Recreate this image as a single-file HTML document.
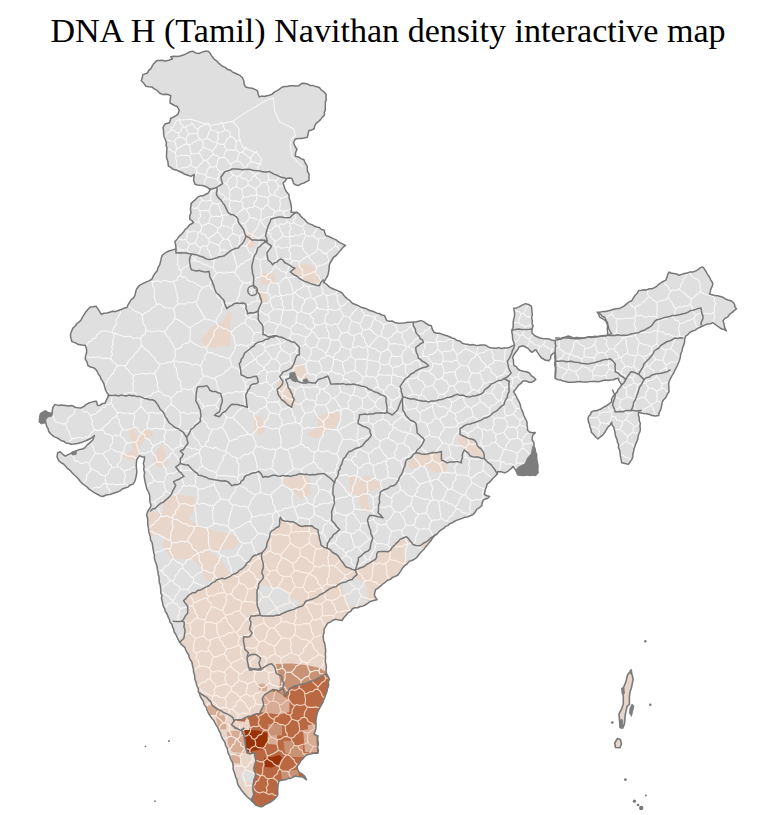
<!DOCTYPE html>
<html><head><meta charset="utf-8"><style>
html,body{margin:0;padding:0;background:#fff;width:770px;height:815px;overflow:hidden}
svg{display:block}
</style></head><body>
<svg width="770" height="815" viewBox="0 0 770 815">
<text x="388" y="41.6" text-anchor="middle" font-family="'Liberation Serif', serif" font-size="34.1" fill="#000">DNA H (Tamil) Navithan density interactive map</text>
<defs><clipPath id="c"><path d="M141.2,80.8 L142.8,74.6 L147.5,73.0 L153.7,63.7 L156.8,60.6 L167.7,60.6 L172.4,59.0 L170.8,56.7 L180.2,55.9 L186.4,53.6 L192.7,51.2 L198.9,53.6 L205.1,51.2 L208.2,51.2 L212.9,57.5 L219.2,63.7 L225.4,67.6 L234.7,73.0 L242.5,77.7 L245.6,87.0 L255.0,89.4 L257.5,90.9 L259.2,96.9 L269.5,95.2 L281.5,87.5 L290.1,85.8 L298.7,85.8 L302.2,83.2 L315.9,86.6 L319.3,87.5 L326.2,94.4 L325.4,104.7 L324.5,115.0 L315.9,123.6 L314.2,128.7 L309.0,130.4 L307.3,137.3 L295.3,139.0 L293.6,142.5 L297.0,149.3 L295.3,156.2 L303.9,159.7 L307.3,166.5 L309.0,176.8 L309.0,180.3 L298.7,185.4 L293.6,183.7 L291.9,178.6 L286.7,178.6 L283.0,183.0 L285.0,189.0 L289.0,194.8 L291.0,204.5 L291.0,212.0 L296.8,212.3 L300.7,216.0 L306.5,222.0 L314.3,226.0 L324.0,230.0 L326.0,235.7 L335.7,239.6 L345.5,245.5 L339.6,251.3 L333.8,257.0 L330.0,263.0 L328.0,274.7 L324.0,282.5 L331.8,288.3 L340.4,292.0 L353.4,303.8 L369.0,310.3 L384.5,315.5 L387.0,320.6 L400.0,323.2 L413.0,322.0 L421.0,320.6 L431.3,325.8 L434.0,332.3 L444.3,335.0 L454.7,338.8 L465.0,344.0 L475.5,345.3 L485.8,345.3 L491.0,348.0 L506.6,348.0 L514.4,345.3 L511.8,332.3 L514.4,316.8 L513.8,308.2 L519.0,306.9 L525.5,303.6 L531.3,306.2 L532.0,312.0 L532.0,323.8 L533.2,325.7 L532.0,329.0 L532.0,332.9 L534.5,335.5 L539.7,338.0 L546.2,338.7 L554.0,340.6 L563.1,338.0 L568.3,336.0 L574.8,338.7 L584.5,337.8 L601.4,336.0 L611.6,333.7 L608.2,326.0 L604.8,317.5 L598.0,312.5 L608.2,310.8 L621.7,307.4 L631.8,300.7 L638.6,290.5 L652.0,288.8 L665.6,280.4 L669.0,272.0 L679.0,275.3 L692.6,272.0 L702.7,266.9 L709.5,277.0 L712.9,283.8 L709.5,294.0 L723.0,297.3 L733.1,302.3 L736.5,309.0 L729.7,314.2 L723.0,321.0 L726.4,331.0 L719.6,327.7 L712.9,322.6 L702.7,326.0 L692.6,331.0 L685.8,336.0 L682.5,348.0 L679.0,361.4 L672.3,375.0 L669.0,381.7 L669.0,391.8 L662.2,402.0 L658.8,415.5 L652.0,415.5 L638.6,412.0 L640.3,429.0 L635.2,445.8 L631.8,459.4 L628.4,464.4 L621.7,462.7 L620.0,452.6 L615.0,432.3 L611.6,422.2 L604.8,432.3 L598.0,439.0 L591.3,432.3 L588.0,418.8 L591.3,412.0 L601.4,408.7 L611.6,402.0 L611.6,398.6 L621.7,385.0 L618.3,378.3 L598.0,381.7 L580.0,381.6 L571.0,382.2 L563.0,381.0 L555.3,378.3 L555.3,352.3 L552.7,353.6 L548.8,360.8 L545.0,360.0 L541.0,357.5 L535.8,349.7 L532.0,352.3 L525.5,347.0 L522.9,345.8 L519.0,347.0 L512.5,357.5 L513.8,365.3 L520.3,370.5 L529.4,373.0 L535.8,379.6 L532.0,382.2 L522.9,381.0 L519.0,384.8 L515.0,390.0 L513.6,391.8 L520.4,405.3 L523.8,415.5 L527.1,422.2 L527.5,430.0 L529.4,432.0 L535.3,432.6 L532.7,435.2 L532.0,439.7 L534.0,443.0 L534.0,446.2 L535.3,449.5 L536.6,457.3 L537.9,465.7 L537.9,472.9 L535.3,475.5 L527.5,474.8 L523.6,475.5 L517.7,474.8 L515.8,470.3 L513.2,466.4 L510.6,469.0 L504.7,472.9 L497.6,471.6 L497.4,473.8 L487.0,484.2 L484.4,494.5 L489.6,496.5 L483.1,500.4 L481.8,505.6 L476.6,509.5 L472.7,514.7 L464.9,517.3 L454.5,521.2 L445.5,526.4 L439.0,531.6 L432.5,538.0 L428.6,543.2 L422.1,551.0 L416.9,557.5 L409.1,561.4 L402.6,567.9 L398.0,575.0 L387.5,580.3 L378.4,588.0 L375.8,589.4 L374.5,595.8 L377.1,599.7 L371.9,601.0 L362.9,606.2 L352.5,608.8 L346.0,615.3 L342.1,620.5 L335.6,619.2 L327.8,623.1 L323.9,629.6 L323.4,638.2 L325.5,648.6 L325.5,659.0 L326.5,673.3 L329.4,679.0 L327.5,688.5 L323.6,700.0 L318.0,711.4 L316.0,719.0 L316.0,726.6 L314.0,734.2 L318.0,736.0 L318.0,753.2 L314.0,753.2 L306.5,755.0 L300.8,760.8 L297.0,766.5 L299.0,772.2 L304.6,776.0 L306.5,779.8 L302.7,777.0 L295.0,776.0 L285.6,779.8 L279.0,781.0 L277.8,788.4 L277.8,794.7 L274.7,798.8 L268.4,803.0 L262.2,806.7 L255.9,805.1 L249.6,798.8 L243.4,792.6 L238.2,785.3 L234.0,771.7 L231.9,761.3 L227.7,750.9 L223.6,740.4 L220.5,733.3 L216.8,726.0 L211.9,718.5 L207.0,710.0 L203.3,701.3 L199.6,694.0 L197.2,686.6 L194.7,676.8 L192.3,664.5 L188.6,654.7 L184.9,647.4 L179.7,642.3 L175.6,634.0 L172.5,626.8 L169.4,619.5 L165.2,611.2 L162.1,600.8 L159.1,577.1 L155.0,560.5 L152.9,548.0 L148.7,531.4 L146.6,514.8 L151.0,505.0 L149.8,498.4 L148.5,492.0 L146.0,485.5 L144.6,479.0 L144.6,472.5 L143.3,463.4 L144.6,456.9 L142.0,456.9 L139.4,455.6 L136.8,459.5 L136.2,466.0 L136.8,472.5 L135.5,479.0 L133.0,484.2 L125.0,488.0 L117.3,492.0 L109.5,494.5 L103.0,496.5 L97.9,494.5 L91.4,490.6 L84.9,485.5 L78.4,479.0 L71.9,472.5 L65.4,466.0 L58.9,460.8 L57.0,456.9 L57.6,453.0 L60.2,451.7 L62.8,454.3 L65.4,456.2 L71.9,453.0 L77.1,450.4 L84.9,447.8 L90.0,442.6 L92.7,440.0 L94.4,435.5 L93.4,436.6 L87.5,440.0 L81.0,442.6 L74.0,444.0 L68.4,443.3 L61.2,440.7 L53.9,436.6 L48.7,431.4 L46.6,426.2 L45.6,422.0 L39.4,422.0 L40.4,414.7 L45.6,411.6 L50.8,414.2 L52.3,413.2 L52.9,407.5 L55.0,404.4 L58.0,405.4 L65.3,405.4 L71.6,405.4 L75.7,407.5 L80.9,408.0 L84.0,406.4 L88.2,403.3 L96.5,401.2 L97.5,405.4 L104.8,403.3 L106.9,399.2 L109.0,395.0 L106.8,392.5 L102.8,381.7 L100.1,376.3 L96.0,369.6 L87.9,365.5 L85.2,358.8 L86.6,349.3 L85.2,345.3 L78.5,344.6 L71.7,341.3 L70.4,335.9 L73.1,327.8 L81.2,319.7 L85.2,312.9 L90.6,306.9 L96.0,306.2 L98.7,310.2 L101.4,314.3 L109.5,312.3 L119.0,310.2 L127.0,307.5 L129.7,302.1 L135.0,295.4 L136.4,289.4 L139.5,285.3 L145.8,282.1 L152.0,279.0 L157.2,270.7 L160.3,262.4 L162.4,255.1 L166.6,252.0 L172.8,249.9 L175.9,248.9 L175.9,245.8 L174.9,241.6 L179.0,236.4 L183.2,232.3 L189.4,225.0 L193.6,222.5 L189.7,219.2 L191.0,212.7 L190.4,208.8 L191.0,203.6 L193.6,201.0 L197.5,197.1 L202.7,195.8 L208.0,193.2 L210.5,189.4 L209.2,188.7 L202.7,185.5 L195.0,184.2 L193.6,180.3 L194.3,174.4 L191.0,176.4 L182.0,172.5 L172.9,169.2 L168.3,166.0 L166.4,156.9 L167.0,147.8 L165.6,140.3 L163.6,133.8 L163.0,127.3 L164.9,124.0 L169.5,122.7 L170.8,118.2 L174.0,116.9 L177.9,114.3 L179.2,110.4 L177.3,106.5 L172.7,104.5 L170.1,103.2 L170.1,100.0 L170.8,95.7 L159.9,93.3 L156.8,90.2 L152.1,87.1 L145.9,86.3 Z"/></clipPath></defs>
<path d="M141.2,80.8 L142.8,74.6 L147.5,73.0 L153.7,63.7 L156.8,60.6 L167.7,60.6 L172.4,59.0 L170.8,56.7 L180.2,55.9 L186.4,53.6 L192.7,51.2 L198.9,53.6 L205.1,51.2 L208.2,51.2 L212.9,57.5 L219.2,63.7 L225.4,67.6 L234.7,73.0 L242.5,77.7 L245.6,87.0 L255.0,89.4 L257.5,90.9 L259.2,96.9 L269.5,95.2 L281.5,87.5 L290.1,85.8 L298.7,85.8 L302.2,83.2 L315.9,86.6 L319.3,87.5 L326.2,94.4 L325.4,104.7 L324.5,115.0 L315.9,123.6 L314.2,128.7 L309.0,130.4 L307.3,137.3 L295.3,139.0 L293.6,142.5 L297.0,149.3 L295.3,156.2 L303.9,159.7 L307.3,166.5 L309.0,176.8 L309.0,180.3 L298.7,185.4 L293.6,183.7 L291.9,178.6 L286.7,178.6 L283.0,183.0 L285.0,189.0 L289.0,194.8 L291.0,204.5 L291.0,212.0 L296.8,212.3 L300.7,216.0 L306.5,222.0 L314.3,226.0 L324.0,230.0 L326.0,235.7 L335.7,239.6 L345.5,245.5 L339.6,251.3 L333.8,257.0 L330.0,263.0 L328.0,274.7 L324.0,282.5 L331.8,288.3 L340.4,292.0 L353.4,303.8 L369.0,310.3 L384.5,315.5 L387.0,320.6 L400.0,323.2 L413.0,322.0 L421.0,320.6 L431.3,325.8 L434.0,332.3 L444.3,335.0 L454.7,338.8 L465.0,344.0 L475.5,345.3 L485.8,345.3 L491.0,348.0 L506.6,348.0 L514.4,345.3 L511.8,332.3 L514.4,316.8 L513.8,308.2 L519.0,306.9 L525.5,303.6 L531.3,306.2 L532.0,312.0 L532.0,323.8 L533.2,325.7 L532.0,329.0 L532.0,332.9 L534.5,335.5 L539.7,338.0 L546.2,338.7 L554.0,340.6 L563.1,338.0 L568.3,336.0 L574.8,338.7 L584.5,337.8 L601.4,336.0 L611.6,333.7 L608.2,326.0 L604.8,317.5 L598.0,312.5 L608.2,310.8 L621.7,307.4 L631.8,300.7 L638.6,290.5 L652.0,288.8 L665.6,280.4 L669.0,272.0 L679.0,275.3 L692.6,272.0 L702.7,266.9 L709.5,277.0 L712.9,283.8 L709.5,294.0 L723.0,297.3 L733.1,302.3 L736.5,309.0 L729.7,314.2 L723.0,321.0 L726.4,331.0 L719.6,327.7 L712.9,322.6 L702.7,326.0 L692.6,331.0 L685.8,336.0 L682.5,348.0 L679.0,361.4 L672.3,375.0 L669.0,381.7 L669.0,391.8 L662.2,402.0 L658.8,415.5 L652.0,415.5 L638.6,412.0 L640.3,429.0 L635.2,445.8 L631.8,459.4 L628.4,464.4 L621.7,462.7 L620.0,452.6 L615.0,432.3 L611.6,422.2 L604.8,432.3 L598.0,439.0 L591.3,432.3 L588.0,418.8 L591.3,412.0 L601.4,408.7 L611.6,402.0 L611.6,398.6 L621.7,385.0 L618.3,378.3 L598.0,381.7 L580.0,381.6 L571.0,382.2 L563.0,381.0 L555.3,378.3 L555.3,352.3 L552.7,353.6 L548.8,360.8 L545.0,360.0 L541.0,357.5 L535.8,349.7 L532.0,352.3 L525.5,347.0 L522.9,345.8 L519.0,347.0 L512.5,357.5 L513.8,365.3 L520.3,370.5 L529.4,373.0 L535.8,379.6 L532.0,382.2 L522.9,381.0 L519.0,384.8 L515.0,390.0 L513.6,391.8 L520.4,405.3 L523.8,415.5 L527.1,422.2 L527.5,430.0 L529.4,432.0 L535.3,432.6 L532.7,435.2 L532.0,439.7 L534.0,443.0 L534.0,446.2 L535.3,449.5 L536.6,457.3 L537.9,465.7 L537.9,472.9 L535.3,475.5 L527.5,474.8 L523.6,475.5 L517.7,474.8 L515.8,470.3 L513.2,466.4 L510.6,469.0 L504.7,472.9 L497.6,471.6 L497.4,473.8 L487.0,484.2 L484.4,494.5 L489.6,496.5 L483.1,500.4 L481.8,505.6 L476.6,509.5 L472.7,514.7 L464.9,517.3 L454.5,521.2 L445.5,526.4 L439.0,531.6 L432.5,538.0 L428.6,543.2 L422.1,551.0 L416.9,557.5 L409.1,561.4 L402.6,567.9 L398.0,575.0 L387.5,580.3 L378.4,588.0 L375.8,589.4 L374.5,595.8 L377.1,599.7 L371.9,601.0 L362.9,606.2 L352.5,608.8 L346.0,615.3 L342.1,620.5 L335.6,619.2 L327.8,623.1 L323.9,629.6 L323.4,638.2 L325.5,648.6 L325.5,659.0 L326.5,673.3 L329.4,679.0 L327.5,688.5 L323.6,700.0 L318.0,711.4 L316.0,719.0 L316.0,726.6 L314.0,734.2 L318.0,736.0 L318.0,753.2 L314.0,753.2 L306.5,755.0 L300.8,760.8 L297.0,766.5 L299.0,772.2 L304.6,776.0 L306.5,779.8 L302.7,777.0 L295.0,776.0 L285.6,779.8 L279.0,781.0 L277.8,788.4 L277.8,794.7 L274.7,798.8 L268.4,803.0 L262.2,806.7 L255.9,805.1 L249.6,798.8 L243.4,792.6 L238.2,785.3 L234.0,771.7 L231.9,761.3 L227.7,750.9 L223.6,740.4 L220.5,733.3 L216.8,726.0 L211.9,718.5 L207.0,710.0 L203.3,701.3 L199.6,694.0 L197.2,686.6 L194.7,676.8 L192.3,664.5 L188.6,654.7 L184.9,647.4 L179.7,642.3 L175.6,634.0 L172.5,626.8 L169.4,619.5 L165.2,611.2 L162.1,600.8 L159.1,577.1 L155.0,560.5 L152.9,548.0 L148.7,531.4 L146.6,514.8 L151.0,505.0 L149.8,498.4 L148.5,492.0 L146.0,485.5 L144.6,479.0 L144.6,472.5 L143.3,463.4 L144.6,456.9 L142.0,456.9 L139.4,455.6 L136.8,459.5 L136.2,466.0 L136.8,472.5 L135.5,479.0 L133.0,484.2 L125.0,488.0 L117.3,492.0 L109.5,494.5 L103.0,496.5 L97.9,494.5 L91.4,490.6 L84.9,485.5 L78.4,479.0 L71.9,472.5 L65.4,466.0 L58.9,460.8 L57.0,456.9 L57.6,453.0 L60.2,451.7 L62.8,454.3 L65.4,456.2 L71.9,453.0 L77.1,450.4 L84.9,447.8 L90.0,442.6 L92.7,440.0 L94.4,435.5 L93.4,436.6 L87.5,440.0 L81.0,442.6 L74.0,444.0 L68.4,443.3 L61.2,440.7 L53.9,436.6 L48.7,431.4 L46.6,426.2 L45.6,422.0 L39.4,422.0 L40.4,414.7 L45.6,411.6 L50.8,414.2 L52.3,413.2 L52.9,407.5 L55.0,404.4 L58.0,405.4 L65.3,405.4 L71.6,405.4 L75.7,407.5 L80.9,408.0 L84.0,406.4 L88.2,403.3 L96.5,401.2 L97.5,405.4 L104.8,403.3 L106.9,399.2 L109.0,395.0 L106.8,392.5 L102.8,381.7 L100.1,376.3 L96.0,369.6 L87.9,365.5 L85.2,358.8 L86.6,349.3 L85.2,345.3 L78.5,344.6 L71.7,341.3 L70.4,335.9 L73.1,327.8 L81.2,319.7 L85.2,312.9 L90.6,306.9 L96.0,306.2 L98.7,310.2 L101.4,314.3 L109.5,312.3 L119.0,310.2 L127.0,307.5 L129.7,302.1 L135.0,295.4 L136.4,289.4 L139.5,285.3 L145.8,282.1 L152.0,279.0 L157.2,270.7 L160.3,262.4 L162.4,255.1 L166.6,252.0 L172.8,249.9 L175.9,248.9 L175.9,245.8 L174.9,241.6 L179.0,236.4 L183.2,232.3 L189.4,225.0 L193.6,222.5 L189.7,219.2 L191.0,212.7 L190.4,208.8 L191.0,203.6 L193.6,201.0 L197.5,197.1 L202.7,195.8 L208.0,193.2 L210.5,189.4 L209.2,188.7 L202.7,185.5 L195.0,184.2 L193.6,180.3 L194.3,174.4 L191.0,176.4 L182.0,172.5 L172.9,169.2 L168.3,166.0 L166.4,156.9 L167.0,147.8 L165.6,140.3 L163.6,133.8 L163.0,127.3 L164.9,124.0 L169.5,122.7 L170.8,118.2 L174.0,116.9 L177.9,114.3 L179.2,110.4 L177.3,106.5 L172.7,104.5 L170.1,103.2 L170.1,100.0 L170.8,95.7 L159.9,93.3 L156.8,90.2 L152.1,87.1 L145.9,86.3 Z" fill="#dfdfdf"/>
<g clip-path="url(#c)">
<path d="M150.0,622.0 L173.2,621.3 L181.6,621.3 L187.8,613.0 L187.8,606.8 L183.6,600.5 L189.9,594.3 L200.3,590.1 L208.6,586.0 L216.9,579.7 L227.3,577.7 L235.6,573.5 L243.9,567.3 L252.2,556.9 L261.8,553.0 L266.5,546.8 L268.0,540.5 L271.2,531.2 L279.0,526.5 L280.5,517.1 L282.0,520.3 L293.0,521.8 L302.3,526.5 L311.7,525.7 L318.0,529.6 L319.5,539.0 L321.0,545.2 L327.3,548.3 L336.6,554.5 L341.3,560.8 L346.0,567.0 L355.3,570.0 L362.3,567.3 L375.3,559.5 L378.0,551.7 L388.3,551.7 L400.0,539.4 L406.5,536.8 L413.0,544.5 L419.5,545.8 L426.0,542.0 L432.5,536.8 L436.0,534.0 L460.0,520.0 L460.0,815.0 L150.0,815.0 Z" fill="#e9d6ca"/>
<path d="M160.0,615.0 L170.4,620.5 L175.6,619.5 L178.7,622.6 L183.9,621.6 L183.9,626.8 L185.0,632.0 L183.9,638.2 L180.8,641.3 L179.7,642.3 L160.0,650.0 Z" fill="#dfdfdf"/>
<path d="M258.7,584.2 L270.0,586.0 L282.0,588.0 L291.0,598.0 L300.0,602.0 L294.5,609.1 L285.2,612.2 L279.0,615.3 L268.0,616.1 L260.3,615.3 L258.7,609.1 L257.1,601.3 L257.1,590.4 Z" fill="#dfdfdf"/>
<path d="M342.0,580.0 L355.0,578.0 L366.0,583.0 L368.0,600.0 L360.0,606.0 L348.0,606.0 L343.0,595.0 Z" fill="#dfdfdf"/>
<path d="M403.0,545.2 L412.0,542.0 L420.0,540.0 L424.0,550.0 L412.0,565.0 L404.4,558.2 Z" fill="#dfdfdf"/>
<path d="M164.9,498.7 L177.4,494.5 L194.0,496.6 L196.1,507.0 L189.9,517.4 L181.6,521.6 L173.2,523.6 L162.9,517.4 L162.9,505.0 Z" fill="#e9d6ca"/>
<path d="M140.0,508.0 L148.5,511.2 L163.0,513.0 L171.2,522.0 L173.0,530.0 L163.0,536.1 L150.0,535.0 L140.0,530.0 Z" fill="#e9d6ca"/>
<path d="M173.2,523.6 L187.8,517.4 L198.2,525.7 L212.7,529.9 L231.4,534.0 L239.7,542.3 L233.5,548.6 L219.0,550.6 L208.6,550.6 L221.0,559.0 L227.3,569.4 L231.4,577.7 L219.0,579.7 L206.5,581.8 L200.3,567.3 L192.0,559.0 L171.2,559.0 L162.9,546.5 L165.0,534.0 Z" fill="#e9d6ca"/>
<path d="M276.0,664.0 L291.3,663.5 L306.5,665.0 L320.0,668.0 L327.0,673.0 L325.9,674.3 L318.1,678.2 L305.1,683.4 L294.7,686.0 L289.5,688.6 L284.4,696.4 L279.2,692.5 L280.0,680.0 Z" fill="#c99274"/>
<path d="M258.4,684.0 L264.0,683.4 L267.5,687.0 L266.0,691.2 L259.0,691.0 Z" fill="#d7ab94"/>
<path d="M345.0,674.0 L325.9,674.3 L318.1,678.2 L305.1,683.4 L294.7,686.0 L289.5,688.6 L284.4,696.4 L279.1,690.8 L272.9,689.6 L266.8,693.3 L263.1,697.0 L262.3,699.0 L263.6,705.5 L259.8,713.6 L253.6,714.8 L246.3,717.3 L241.3,719.8 L235.2,719.8 L234.0,721.0 L231.5,724.7 L235.2,728.3 L241.3,730.8 L244.4,736.3 L245.5,744.6 L246.5,750.9 L249.6,754.0 L254.8,753.0 L255.9,761.3 L253.8,768.6 L255.9,773.8 L253.8,780.0 L252.8,788.4 L253.8,794.7 L251.7,798.8 L255.9,805.1 L257.0,815.0 L345.0,815.0 Z" fill="#ba6842"/>
<path d="M234.0,721.0 L237.9,721.0 L245.0,721.8 L246.5,717.9 L249.0,720.0 L250.0,726.0 L248.8,731.2 L242.0,731.0 L239.5,731.2 L237.9,728.0 L231.7,725.0 Z" fill="#e9d6ca"/>
<path d="M264.9,693.8 L271.4,691.2 L279.2,692.5 L284.4,696.4 L289.5,700.0 L289.5,712.0 L280.0,714.5 L266.0,713.0 L261.0,712.0 L263.6,705.5 L262.3,699.0 Z" fill="#d7ab94"/>
<path d="M267.9,724.0 L282.0,724.0 L282.0,735.6 L268.0,735.6 Z" fill="#c99274"/>
<path d="M280.8,770.6 L297.7,770.0 L299.0,776.0 L296.0,779.7 L282.0,779.7 Z" fill="#c99274"/>
<path d="M290.0,745.0 L303.0,745.0 L303.0,757.0 L291.0,757.0 Z" fill="#c99274"/>
<path d="M303.0,730.0 L316.0,728.0 L317.0,752.0 L305.0,752.0 Z" fill="#d7ab94"/>
<path d="M268.0,735.6 L277.0,735.0 L277.0,744.7 L268.0,744.0 Z" fill="#d7ab94"/>
<path d="M283.4,741.0 L293.0,740.8 L295.0,753.8 L285.0,753.5 Z" fill="#c99274"/>
<path d="M303.0,753.0 L315.0,752.5 L316.0,763.0 L304.0,762.0 Z" fill="#d7ab94"/>
<path d="M287.0,781.0 L296.0,780.5 L297.7,786.0 L290.0,790.0 Z" fill="#d7ab94"/>
<path d="M307.7,725.0 L316.0,724.0 L318.0,736.0 L309.0,737.0 Z" fill="#d7ab94"/>
<path d="M244.4,730.0 L250.7,730.0 L258.0,730.5 L267.4,733.0 L267.0,742.0 L264.0,749.0 L251.7,751.0 L251.7,754.0 L246.5,753.5 L245.5,744.6 L244.4,736.3 Z" fill="#9a3208"/>
<path d="M264.2,758.0 L272.0,757.0 L279.0,755.0 L282.0,757.5 L279.0,764.0 L272.0,767.5 L265.0,767.0 Z" fill="#9a3208"/>
<path d="M207.0,706.0 L214.0,705.0 L220.5,710.0 L219.0,716.0 L210.0,716.0 Z" fill="#d7ab94"/>
<path d="M215.6,716.0 L224.0,715.0 L226.6,722.0 L226.0,729.6 L219.0,729.0 Z" fill="#d7ab94"/>
<path d="M226.7,732.0 L235.0,730.5 L244.4,732.0 L246.0,745.0 L244.4,753.0 L232.0,752.0 L228.0,744.0 Z" fill="#d7ab94"/>
<path d="M230.9,754.0 L239.0,753.5 L241.3,758.0 L240.0,763.4 L232.0,763.0 Z" fill="#d7ab94"/>
<path d="M240.2,772.0 L252.5,772.0 L253.8,782.2 L242.0,782.0 Z" fill="#dfdfdf"/>
<path d="M246.0,229.7 L250.0,231.0 L254.0,238.0 L255.2,246.0 L250.0,248.4 L245.5,244.0 L247.0,238.0 Z" fill="#e9d6ca"/>
<path d="M260.0,273.0 L275.0,273.0 L276.0,284.0 L261.0,285.0 Z" fill="#e9d6ca"/>
<path d="M290.3,271.8 L294.9,267.1 L301.9,263.6 L310.1,264.7 L316.0,269.4 L320.6,276.4 L321.8,282.3 L319.5,285.8 L310.1,283.4 L301.9,279.9 L294.9,275.3 Z" fill="#e9d6ca"/>
<path d="M257.7,291.0 L265.0,292.0 L267.4,302.5 L260.0,302.0 Z" fill="#e9d6ca"/>
<path d="M230.1,312.1 L231.4,318.0 L230.1,326.4 L230.7,331.0 L230.1,346.6 L219.7,346.6 L214.5,347.9 L204.1,345.3 L200.2,338.8 L206.7,333.6 L210.6,327.1 L216.4,325.1 L222.9,321.9 L225.5,316.7 L227.5,312.1 Z" fill="#e9d6ca"/>
<path d="M276.0,381.0 L285.0,383.0 L295.0,392.0 L297.0,405.0 L290.0,407.0 L279.0,399.0 Z" fill="#e9d6ca"/>
<path d="M292.0,364.0 L305.0,364.0 L307.0,378.0 L294.0,378.0 Z" fill="#e9d6ca"/>
<path d="M255.0,416.0 L262.0,417.0 L265.0,430.0 L259.0,436.0 L254.0,428.0 Z" fill="#e9d6ca"/>
<path d="M316.8,417.7 L324.2,413.3 L338.9,411.8 L340.4,419.1 L333.0,429.5 L324.2,432.4 L318.3,438.3 L313.9,438.3 L306.5,433.9 L315.3,428.0 L318.3,422.1 Z" fill="#e9d6ca"/>
<path d="M128.6,427.8 L134.0,427.0 L135.6,434.0 L140.3,435.6 L142.6,428.6 L147.3,430.1 L152.7,432.5 L152.7,436.4 L145.7,438.7 L141.0,445.7 L137.9,452.7 L135.6,460.5 L129.4,459.8 L122.3,456.6 L127.8,452.7 L132.5,449.6 L131.7,441.8 L129.4,435.6 Z" fill="#e9d6ca"/>
<path d="M160.5,445.0 L163.6,447.3 L166.0,455.1 L166.8,463.6 L163.6,466.8 L158.2,466.8 L152.7,462.1 L154.3,455.9 L157.4,449.6 Z" fill="#e9d6ca"/>
<path d="M283.0,479.5 L302.0,475.0 L309.5,478.0 L311.0,494.3 L302.0,498.7 L293.3,491.3 L283.0,481.0 Z" fill="#e9d6ca"/>
<path d="M349.2,476.6 L358.0,476.6 L359.5,482.5 L365.4,475.1 L371.3,478.0 L380.0,482.5 L380.0,488.4 L368.4,491.3 L368.4,503.1 L369.8,512.0 L362.5,512.0 L356.6,494.3 L350.7,492.8 L349.2,482.5 Z" fill="#e9d6ca"/>
<path d="M407.1,462.9 L415.7,454.3 L424.3,454.3 L441.4,451.4 L441.4,460.0 L447.1,462.9 L447.1,468.6 L444.3,472.9 L431.4,471.4 L427.1,465.7 L418.6,467.1 L410.0,468.6 Z" fill="#e9d6ca"/>
<path d="M457.1,438.6 L464.3,435.7 L474.3,440.0 L478.6,447.1 L484.3,452.9 L484.3,458.6 L475.7,455.7 L464.3,450.0 L460.0,447.1 L458.6,441.4 Z" fill="#e9d6ca"/>
<path d="M170.9,126.6 L171.4,129.9 M171.4,129.9 L169.4,131.8 L167.2,133.4 L165.7,135.7 L164.4,138.1 M164.4,138.1 L163.0,138.6 M714.9,311.3 L714.3,308.7 L714.5,306.1 L715.9,303.5 L714.0,300.9 L715.1,298.3 M715.1,298.3 L713.0,296.6 L710.5,295.5 L707.8,295.0 L705.2,294.3 L702.8,293.2 L700.6,291.6 M699.4,281.1 L700.3,283.7 L700.1,286.4 L700.3,289.0 L700.6,291.6 M191.8,123.1 L193.9,125.2 L195.4,127.9 L198.3,129.1 M208.0,122.8 L205.2,123.8 L203.0,125.7 L200.2,126.6 L198.3,129.1 M165.0,147.9 L167.8,148.5 L170.4,149.5 L172.5,151.6 L175.2,152.5 M175.2,152.5 L175.8,155.6 M714.9,311.3 L714.0,312.2 M714.0,312.2 L711.5,313.6 L709.0,313.9 L706.2,313.2 L703.6,313.7 L700.9,313.0 L698.4,314.0 L695.8,314.6 M700.6,291.6 L698.2,293.4 L695.9,295.2 L693.9,297.4 L691.2,298.8 M695.8,314.6 L693.5,312.6 L692.4,309.8 L692.0,306.7 L690.2,304.3 M691.2,298.8 L691.3,301.7 L690.2,304.3 M714.0,312.2 L714.2,314.9 L714.9,317.6 L713.0,320.3 L714.4,323.0 L713.6,325.6 M412.2,452.9 L410.6,450.9 L409.3,448.4 L407.9,446.2 L405.0,445.2 L403.9,442.6 M412.2,452.9 L409.4,453.8 L408.4,457.1 L405.2,457.4 L402.9,458.9 L401.1,461.1 M401.1,461.1 L398.4,460.7 L396.3,459.0 L394.1,457.6 M394.1,457.6 L395.4,455.1 L394.3,452.1 L396.3,449.7 L397.3,447.1 L397.3,444.3 M397.3,444.3 L400.6,443.5 L403.9,442.6 M404.8,473.5 L407.5,474.0 L410.3,473.5 M404.8,473.5 L403.5,471.2 L402.7,468.7 L402.3,466.2 L401.1,463.8 L401.1,461.1 M412.3,453.0 L413.9,455.0 L414.1,457.8 L416.1,459.6 L417.8,461.5 L419.3,463.6 L420.1,466.0 M410.3,473.5 L413.3,472.4 L415.1,469.7 L418.3,468.7 L420.1,466.0 M404.8,473.5 L402.7,475.7 L400.7,477.9 L398.6,480.2 M398.6,480.2 L396.3,478.7 L393.6,478.3 L390.9,478.0 L388.3,477.5 M388.3,477.5 L387.8,474.7 L388.4,471.9 L387.1,469.3 L387.9,466.4 L385.7,463.9 L386.3,461.1 M387.8,458.9 L386.3,461.1 M387.8,458.9 L390.9,458.1 L394.1,457.6 M414.6,495.6 L415.6,493.3 L417.5,491.4 L417.1,488.5 L419.3,486.6 L419.7,484.1 M414.6,495.6 L416.9,496.7 L419.3,497.5 L421.7,498.1 L423.9,499.5 L426.7,498.9 L429.1,499.7 L431.4,500.7 M431.4,500.7 L433.3,500.0 M433.3,500.0 L432.3,497.3 L431.6,494.7 L431.6,491.9 L432.7,489.0 L432.2,486.4 L430.3,483.9 L430.8,481.1 M419.7,484.1 L422.3,483.4 L424.8,482.4 L427.5,481.8 L430.0,480.8 M430.0,480.8 L430.8,481.1 M398.6,480.2 L398.9,483.4 L400.2,486.5 L400.3,489.7 M410.3,473.5 L411.4,476.3 L414.1,477.7 L415.7,480.0 L417.6,482.1 L419.7,484.1 M412.2,496.7 L409.5,495.9 L407.0,494.8 L405.0,492.7 L403.0,490.6 L400.3,489.7 M412.2,496.7 L414.6,495.6 M410.3,505.8 L411.6,502.9 L412.1,499.8 L412.2,496.7 M410.3,505.8 L412.8,507.2 L413.4,510.3 L415.5,512.1 L417.8,513.6 M417.8,513.6 L420.5,514.3 L423.0,513.3 L425.5,513.0 M425.5,513.0 L427.5,510.9 L427.0,507.7 L428.1,505.2 L429.3,502.7 L431.4,500.7 M420.1,466.0 L424.2,466.2 M424.2,466.2 L425.7,468.4 L426.7,470.9 L427.8,473.2 L427.9,476.0 L430.0,478.0 L430.0,480.8 M442.0,499.9 L439.2,501.1 M442.0,499.9 L444.2,501.3 L446.9,501.6 L448.6,503.8 L451.5,503.7 L453.5,505.4 L455.5,507.0 M439.2,501.1 L438.6,504.0 L439.9,506.8 L439.6,509.7 L440.3,512.5 L440.8,515.3 L441.4,518.1 M455.5,507.0 L456.1,508.7 M456.1,508.7 L455.2,511.1 L453.1,512.7 L452.7,515.5 L449.9,516.6 L448.3,518.5 L447.7,521.1 M441.4,518.1 L444.2,520.3 L447.7,521.1 M425.5,513.0 L427.8,514.6 L428.8,517.0 L430.4,519.1 L431.6,521.4 M431.6,521.4 L433.8,519.8 L436.6,520.0 L439.2,519.6 L441.4,518.1 M433.3,500.0 L436.3,500.1 L439.2,501.1 M469.6,515.8 L467.7,513.9 L465.4,512.8 L462.5,512.9 L460.8,510.5 L458.7,509.1 L456.1,508.7 M434.9,538.4 L432.8,536.3 L432.0,533.5 L430.6,530.9 L428.8,528.7 M428.8,528.7 L429.9,526.3 L429.8,523.5 L431.6,521.4 M471.7,482.2 L474.0,483.8 L476.5,485.0 L478.8,486.7 L481.3,487.9 L484.0,488.6 M471.7,482.2 L470.9,484.8 L468.9,486.9 L467.3,489.2 L466.1,491.6 L465.6,494.4 M471.4,500.3 L468.9,498.9 L466.8,497.1 L465.6,494.4 M471.4,500.3 L473.9,500.5 L476.4,499.3 L479.0,499.9 L481.5,499.6 M481.5,499.6 L483.1,497.1 L482.5,494.0 L482.9,491.2 L484.0,488.6 M469.6,515.8 L469.8,513.2 L470.5,510.7 L469.6,507.9 L470.5,505.4 L470.3,502.8 L471.4,500.3 M463.2,494.9 L465.6,494.4 M463.2,494.9 L461.4,497.1 L459.5,499.3 L458.8,502.3 L457.3,504.7 L455.5,507.0 M488.3,487.2 L484.0,488.6 M494.4,479.6 L492.2,477.7 L489.5,476.3 L487.4,474.4 L485.3,472.4 L483.3,470.2 M499.3,474.4 L499.5,471.9 L498.9,469.4 L500.7,467.0 L500.5,464.5 L500.6,462.0 M500.6,462.0 L499.7,460.4 M499.7,460.4 L496.8,460.8 L493.8,461.2 L491.0,459.6 L488.0,460.9 L485.1,460.0 M483.3,470.2 L483.0,467.5 L483.4,465.0 L483.7,462.4 L485.1,460.0 M471.7,482.2 L470.6,477.9 M470.6,477.9 L473.6,477.1 L475.4,474.4 L478.0,472.9 L481.1,472.3 L483.3,470.2 M483.8,458.4 L485.1,460.0 M483.8,458.4 L480.8,458.4 L478.0,459.6 L475.0,459.3 L472.0,458.5 L469.1,459.6 M469.1,459.6 L469.4,462.4 L468.6,465.3 L469.9,468.1 L468.5,470.9 L468.3,473.7 L468.9,476.6 M470.6,477.9 L468.9,476.6 M451.1,444.3 L453.4,445.5 L455.9,445.7 L458.5,445.6 L461.1,445.5 L463.4,447.0 L465.9,447.5 M451.1,444.3 L452.9,442.0 L453.2,438.9 L454.7,436.4 L456.5,434.1 L458.3,431.8 L459.2,429.0 M459.2,429.0 L461.4,431.3 L464.9,431.3 L467.2,433.5 M467.2,433.5 L468.4,436.0 L467.7,438.8 L468.6,441.3 L469.4,443.8 M469.4,443.8 L467.3,445.3 L465.9,447.5 M52.0,405.3 L51.3,408.2 L51.9,410.9 L52.6,413.6 L53.2,416.3 L54.4,418.9 L54.7,421.7 M88.6,436.9 L85.8,436.9 L83.2,438.2 L80.3,437.3 L77.5,437.7 L74.8,438.1 L72.1,438.9 M88.6,436.9 L90.3,434.4 L92.0,431.9 L94.1,429.6 M94.1,429.6 L93.2,426.9 L91.7,424.3 L92.7,421.1 L91.4,418.5 L90.6,415.8 M72.1,438.9 L70.6,436.5 L69.7,433.9 L68.9,431.2 L67.0,429.0 L66.7,426.1 L64.8,423.9 M64.8,423.9 L67.3,422.2 L68.0,419.3 L69.3,416.8 L72.1,415.4 L74.2,413.5 L74.4,410.1 L77.1,408.7 L78.4,406.2 M90.6,415.8 L89.0,413.6 L87.1,411.8 L84.0,411.6 L81.9,410.1 L81.1,406.9 L78.4,406.2 M67.8,445.2 L68.5,442.6 L70.1,440.6 L72.1,438.9 M54.7,421.7 L57.2,422.4 L59.8,422.7 L62.2,423.9 L64.8,423.9 M111.4,402.4 L109.5,404.4 L106.3,404.6 L104.8,407.4 L101.8,407.8 L100.4,410.6 L97.6,411.4 L95.8,413.7 L93.1,414.6 L90.6,415.8 M111.4,402.4 L111.8,397.6 M111.8,397.6 L110.0,395.6 L109.2,392.9 L107.3,391.0 L105.0,389.3 L104.4,386.6 M104.4,386.6 L102.4,386.3 M164.4,138.1 L166.6,139.9 L169.2,140.5 L171.7,141.3 L174.5,141.2 M175.2,152.5 L176.5,149.5 M174.5,141.2 L175.7,143.8 L176.1,146.7 L176.5,149.5 M177.3,172.9 L178.4,170.7 M178.4,170.7 L177.4,168.3 L176.8,165.9 L176.2,163.4 L176.8,160.8 L175.6,158.4 L176.0,155.8 M208.3,122.9 L210.2,126.0 L210.6,129.6 M198.3,129.1 L197.3,133.4 M197.3,133.4 L198.3,137.0 L200.7,139.9 M206.7,138.4 L208.0,135.5 L208.7,132.3 L210.6,129.6 M206.7,138.4 L204.2,139.2 L202.0,140.6 M202.0,140.6 L200.7,139.9 M95.2,452.9 L94.0,455.7 L91.9,457.9 L90.7,460.8 L88.7,463.1 M95.2,452.9 L94.2,450.2 L93.3,447.4 L92.0,444.8 L90.6,442.3 L90.3,439.3 L88.6,436.9 M70.4,451.5 L70.6,454.3 L73.1,456.2 L74.1,458.6 L74.4,461.4 M74.4,461.4 L77.4,460.9 L80.0,463.1 L82.9,463.4 L85.9,462.1 L88.7,463.1 M534.0,322.6 L531.3,322.7 L529.8,325.4 L527.3,325.9 L525.1,327.0 M534.0,320.2 L531.8,318.8 L530.1,316.6 L526.9,316.9 L525.0,315.0 L523.0,313.3 M525.1,327.0 L523.0,325.3 L520.2,324.6 L518.6,322.3 M518.6,322.3 L518.9,319.3 L520.2,316.6 L521.1,313.8 M523.0,313.3 L521.1,313.8 M543.5,344.4 L545.3,346.4 L547.6,347.4 L549.8,348.8 L552.3,349.4 M543.5,344.4 L544.8,342.0 L545.3,339.3 L545.5,336.6 M560.4,336.7 L559.4,339.2 L559.4,341.8 L559.1,344.3 L559.3,346.9 M559.3,346.9 L555.9,348.5 L552.3,349.4 M529.1,303.0 L528.2,306.0 L525.6,307.9 L525.2,311.1 L523.0,313.3 M535.5,333.7 L532.8,334.8 L531.2,337.2 L529.2,339.2 M525.1,327.0 L524.8,329.7 L523.0,332.0 L523.3,334.7 M529.2,339.2 L525.8,337.6 L523.3,334.7 M538.1,356.7 L538.7,353.5 L538.4,350.1 L539.8,347.1 M524.7,348.9 L527.2,347.1 L528.2,344.2 L529.7,341.6 M539.8,347.1 L537.6,345.2 L534.5,344.8 L532.5,342.4 L529.7,341.6 M548.0,362.7 L549.3,360.2 L550.0,357.5 L551.5,355.0 L551.3,352.0 L552.3,349.4 M543.5,344.4 L539.8,347.1 M529.2,339.2 L529.7,341.6 M678.6,289.4 L676.2,290.1 L673.6,290.1 L671.2,291.0 M678.6,289.4 L680.5,287.3 L680.8,284.4 L682.7,282.3 L683.1,279.4 L685.0,277.3 L686.6,275.1 L687.4,272.4 M671.2,291.0 L668.8,289.4 L668.2,286.3 L665.2,285.0 L665.2,281.5 L662.6,279.9 M691.2,298.8 L689.0,297.3 L686.9,295.8 L685.2,293.7 L682.8,292.5 L681.0,290.5 L678.6,289.4 M690.2,304.3 L687.6,306.1 L684.5,306.0 L681.7,306.9 L678.7,306.9 L676.1,308.7 M676.1,308.7 L673.7,307.1 L672.9,304.4 L671.7,302.0 L669.9,300.0 L668.3,297.9 M668.3,297.9 L668.9,294.1 L671.2,291.0 M699.4,281.1 L697.1,279.2 L694.2,278.1 L691.8,276.4 L690.3,273.5 L687.4,272.4 M668.3,297.9 L665.7,299.7 L662.6,300.4 L659.5,301.1 L656.9,302.8 M656.9,302.8 L655.1,300.9 L652.8,299.7 L651.1,297.7 L648.6,296.8 M648.6,296.8 L647.7,293.7 L647.3,290.5 L646.3,287.5 M695.8,314.6 L694.3,318.3 M694.3,318.3 L694.4,320.9 L695.4,323.3 L696.3,325.7 L697.5,328.0 L698.1,330.5 M634.4,318.0 L631.5,318.0 L628.6,318.5 L625.6,318.0 L622.8,318.9 L619.9,318.9 L617.0,319.0 M634.4,318.0 L635.7,315.8 M635.7,315.8 L635.9,312.1 L635.0,308.6 M635.0,308.6 L633.1,306.7 L630.9,305.2 L629.7,302.6 L627.3,301.3 M611.5,307.9 L612.0,311.0 L611.9,314.1 M611.9,314.1 L613.9,317.1 L617.0,319.0 M656.6,317.1 L654.1,316.3 L651.4,316.9 L648.8,316.1 L646.1,317.5 L643.5,316.5 L641.0,315.3 L638.3,315.8 L635.7,315.8 M656.6,317.1 L656.8,314.2 L657.1,311.4 L657.2,308.5 L657.0,305.7 L656.9,302.8 M648.6,296.8 L646.8,298.6 L645.2,300.7 L643.1,302.2 L641.1,303.9 L639.0,305.3 L636.2,306.1 L635.0,308.6 M603.6,319.8 L605.5,318.1 L607.7,316.9 L609.7,315.3 L611.9,314.1 M339.1,458.7 L342.2,459.3 L345.4,458.9 L348.4,459.9 L351.5,459.9 M339.1,458.7 L338.4,461.6 L336.7,464.2 L337.0,467.4 L335.2,469.9 L334.8,472.9 M351.5,459.9 L353.0,462.1 L354.5,464.3 L356.7,465.8 L358.2,468.0 M334.8,472.9 L336.2,474.8 M336.2,474.8 L338.7,475.5 L341.3,475.6 L343.9,475.1 L346.5,474.4 L348.9,476.7 L351.5,476.3 L354.1,475.3 L356.6,476.2 M358.2,468.0 L357.2,470.6 L357.6,473.5 L356.6,476.2 M473.3,416.7 L476.0,417.9 L477.7,420.4 M473.3,416.7 L470.7,417.8 L468.0,418.5 L465.8,420.4 L463.4,421.8 L460.7,422.7 L458.1,423.7 M458.1,423.7 L457.7,425.6 M457.7,425.6 L459.2,429.0 M467.2,433.5 L469.5,432.3 L471.8,431.2 L473.9,429.6 L475.6,427.5 L478.3,426.9 M477.7,420.4 L477.3,423.7 L478.3,426.9 M410.3,505.8 L407.2,506.7 L405.6,509.9 L402.9,511.3 L400.0,512.5 M400.3,489.7 L398.6,492.3 L395.4,493.1 L393.1,495.0 L391.5,497.7 M391.5,497.7 L392.2,500.8 L391.4,503.7 L390.8,506.7 M390.8,506.7 L393.0,508.7 L394.0,511.5 M400.0,512.5 L397.0,512.0 L394.0,511.5 M413.8,524.5 L415.7,527.6 L418.9,529.3 M413.8,524.5 L411.3,525.5 L408.6,525.4 L406.0,524.8 M418.9,529.3 L418.1,531.7 L417.2,534.1 L415.9,536.3 L415.7,538.9 L415.4,541.5 L413.8,543.7 M406.0,524.8 L404.2,527.8 L401.8,530.5 M401.8,530.5 L401.9,533.2 L403.4,535.3 L405.7,537.0 L405.3,539.9 L407.4,541.8 L408.0,544.2 M417.8,513.6 L417.8,516.7 L415.1,518.8 L415.5,522.0 L413.8,524.5 M428.8,528.7 L425.5,529.0 L422.2,528.7 L418.9,529.3 M400.0,512.5 L401.2,515.0 L403.0,517.1 L404.3,519.5 L405.2,522.1 L406.0,524.8 M600.5,423.2 L599.4,426.0 L597.7,428.5 M600.5,423.2 L599.3,420.0 L597.8,417.0 M597.8,417.0 L595.0,417.5 L592.2,418.0 L589.4,417.4 L586.6,417.0 M587.7,426.1 L590.1,427.2 L592.8,426.8 L595.2,427.7 L597.7,428.5 M519.8,424.6 L522.0,426.1 L524.7,426.3 L526.7,428.2 L529.4,428.3 M519.8,424.6 L519.9,419.9 M519.9,419.9 L522.5,419.1 L523.7,416.5 L526.0,415.3 M477.7,420.4 L480.3,419.6 L482.2,417.4 L484.5,415.9 L487.2,415.3 L489.7,414.1 M478.3,426.9 L481.9,430.2 M489.7,414.1 L492.2,416.6 L495.0,418.8 M495.0,418.8 L493.4,421.3 L494.5,424.3 L492.7,426.8 L492.5,429.6 M492.5,429.6 L489.8,429.8 L487.2,430.7 L484.5,429.0 L481.9,430.2 M469.4,443.8 L472.4,444.5 L475.5,443.5 L478.4,445.5 L481.5,444.8 M481.9,430.2 L482.7,433.1 L482.6,436.1 L482.0,439.0 L480.6,441.9 L481.5,444.8 M466.0,457.0 L469.1,459.6 M466.0,457.0 L464.9,453.8 L466.8,450.6 L465.9,447.5 M483.8,458.4 L483.9,455.4 L482.5,452.4 L483.5,449.3 L483.2,446.3 M481.5,444.8 L483.2,446.3 M499.7,460.4 L500.5,457.8 L501.7,455.3 L502.9,452.8 L503.4,450.0 M483.2,446.3 L486.2,445.7 L489.3,445.5 L491.7,442.8 L494.8,442.6 M503.4,450.0 L501.7,447.6 L499.0,446.4 L497.4,444.0 L494.8,442.6 M492.5,429.6 L493.8,432.5 L496.4,434.2 M494.8,442.6 L496.4,440.0 L495.4,436.9 L496.4,434.2 M507.5,426.5 L505.7,429.4 L503.8,432.3 M507.5,426.5 L507.3,423.2 L506.2,420.4 L504.2,417.9 M504.2,417.9 L501.2,418.4 L498.0,417.5 L495.0,418.8 M503.8,432.3 L501.4,433.1 L499.0,433.9 L496.4,434.2 M421.1,447.1 L418.6,448.1 L416.7,450.1 L414.6,451.6 L412.3,453.0 M421.1,447.1 L421.4,443.6 L422.2,440.2 M403.9,442.6 L405.2,439.6 L406.1,436.3 L408.3,433.7 M422.2,440.2 L419.2,439.6 L417.3,436.9 L414.5,435.9 L412.0,434.3 L409.3,433.2 M408.3,433.7 L409.3,433.2 M104.4,386.6 L106.4,384.7 L106.8,381.7 L108.2,379.4 L109.7,377.2 L111.2,375.0 L113.5,373.2 L114.3,370.5 L115.6,368.2 L117.4,366.1 M117.4,366.1 L115.6,363.6 L112.8,361.9 L111.3,359.1 M83.6,356.2 L86.2,355.6 L88.6,357.2 L91.1,357.6 L93.7,356.8 L96.1,357.9 L98.8,356.8 L101.2,357.9 L103.7,358.5 L106.3,358.1 L108.8,358.5 L111.3,359.1 M83.7,347.2 L85.7,345.7 L87.6,344.0 L88.9,341.7 L91.6,341.0 L92.5,338.3 L95.7,338.1 L96.5,335.2 L98.5,333.7 L100.3,331.9 L102.6,330.8 M189.4,134.0 L186.7,136.7 L185.9,140.4 M189.4,134.0 L187.6,132.0 L186.8,129.3 L185.3,127.2 M185.9,140.4 L183.0,137.7 L179.2,137.0 M185.3,127.2 L184.0,127.0 M184.0,127.0 L181.4,128.3 L181.0,131.6 L178.4,132.8 M178.4,132.8 L179.2,137.0 M197.3,133.4 L194.7,133.5 L192.0,133.5 L189.4,134.0 M187.2,143.9 L185.9,140.4 M187.2,143.9 L188.5,144.8 M188.5,144.8 L191.1,144.3 L193.2,142.5 L195.7,141.5 L197.9,139.9 L200.7,139.9 M191.8,123.1 L190.2,125.3 L187.4,125.7 L185.3,127.2 M174.5,141.2 L176.2,138.4 L179.2,137.0 M176.5,149.5 L178.9,147.5 L181.7,146.4 L184.1,144.5 L187.2,143.9 M177.6,118.2 L180.0,119.8 L180.0,123.2 L182.5,124.7 L184.0,127.0 M171.4,129.9 L174.0,130.3 L175.9,132.3 L178.4,132.8 M178.4,170.7 L180.3,168.5 L183.0,167.6 L186.2,167.7 L188.6,166.3 L190.6,164.3 M176.0,155.8 L178.8,156.2 L181.5,155.1 L184.2,155.7 L187.0,155.2 L189.6,156.3 M189.6,156.3 L190.6,158.9 L191.3,161.5 L190.6,164.3 M188.5,144.8 L190.2,147.5 L190.2,150.9 L191.4,153.7 M189.6,156.3 L191.4,153.7 M318.2,239.3 L315.5,238.4 L313.9,236.0 M318.2,239.3 L320.4,237.8 L323.4,238.6 L325.4,236.6 L327.8,235.8 L330.4,235.3 M313.9,236.0 L313.8,233.0 L316.1,230.6 L316.5,227.8 L316.9,224.9 M152.1,281.6 L152.5,284.1 L152.9,286.6 L154.5,288.9 L154.6,291.5 L154.4,294.2 L154.1,296.9 L154.9,299.3 L155.8,301.8 L156.6,304.2 M152.1,281.6 L154.9,281.6 L157.6,280.4 L160.4,282.3 L163.1,280.4 L165.9,280.5 L168.7,281.7 L171.4,281.9 L174.2,281.1 M173.8,309.4 L171.5,308.0 L168.8,308.0 L166.2,307.8 L163.6,307.4 L161.7,305.0 L159.3,303.9 L156.6,304.2 M173.8,309.4 L175.5,306.4 L178.1,304.1 M174.2,281.1 L173.8,283.8 L175.3,286.2 L175.9,288.7 L175.9,291.3 L177.4,293.7 L176.9,296.4 L177.9,298.9 L177.2,301.6 L178.1,304.1 M82.1,485.5 L83.3,483.1 L85.3,481.1 L86.6,478.7 L86.6,475.7 L87.8,473.2 L90.3,471.4 L90.6,468.6 M88.7,491.0 L91.3,490.0 L93.5,488.1 L96.0,486.9 L99.3,487.7 L101.5,485.8 L103.6,483.6 L106.5,483.5 M90.6,468.6 L93.1,469.8 L95.6,471.0 L98.2,472.0 L100.2,474.3 L102.7,475.5 L105.7,475.8 M106.5,483.5 L105.4,481.0 L105.2,478.4 L105.7,475.8 M88.7,463.1 L89.9,465.8 L90.6,468.6 M95.2,452.9 L97.8,453.9 L100.6,453.8 L103.3,453.8 M103.3,453.8 L104.3,456.4 L106.0,458.6 L108.1,460.5 L108.4,463.6 L111.3,465.0 L111.8,467.9 M111.8,467.9 L109.4,470.2 L108.3,473.6 L105.7,475.8 M124.4,470.9 L122.0,469.6 L120.2,467.2 L117.3,466.8 M124.4,470.9 L124.4,473.4 L125.5,476.0 L124.7,478.5 L124.2,481.1 L124.6,483.6 M124.6,483.6 L121.7,484.7 L118.8,484.3 L115.9,484.9 L112.9,483.8 L110.0,484.2 L107.1,484.0 M111.8,467.9 L114.6,467.3 L117.3,466.8 M107.1,484.0 L106.5,483.5 M103.3,453.8 L105.5,451.7 L108.5,450.7 L110.8,448.7 M117.3,466.8 L117.6,463.9 L120.1,461.7 L121.2,459.1 L121.2,456.0 L122.2,453.4 M110.8,448.7 L113.7,449.8 L116.2,451.8 L119.5,451.8 L122.2,453.4 M302.8,427.9 L301.8,430.5 L302.6,433.3 L301.3,435.9 L301.8,438.6 L300.9,441.2 L300.7,443.9 M302.8,427.9 L305.5,428.8 L308.1,426.8 L310.7,428.4 L313.4,427.7 L316.0,427.3 L318.7,427.2 L321.3,426.5 L324.0,427.4 M324.6,428.1 L324.5,430.7 L323.0,432.9 L323.4,435.6 L321.5,437.7 L320.2,440.0 L319.4,442.4 L318.9,444.9 L318.4,447.4 L318.3,450.1 M324.6,428.1 L324.0,427.4 M300.7,443.9 L303.4,444.6 L304.9,447.5 L308.1,447.4 L309.7,450.0 L312.0,451.4 L314.8,452.0 M314.8,452.0 L318.3,450.1 M336.8,453.6 L338.1,451.3 L338.9,448.9 L339.3,446.2 L341.0,444.1 L341.5,441.5 L343.0,439.3 M336.8,453.6 L334.0,453.9 L331.4,453.4 L329.0,451.4 L326.4,450.7 L323.5,451.9 L320.8,451.6 L318.3,450.1 M337.5,430.3 L339.3,432.3 L340.9,434.4 L342.2,436.7 L343.0,439.3 M337.5,430.3 L334.9,429.6 L332.3,429.6 L329.8,429.1 L327.1,429.2 L324.6,428.1 M387.8,458.9 L386.4,456.2 L384.0,454.3 L382.5,451.7 L380.9,449.2 L379.3,446.8 M386.3,461.1 L383.4,461.0 L381.1,463.3 L378.2,463.1 L375.8,464.8 L373.0,465.2 M369.2,462.8 L373.0,465.2 M369.2,462.8 L369.8,459.5 L368.4,456.4 L368.3,453.2 M379.3,446.8 L377.1,448.0 L374.5,448.6 L372.5,450.3 L371.0,452.7 L368.3,453.2 M351.5,459.9 L352.6,457.1 L355.8,455.9 L355.7,452.3 L357.9,450.3 L359.9,448.3 M358.2,468.0 L361.4,467.6 L363.2,464.4 L366.1,463.4 L369.2,462.8 M368.3,453.2 L365.2,452.1 L362.2,450.7 L359.9,448.3 M339.1,458.7 L337.9,456.2 L336.8,453.6 M343.0,439.3 L345.8,439.7 L348.6,439.3 L351.5,439.1 L354.2,440.8 L357.1,440.3 M359.9,448.3 L359.6,445.4 L358.1,442.9 L357.1,440.3 M316.6,267.4 L318.7,265.6 L321.5,265.3 L323.9,264.4 L326.2,262.9 L328.6,262.0 M316.6,267.4 L315.7,264.7 L313.3,263.0 L312.0,260.6 L309.7,258.9 L308.8,256.2 M308.8,256.2 L311.2,254.5 L313.8,253.2 L316.0,251.4 L318.0,249.2 M318.0,249.2 L321.2,250.2 L323.4,253.1 L326.7,253.6 M328.6,262.0 L328.5,259.1 L327.2,256.4 L326.7,253.6 M318.2,239.3 L318.3,242.6 L317.5,245.9 L318.0,249.2 M336.1,237.6 L336.7,240.5 L335.4,243.2 L335.6,246.1 M335.6,246.1 L333.1,247.6 L331.1,249.8 L328.4,251.1 L326.7,253.6 M616.8,447.9 L619.3,446.2 L621.9,444.5 L624.2,442.5 L627.0,441.2 M618.1,453.4 L620.3,455.3 L623.4,455.3 L625.7,457.2 L628.5,457.7 L630.7,459.9 L633.6,460.2 M627.0,441.2 L628.9,443.8 L632.5,443.9 L633.6,447.4 L636.6,448.3 M597.8,417.0 L599.9,413.3 M597.8,407.8 L598.7,410.6 L599.9,413.3 M516.2,408.1 L515.4,411.5 L512.9,413.9 M516.2,408.1 L514.7,405.4 L512.3,403.2 L511.7,400.0 M502.1,401.2 L505.3,400.9 L508.4,399.7 L511.7,400.0 M502.1,401.2 L503.2,404.0 L504.1,406.8 L504.3,409.8 L504.6,412.7 L506.1,415.4 M506.1,415.4 L509.7,415.6 L512.9,413.9 M519.9,419.9 L517.3,418.2 L515.4,415.8 L512.9,413.9 M523.1,407.1 L519.8,408.7 L516.2,408.1 M516.9,393.9 L515.4,396.2 L512.6,397.3 L511.7,400.0 M489.5,408.3 L491.3,405.7 L494.7,405.0 L496.7,402.7 L498.8,400.5 M489.5,408.3 L490.1,411.2 L489.7,414.1 M498.8,400.5 L500.7,400.4 M504.2,417.9 L506.1,415.4 M500.7,400.4 L502.1,401.2 M519.8,424.6 L516.3,428.0 M516.3,428.0 L513.5,426.9 L510.3,427.4 L507.5,426.5 M524.4,383.2 L523.0,380.4 L519.6,379.4 L518.2,376.6 M520.7,368.2 L520.6,371.3 L518.5,373.6 L518.2,376.6 M627.6,396.9 L631.3,397.9 L634.8,399.0 M627.6,396.9 L626.3,394.1 L626.6,390.9 L626.1,387.9 M637.6,384.6 L634.2,382.7 M637.6,384.6 L637.6,387.5 L636.6,390.2 L635.7,393.0 L635.0,395.7 L635.3,398.7 M626.1,387.9 L628.3,385.4 L631.6,384.6 L634.2,382.7 M635.3,398.7 L634.8,399.0 M627.0,441.2 L627.5,436.5 M640.5,435.1 L638.5,433.1 L635.7,433.2 L633.3,432.1 M633.3,432.1 L630.0,433.9 L627.5,436.5 M612.7,393.8 L615.3,394.6 L616.4,397.6 L618.8,398.6 L621.1,400.0 M621.1,400.0 L619.7,403.3 L620.0,406.9 M607.1,402.6 L607.9,405.7 L609.2,408.7 L611.4,411.1 M620.0,406.9 L617.5,409.2 L614.0,409.3 L611.4,411.1 M599.9,413.3 L602.6,412.3 L605.4,412.1 L608.2,411.8 L611.0,411.9 M611.0,411.9 L611.4,411.1 M669.9,394.1 L667.9,392.3 L665.8,390.7 L664.1,388.5 L661.4,387.7 M672.6,378.9 L670.5,381.2 L667.7,382.1 L665.0,383.1 L662.3,384.1 M661.4,387.7 L662.3,384.1 M681.5,359.0 L680.1,356.7 L677.8,355.4 L675.8,353.7 L674.3,351.5 L672.2,350.0 L670.1,348.5 M681.5,359.0 L679.1,360.4 L676.6,361.8 L673.7,362.0 L670.8,362.1 L668.5,363.7 L666.0,364.9 M665.5,350.1 L670.1,348.5 M665.5,350.1 L665.8,352.9 L664.3,355.2 L663.7,357.8 L662.8,360.3 M662.8,360.3 L664.2,362.7 L666.0,364.9 M673.4,377.2 L671.6,374.8 L670.3,371.9 L667.3,370.4 L665.7,367.9 M665.7,367.9 L666.0,364.9 M489.5,408.3 L487.2,406.9 L485.2,405.0 L483.3,403.0 L480.6,402.1 M473.3,416.7 L473.1,413.9 L472.0,411.2 L471.5,408.5 M480.6,402.1 L477.9,403.1 L476.0,405.3 L473.2,406.1 L471.5,408.5 M458.1,423.7 L456.7,421.4 L455.5,419.1 L456.1,416.1 L454.5,413.9 M454.5,413.9 L456.5,412.3 L459.3,412.2 L461.3,410.5 L463.4,409.1 L465.2,407.0 L467.9,406.6 M471.5,408.5 L467.9,406.6 M603.8,335.5 L604.3,338.4 L606.9,340.4 L606.1,343.9 L607.4,346.5 L609.3,348.8 M603.8,335.5 L606.2,334.5 L608.7,333.5 L611.6,334.6 L614.0,333.2 L616.5,332.7 M623.1,337.7 L620.4,336.7 L618.7,334.3 L616.5,332.7 M623.1,337.7 L621.7,340.3 L619.7,342.3 L617.5,344.3 L615.2,346.1 L614.2,349.0 M614.2,349.0 L609.3,348.8 M599.9,334.1 L603.8,335.5 M597.0,334.5 L595.7,336.7 L596.4,339.6 L595.1,341.9 L594.4,344.3 M594.4,344.3 L595.9,347.1 L596.4,350.4 L598.8,352.7 M598.8,352.7 L601.9,352.2 L604.9,353.5 M604.9,353.5 L607.1,351.2 L609.3,348.8 M617.0,319.0 L616.0,321.7 L617.0,324.5 L617.2,327.2 L616.5,329.9 L616.5,332.7 M620.3,357.0 L618.1,358.8 L615.1,359.1 L613.7,362.1 L611.2,363.3 L608.5,364.2 M620.3,357.0 L618.0,355.6 L617.6,352.7 L615.3,351.3 L614.2,349.0 M608.5,364.2 L608.4,361.2 L607.5,358.5 L606.7,355.8 L604.9,353.5 M576.3,336.5 L576.8,339.7 M594.4,344.3 L592.3,346.0 L590.3,347.6 L587.6,348.0 L585.2,349.0 M576.8,339.7 L578.1,342.7 L580.5,344.7 L583.8,346.0 L585.2,349.0 M569.6,354.2 L569.1,356.7 L568.5,359.2 L568.4,361.7 L568.9,364.2 L568.5,366.7 L569.2,369.3 M569.6,354.2 L567.2,353.0 L564.6,353.3 M564.6,353.3 L563.1,355.6 L561.8,358.0 L559.1,359.1 L558.3,362.0 L556.0,363.5 M556.0,363.5 L558.3,364.6 L559.8,367.1 L562.5,367.6 L564.7,368.9 L566.9,370.2 M566.9,370.2 L569.2,369.3 M559.3,346.9 L560.3,349.7 L563.2,350.9 L564.6,353.3 M576.8,339.7 L574.6,341.7 L573.6,344.2 L573.5,347.1 L572.4,349.5 L571.6,352.2 L569.7,354.2 M553.3,364.0 L556.0,363.5 M560.7,382.3 L562.8,380.3 L562.6,377.1 L563.5,374.5 L566.4,373.0 L566.9,370.2 M579.2,383.7 L578.9,381.1 L578.4,378.5 L578.0,376.0 L575.9,373.8 L576.3,371.1 M576.3,371.1 L572.6,371.0 L569.2,369.3 M658.7,320.0 L658.4,322.7 L659.1,325.4 L657.8,328.0 L657.5,330.6 M658.7,320.0 L661.3,320.0 L663.7,319.4 L666.2,318.8 L668.4,317.1 L670.9,317.0 L673.5,317.1 M673.5,317.1 L675.0,319.9 L678.3,320.8 L679.8,323.5 M657.5,330.6 L657.7,331.1 M657.7,331.1 L660.3,332.0 L663.3,331.9 L665.3,334.6 L668.4,333.9 L670.9,335.3 L673.4,336.4 L676.0,337.2 M679.8,323.5 L679.2,326.0 L678.5,328.5 L678.9,331.0 L679.6,333.6 L679.1,336.1 M679.1,336.1 L676.0,337.2 M656.6,317.1 L658.7,320.0 M634.4,318.0 L635.5,320.5 L634.4,323.2 L634.1,325.8 L636.4,328.2 L635.0,330.9 L635.9,333.4 M635.9,333.4 L638.5,332.4 L641.3,332.7 L644.0,332.4 L646.7,332.3 L649.5,332.7 L652.1,331.7 L654.8,330.7 L657.5,330.6 M676.1,308.7 L674.8,311.4 L674.4,314.4 L673.5,317.1 M694.3,318.3 L691.9,319.3 L689.5,320.3 L687.0,320.9 L684.8,322.2 L682.4,323.2 L679.8,323.5 M665.5,350.1 L662.8,349.1 L660.8,347.0 L658.3,345.7 L656.3,343.7 M670.1,348.5 L671.9,346.6 L673.1,344.3 L673.3,341.6 L675.1,339.6 L676.0,337.2 M656.3,343.7 L657.5,341.3 L656.6,338.6 L657.3,336.2 L657.3,333.6 L657.7,331.1 M686.8,340.1 L684.4,338.5 L682.1,336.5 L679.1,336.1 M621.4,357.3 L623.9,354.8 L627.3,353.5 M621.4,357.3 L620.3,357.0 M623.1,337.7 L625.1,338.0 M627.3,353.5 L627.9,350.8 L626.9,348.3 L626.8,345.7 L626.1,343.1 L626.3,340.4 L625.1,338.0 M652.5,346.6 L649.8,346.3 L647.4,344.7 L644.5,345.0 L642.0,343.7 L639.4,343.0 M652.5,346.6 L656.3,343.7 M635.9,333.4 L635.3,334.5 M639.4,343.0 L638.4,340.0 L636.1,337.6 L635.3,334.5 M625.1,338.0 L627.3,336.2 L630.4,336.8 L633.0,336.0 L635.3,334.5 M147.2,529.8 L149.3,531.4 L152.1,531.5 L154.0,533.4 L156.7,533.9 L159.1,534.8 L161.3,536.2 L163.6,537.4 L165.7,538.8 L168.1,539.8 L170.6,540.6 M147.2,529.8 L149.5,528.1 L151.1,525.7 L153.6,524.2 L155.2,521.7 L157.6,520.2 L159.5,518.0 L161.6,516.1 M161.6,516.1 L164.3,516.6 L167.2,515.8 L169.7,517.2 L172.5,517.6 M170.6,540.6 L170.3,537.8 L171.0,535.2 L170.7,532.4 L172.3,529.9 L173.1,527.3 L172.3,524.4 L172.1,521.7 L173.3,519.1 M172.5,517.6 L173.3,519.1 M334.8,472.9 L332.0,472.3 L329.3,473.6 L326.5,472.7 L323.7,473.1 M314.8,452.0 L313.9,455.2 L313.8,458.5 L313.2,461.7 M313.2,461.7 L315.5,463.2 L316.9,465.4 L318.1,467.8 L320.7,468.9 L322.6,470.6 L323.7,473.1 M350.1,495.1 L347.7,496.1 L345.5,497.4 L342.7,497.1 L340.2,497.9 L337.7,498.5 L335.4,499.6 L333.2,501.2 M350.1,495.1 L348.4,492.8 L345.8,491.4 L344.9,488.3 L342.8,486.4 L340.9,484.2 L338.9,482.2 L336.7,480.4 M336.7,480.4 L334.6,482.4 L334.2,485.4 L332.1,487.4 L330.9,489.9 L329.5,492.3 M329.5,492.3 L331.1,495.2 L332.3,498.1 L333.2,501.2 M352.3,512.8 L354.7,514.7 L355.9,517.6 L357.9,519.8 L359.6,522.2 L361.2,524.7 M352.3,512.8 L349.4,513.5 L347.2,515.5 M361.2,524.7 L360.1,527.1 L359.8,529.6 M347.2,515.5 L346.4,518.2 L345.5,520.8 L346.8,523.7 L345.9,526.3 L346.4,529.1 L345.2,531.7 M345.2,531.7 L348.3,532.6 L351.2,533.9 M359.8,529.6 L356.5,530.2 L354.5,533.3 L351.2,533.9 M389.2,547.1 L387.6,545.1 M401.8,530.5 L399.2,530.0 L396.7,530.0 L394.2,530.9 L391.6,531.1 M387.6,545.1 L389.0,542.5 L389.1,539.4 L389.7,536.6 L390.8,533.9 L391.6,531.1 M394.0,511.5 L393.0,514.3 L391.2,516.8 L389.7,519.3 L386.8,521.0 L386.2,524.1 M391.6,531.1 L389.5,529.0 L387.5,526.8 L386.2,524.1 M336.7,480.4 L336.2,477.6 L336.2,474.8 M356.7,476.4 L355.9,479.1 L355.3,481.9 L354.1,484.5 L352.5,486.9 L353.0,490.1 L351.7,492.6 L350.3,495.2 M388.3,477.5 L385.0,478.9 L381.6,480.2 M373.0,465.2 L373.1,467.8 L373.6,470.4 L373.8,473.0 L375.6,475.3 L375.2,478.0 M381.6,480.2 L378.2,479.8 L375.2,478.0 M391.5,497.7 L388.7,496.7 L386.2,495.4 L384.2,493.2 L381.4,492.3 M381.6,480.2 L380.5,483.2 L381.1,486.3 L382.5,489.3 L381.4,492.3 M356.7,476.4 L359.7,477.3 L362.0,479.5 L364.6,481.1 L367.7,481.5 M375.2,478.0 L372.6,479.0 L370.4,480.6 L367.7,481.5 M516.5,452.9 L519.1,452.1 L520.4,449.5 L522.7,448.3 M516.5,452.9 L514.1,451.9 L511.7,450.9 L509.2,450.4 L506.8,449.6 L504.2,449.7 M510.2,439.9 L508.7,442.4 L506.6,444.4 L505.8,447.3 L504.2,449.7 M510.2,439.9 L512.6,438.9 L515.2,438.8 L517.7,438.3 M517.7,438.3 L520.1,439.4 L522.1,441.1 M522.7,448.3 L523.3,443.9 M522.1,441.1 L523.3,443.9 M503.4,450.0 L504.2,449.7 M503.8,432.3 L505.5,435.2 L507.5,437.8 L510.2,439.9 M516.3,428.0 L517.4,430.5 L517.7,433.0 L517.6,435.7 L517.7,438.3 M530.6,430.1 L528.9,432.4 L526.4,433.9 L524.7,436.1 L522.9,438.3 L522.1,441.1 M536.0,442.7 L533.4,442.4 L530.9,442.8 L528.4,443.9 L525.9,443.9 L523.3,443.9 M500.6,462.0 L503.7,461.6 L506.0,464.1 L509.0,463.7 L511.9,464.0 L514.4,465.6 M516.1,476.0 L515.3,473.5 L514.9,470.9 L515.3,468.1 L514.4,465.6 M516.5,452.9 L517.6,455.4 L517.1,457.9 L515.7,460.5 L516.6,463.0 M514.4,465.6 L516.6,463.0 M450.3,456.9 L447.7,457.6 L445.7,459.3 L443.6,460.8 L441.7,462.8 L439.2,463.6 M450.3,456.9 L450.7,453.9 L450.1,451.0 L449.2,448.1 L448.8,445.2 M442.2,442.8 L445.7,443.3 L448.8,445.2 M442.2,442.8 L441.0,445.4 L439.0,447.4 L437.3,449.7 L436.1,452.3 L433.7,454.0 L431.9,456.1 M439.2,463.6 L436.8,462.4 L434.3,461.4 L432.2,459.7 M432.2,459.7 L431.9,456.1 M466.0,457.0 L463.5,458.2 L461.0,459.3 L458.4,460.3 L455.7,461.0 M451.1,444.3 L448.8,445.2 M455.7,461.0 L453.1,458.8 L450.3,456.9 M439.0,437.9 L440.3,435.4 L441.0,432.5 L443.5,430.6 L444.3,427.8 M439.0,437.9 L440.6,440.4 L442.2,442.8 M444.3,427.8 L446.9,427.3 L449.7,427.4 L452.4,427.1 L455.1,426.8 L457.7,425.6 M421.1,447.1 L422.8,449.4 L425.1,451.0 L427.2,452.8 L430.2,453.7 L431.9,456.1 M439.0,437.9 L436.7,436.7 L434.0,436.9 L431.5,436.2 L429.2,435.0 M422.2,440.2 L424.1,437.8 L426.8,436.5 L429.2,435.0 M424.2,466.2 L425.6,463.8 L428.4,463.2 L430.5,461.7 L432.2,459.7 M457.4,474.9 L455.4,472.7 M457.4,474.9 L455.7,477.0 L455.9,479.9 L453.8,481.7 L452.4,483.8 L452.9,486.8 L450.9,488.7 M455.4,472.7 L452.7,473.2 L450.1,472.9 L447.4,472.4 L444.8,472.9 L442.2,472.1 M448.4,489.5 L446.3,487.3 L443.9,485.6 L442.3,483.0 L440.0,481.1 L437.9,479.0 M448.4,489.5 L450.9,488.7 M437.9,479.0 L439.7,476.9 L440.3,474.1 L442.2,472.1 M468.9,476.6 L466.1,475.7 L463.2,475.2 L460.3,474.8 L457.4,474.9 M455.7,461.0 L456.6,464.0 L454.5,466.8 L455.3,469.8 L455.4,472.7 M463.2,494.9 L460.5,494.1 L458.2,492.6 L455.8,491.1 L453.4,489.9 L450.9,488.7 M439.2,463.6 L440.7,466.2 L441.7,469.1 L442.2,472.1 M430.8,481.1 L434.2,479.8 L437.9,479.0 M442.0,499.9 L444.1,497.6 L445.1,494.6 L445.9,491.6 L448.4,489.5 M426.9,424.5 L427.6,427.1 L428.7,429.6 L429.7,432.1 L429.2,435.0 M426.9,424.5 L425.3,422.3 L422.3,422.2 L420.4,420.5 M409.3,433.2 L410.4,430.2 L411.0,427.0 L412.4,424.1 M420.4,420.5 L418.1,422.6 L414.7,422.1 L412.4,424.1 M148.0,278.8 L149.5,281.0 L152.1,281.6 M156.6,304.2 L155.0,306.4 L152.6,307.6 L150.7,309.3 L149.0,311.2 L146.3,312.0 L144.1,313.4 L142.5,315.5 M142.5,315.5 L140.5,313.4 L138.1,312.0 L135.0,311.6 L132.9,309.7 L130.9,307.5 L128.9,305.6 L126.3,304.4 M102.6,330.8 L105.9,331.0 L109.1,331.7 L112.3,332.3 M121.5,307.2 L119.9,309.5 L120.7,312.6 L119.2,314.9 L118.3,317.4 L115.9,319.4 L116.5,322.5 L116.0,325.1 L114.3,327.3 L112.9,329.7 L112.3,332.3 M111.3,359.1 L110.7,356.5 L112.5,354.1 L111.3,351.4 L112.6,349.0 L111.7,346.3 L113.5,343.9 L112.2,341.2 L113.6,338.8 L114.0,336.2 L113.5,333.6 M112.3,332.3 L113.5,333.6 M173.8,309.4 L174.6,312.4 L175.2,315.4 L174.6,318.5 M205.3,318.6 L202.7,319.9 L200.4,321.5 L198.0,323.0 L195.2,323.8 L193.2,325.9 L190.7,327.2 M205.3,318.6 L203.9,316.2 L202.5,313.8 L201.1,311.4 L199.7,309.1 L197.9,306.9 L196.8,304.4 L195.8,301.8 M195.8,301.8 L193.3,302.6 L190.8,303.0 L188.1,302.1 L185.8,303.9 L183.3,304.0 L180.6,303.7 L178.1,304.1 M174.6,318.5 L177.1,319.4 L179.5,320.5 L181.6,322.0 L183.8,323.5 L185.9,325.1 L187.9,326.9 L190.7,327.2 M316.6,267.4 L315.7,271.9 M308.8,256.2 L308.0,256.1 M315.7,271.9 L313.1,271.9 L310.9,273.5 L308.4,274.1 L306.0,274.9 L303.4,275.4 M303.4,275.4 L302.0,272.9 L302.5,269.6 L299.7,267.4 L299.1,264.6 L298.8,261.6 M308.0,256.1 L305.5,257.2 L303.3,258.7 L301.3,260.6 L298.8,261.6 M190.6,164.3 L192.7,166.8 L195.9,167.8 M195.9,167.8 L197.4,172.1 M197.4,172.1 L195.7,174.3 L193.5,176.1 L191.8,178.3 M220.7,171.8 L217.7,169.5 L216.2,166.1 M220.7,171.8 L218.6,173.8 L218.9,177.0 L216.8,179.0 M216.8,179.0 L213.5,178.7 L210.4,177.1 L207.0,177.4 M210.0,166.7 L213.2,167.4 L216.2,166.1 M210.0,166.7 L207.8,169.2 L206.5,172.2 L205.8,175.4 M205.8,175.4 L207.0,177.4 M210.5,200.2 L207.9,200.8 L205.2,201.2 L202.5,200.2 M210.5,200.2 L210.9,197.4 L210.5,194.5 L211.9,191.9 M211.9,191.9 L209.6,189.4 L205.8,189.5 L203.6,186.9 M202.5,200.2 L200.7,197.5 L199.5,194.5 M202.3,187.5 L203.6,186.9 M197.7,208.0 L199.8,210.4 M197.7,208.0 L198.8,205.1 L200.0,202.2 L202.5,200.2 M199.8,210.4 L202.8,210.8 L206.0,210.2 L208.9,211.5 M213.1,203.3 L210.9,205.6 L209.9,208.6 L208.9,211.5 M213.1,203.3 L210.5,200.2 M188.6,207.2 L191.6,207.2 L194.6,208.5 L197.7,208.0 M197.4,172.1 L199.9,173.8 L203.1,174.0 L205.8,175.4 M207.0,177.4 L205.4,179.5 L204.4,181.8 L204.2,184.4 L203.6,186.9 M206.7,138.4 L209.3,139.1 L211.4,141.2 L213.9,142.3 L216.8,142.3 M210.6,129.6 L213.2,130.5 L215.9,131.2 L217.9,133.2 M216.8,142.3 L218.0,139.4 L217.9,136.3 L217.9,133.2 M221.5,121.5 L223.2,124.0 L223.7,127.0 L225.0,129.7 M217.9,133.2 L220.1,131.7 L223.0,131.7 L225.0,129.7 M225.0,129.7 L227.6,130.6 L229.9,132.0 M216.8,179.0 L219.3,183.3 M211.9,191.9 L214.3,190.0 L217.2,189.3 M219.3,183.3 L219.2,186.6 L217.2,189.3 M218.6,203.8 L215.8,203.9 L213.1,203.3 M218.6,203.8 L221.7,203.0 L223.1,200.0 L225.8,198.8 M217.2,189.3 L219.0,191.2 L219.9,193.8 L223.2,194.3 L224.5,196.6 L225.8,198.8 M220.7,171.8 L223.8,171.8 L226.4,169.6 L229.5,169.8 M225.6,183.6 L222.5,182.5 L219.3,183.3 M225.6,183.6 L228.0,181.8 L228.7,178.7 L231.3,177.1 L233.0,174.8 M229.5,169.8 L231.2,172.4 L233.0,174.8 M291.1,195.0 L288.4,195.3 L286.0,196.9 L283.4,197.5 L280.8,198.0 M286.0,185.6 L282.3,186.2 L278.6,185.7 M280.8,198.0 L277.4,196.8 L274.5,194.7 M278.6,185.7 L277.9,189.0 L275.0,191.3 L274.5,194.7 M280.8,198.0 L279.7,201.0 L280.6,204.1 L279.7,207.1 L279.8,210.2 M275.7,211.6 L279.8,210.2 M275.7,211.6 L273.7,210.0 L271.3,208.7 L269.4,206.9 L267.6,205.0 M274.5,194.7 L270.8,195.2 M270.8,195.2 L267.7,197.7 M267.6,205.0 L268.7,201.4 L267.7,197.7 M236.0,344.6 L234.7,342.2 L234.3,339.4 L234.1,336.6 L231.8,334.5 L231.3,331.7 M236.0,344.6 L238.7,345.5 L241.5,344.3 L244.1,345.8 L246.9,345.6 M246.9,345.6 L250.0,344.5 L252.4,342.3 M244.8,322.7 L242.2,323.6 L239.7,324.8 L237.8,326.8 L235.2,327.8 L233.8,330.6 L231.3,331.7 M244.8,322.7 L246.6,324.9 L249.0,326.6 L251.1,328.6 L252.4,331.3 L254.1,333.5 M254.1,333.5 L253.1,336.4 L252.4,339.3 L252.4,342.3 M293.6,222.7 L293.2,219.9 L295.9,218.0 L295.0,215.1 L295.8,212.7 L296.9,210.3 M293.6,222.7 L296.4,224.4 L299.3,225.6 L302.6,225.9 M302.6,225.9 L304.6,224.2 L305.4,221.7 L307.3,219.9 M279.8,210.2 L283.6,211.5 M283.6,211.5 L285.9,210.5 L288.6,210.3 L290.5,208.4 L293.0,207.8 M111.4,402.4 L112.3,405.4 L113.9,408.1 L116.0,410.4 L117.4,413.2 M94.1,429.6 L97.4,430.6 L100.8,429.9 M117.4,413.2 L117.0,415.0 M117.0,415.0 L115.2,417.0 L112.6,418.3 L110.7,420.3 L109.2,422.7 L106.8,424.2 L104.7,426.0 L102.8,427.9 L100.8,429.9 M110.8,448.7 L110.3,445.6 L112.6,442.9 L112.8,439.9 L112.2,436.8 M100.8,429.9 L103.6,430.4 L104.8,433.5 L107.6,434.1 L110.3,434.7 L112.2,436.8 M117.0,415.0 L117.3,417.7 L119.1,419.9 L119.4,422.5 L120.2,425.1 L121.7,427.3 L122.7,429.8 M112.2,436.8 L114.6,435.1 L117.7,436.1 L120.2,434.6 M122.7,429.8 L121.1,432.0 L120.2,434.6 M120.2,434.6 L121.1,437.2 L123.8,438.3 L124.6,441.0 L126.7,442.6 M122.3,453.3 L124.1,451.0 L124.2,447.8 L125.4,445.2 L126.7,442.6 M236.0,344.6 L235.1,347.5 L234.5,350.5 L232.8,353.0 L231.3,355.6 L229.8,358.2 M246.9,345.6 L248.9,347.5 L248.9,350.5 L250.8,352.4 L251.8,354.9 L253.6,356.9 L254.4,359.5 M254.4,359.5 L252.4,361.3 L249.7,362.2 L247.9,364.3 L245.6,365.7 L243.7,367.6 L241.3,369.0 L239.2,370.7 M239.2,370.7 L237.4,368.3 L234.2,367.9 L232.1,365.8 M229.8,358.2 L230.5,360.7 L231.0,363.4 L232.1,365.8 M205.4,445.7 L205.7,442.7 L208.5,440.8 L208.6,437.8 L209.2,435.0 L211.3,432.8 L211.8,430.0 M205.4,445.7 L207.8,447.0 L210.4,447.2 L212.8,448.5 L215.7,447.3 L218.0,448.9 L220.4,450.0 L222.8,451.0 L225.6,450.7 M229.6,441.3 L228.3,443.5 L227.4,445.9 L226.8,448.4 L225.6,450.7 M229.6,441.3 L228.5,438.9 L227.2,436.7 L226.6,434.0 L225.2,431.8 L223.8,429.7 L222.1,427.7 M222.1,427.7 L219.3,427.3 L217.2,429.7 L214.2,428.8 L211.8,430.0 M170.6,540.6 L171.8,543.0 M171.8,543.0 L174.4,542.5 L177.2,542.8 L179.6,541.4 L182.3,541.4 L185.1,541.9 L187.6,540.8 M173.3,519.1 L176.3,519.2 L178.7,520.7 L181.1,522.1 L183.4,523.9 L186.5,523.7 L188.6,525.9 L191.7,525.7 L194.1,527.3 M187.6,540.8 L188.3,538.3 L189.9,536.3 L191.2,534.2 L192.7,532.1 L193.8,529.9 L194.1,527.3 M171.8,543.0 L171.3,546.0 L169.8,548.7 M169.8,548.7 L170.2,551.3 L171.3,553.8 L172.6,556.1 L173.3,558.6 M173.3,558.6 L175.2,560.7 L177.3,562.4 L180.1,563.1 L182.3,564.7 M182.3,564.7 L185.0,563.8 L186.2,560.8 L188.4,559.2 L191.4,558.7 L192.9,556.2 L195.5,555.1 L197.6,553.3 M187.6,540.8 L189.3,542.9 L191.5,544.5 L192.1,547.4 L193.8,549.5 L196.5,550.8 L197.6,553.3 M275.7,449.9 L278.4,448.3 L281.3,447.5 M275.7,449.9 L273.4,448.7 L270.6,450.0 L268.2,449.0 L265.7,448.6 L263.3,447.9 L261.1,445.9 L258.3,447.4 L256.0,445.9 M281.3,447.5 L280.6,444.9 L281.0,442.2 L281.0,439.6 L280.8,437.0 L279.7,434.5 L279.1,431.9 L279.4,429.2 M279.4,429.2 L276.9,428.0 L273.9,429.0 L271.1,428.6 L268.5,427.8 L265.9,426.7 L263.2,426.2 M256.0,445.9 L255.9,442.8 L254.5,440.3 L253.2,437.6 L252.0,435.0 M252.0,435.0 L254.0,432.6 L256.2,430.4 L257.7,427.7 M257.7,427.7 L260.5,427.2 L263.2,426.2 M299.5,423.6 L301.4,425.5 L302.8,427.9 M299.5,423.6 L296.4,422.8 M287.9,449.6 L284.3,449.4 L281.3,447.5 M287.9,449.6 L290.2,447.8 L293.3,447.9 L295.7,446.5 L298.4,445.6 L300.7,443.9 M279.4,429.2 L280.4,426.6 L282.9,425.2 M296.4,422.8 L293.6,422.4 L291.1,424.0 L288.2,423.3 L285.6,424.5 L282.9,425.2 M304.8,413.6 L307.9,412.7 L311.1,412.2 L313.9,410.4 M304.8,413.6 L303.3,416.0 L301.8,418.4 L301.5,421.5 L299.5,423.6 M324.0,427.4 L323.7,423.4 M323.7,423.4 L322.2,421.1 L320.2,419.3 L318.1,417.5 L316.5,415.2 L315.5,412.6 L313.9,410.4 M341.6,409.6 L339.1,410.6 L336.3,410.1 L334.0,412.1 L331.4,412.9 L328.6,412.4 M342.0,409.8 L340.4,412.1 L341.3,415.0 L340.3,417.4 L340.4,420.1 L339.8,422.7 L338.9,425.1 L337.5,427.5 L337.5,430.2 M323.7,423.4 L324.0,420.3 L326.8,418.2 L328.4,415.6 L328.6,412.4 M304.8,413.6 L303.9,411.2 L302.5,408.9 L301.3,406.5 L300.8,403.9 M290.1,407.3 L291.8,409.6 L292.6,412.3 L292.6,415.4 L295.3,417.2 L294.8,420.5 L296.4,422.8 M290.1,407.3 L292.0,404.8 L293.1,402.0 M300.8,403.9 L298.0,404.3 L295.5,403.5 L293.1,402.0 M397.3,444.3 L395.4,442.3 L393.1,440.8 L390.4,439.8 L388.5,437.8 M408.3,433.7 L406.1,431.9 L403.0,432.2 L400.6,430.6 L397.8,430.2 L395.7,428.0 L393.1,427.3 M388.5,437.8 L388.8,434.8 L390.1,432.3 L392.5,430.1 L393.1,427.3 M379.3,446.8 L379.9,443.7 L380.5,440.7 M388.5,437.8 L385.7,438.5 L383.0,439.3 L380.5,440.7 M357.2,440.1 L359.7,439.5 L361.8,437.9 L364.5,438.1 L366.5,436.1 L369.0,435.7 L371.5,435.3 L373.9,434.6 M380.5,440.7 L377.7,439.3 L375.5,437.3 L373.9,434.6 M402.2,415.3 L404.0,417.3 L405.9,419.2 L408.5,420.3 L410.5,422.1 L412.4,424.1 M402.2,415.3 L400.8,417.8 L398.4,419.3 L396.4,421.3 L393.9,422.8 L392.7,425.5 M392.7,425.5 L393.1,427.3 M328.6,262.0 L331.9,263.9 M335.6,246.1 L338.2,247.5 L338.7,250.9 L341.3,252.4 M315.7,271.9 L316.3,274.8 L319.0,276.3 L319.8,279.0 L321.7,281.0 M321.7,281.0 L324.9,281.0 L327.7,279.6 M444.3,427.8 L443.1,424.9 L441.0,422.5 L439.9,419.5 M426.9,424.5 L429.3,423.2 L431.9,422.2 L433.2,419.3 L436.0,418.5 M436.0,418.5 L439.9,419.5 M454.5,413.9 L452.4,412.4 L450.3,410.8 M439.9,419.5 L441.3,416.9 L444.6,416.6 L446.6,414.8 L447.6,411.8 L450.3,410.8 M360.9,382.1 L361.9,384.6 L363.4,386.8 L365.8,388.4 L366.5,391.1 L368.0,393.3 M360.9,382.1 L358.0,383.3 L355.5,385.2 M367.5,395.2 L368.0,393.3 M367.5,395.2 L364.9,397.2 L361.9,398.6 M361.9,398.6 L359.5,397.7 L357.4,395.9 L354.7,395.7 L352.1,395.2 M355.5,385.2 L354.6,387.7 L354.7,390.5 L353.8,392.9 L352.1,395.2 M359.9,306.2 L357.6,307.5 L356.1,309.5 L354.2,311.3 L352.8,313.5 L351.1,315.3 L349.4,317.3 M359.9,306.2 L361.1,308.6 L361.9,311.1 L363.9,313.1 L364.7,315.6 M352.1,321.3 L354.6,322.0 L357.2,322.6 L359.7,323.3 M352.1,321.3 L349.4,317.3 M364.7,315.6 L362.7,318.0 L361.9,321.1 L359.7,323.3 M364.7,315.6 L367.5,315.1 L370.1,315.7 L372.6,316.4 L375.1,317.6 M359.7,323.3 L360.8,326.9 L363.2,329.8 M363.2,329.8 L366.3,329.8 L369.2,328.9 M369.2,328.9 L371.2,326.5 L372.1,323.5 L373.0,320.5 L375.2,318.3 M375.1,317.6 L375.2,318.3 M359.9,306.2 L360.1,304.4 M375.1,317.6 L376.5,314.4 L378.0,311.2 M521.1,313.8 L519.1,311.7 L516.4,311.1 L514.3,309.5 L511.8,308.4 M582.3,365.8 L584.9,367.0 L587.6,367.9 L589.6,370.2 L592.2,371.4 M582.3,365.8 L582.3,363.3 L582.1,360.8 L582.5,358.3 M584.1,356.8 L582.5,358.3 M584.1,356.8 L586.7,356.5 L589.1,357.7 L591.8,357.1 L594.3,357.8 M594.3,357.8 L594.9,360.3 L596.4,362.5 L596.8,365.2 M596.8,365.2 L594.8,366.9 L594.0,369.5 L592.2,371.4 M590.0,383.7 L591.0,380.9 L593.0,378.5 L593.2,375.4 M593.2,375.4 L592.2,371.4 M576.3,371.1 L578.6,369.7 L580.6,368.0 L582.3,365.8 M569.7,354.2 L572.3,354.7 L574.6,356.5 L577.5,356.4 L579.6,358.5 L582.5,358.3 M585.2,349.0 L584.0,351.5 L584.1,354.1 L584.1,356.8 M598.8,352.7 L596.0,354.8 L594.3,357.8 M608.2,365.1 L608.5,364.2 M608.2,365.1 L605.3,365.0 L602.5,364.6 L599.6,366.0 L596.8,365.2 M516.5,391.3 L514.5,388.2 L511.0,386.8 M518.2,376.6 L515.1,377.0 L512.5,378.6 M512.5,378.6 L512.8,381.5 L512.1,384.2 L511.0,386.8 M500.7,400.4 L501.6,397.9 L502.8,395.5 L502.3,392.5 L504.7,390.5 L504.5,387.6 M504.5,387.6 L507.7,386.9 L511.0,386.8 M621.1,373.0 L618.6,371.0 L615.5,370.5 L612.4,370.1 L609.6,369.1 M621.1,373.0 L621.6,374.7 M621.6,374.7 L620.9,377.7 L620.5,380.8 L618.6,383.4 M606.1,375.5 L607.1,371.9 L609.6,369.1 M606.1,375.5 L606.6,378.9 L607.7,382.1 M608.2,365.1 L609.6,369.1 M621.4,357.3 L621.7,359.9 L622.2,362.4 L624.2,364.4 L624.7,366.9 M624.7,366.9 L622.1,369.5 L621.1,373.0 M626.1,387.9 L623.6,387.2 L621.9,384.8 L619.2,384.5 M634.2,382.7 L632.6,378.7 M632.6,378.7 L630.2,376.8 L626.8,377.4 L624.6,374.9 L621.6,374.7 M593.2,375.4 L595.8,375.8 L598.4,375.8 L600.9,376.2 L603.5,375.5 L606.1,375.5 M627.6,396.9 L624.3,398.5 L621.1,400.0 M644.3,397.7 L646.9,399.7 L648.6,402.7 L651.6,404.2 M644.3,397.7 L646.1,395.6 L645.6,392.5 L647.8,390.5 L648.3,387.8 M648.3,387.8 L651.2,388.4 L654.0,389.2 L656.5,391.0 M656.5,391.0 L657.2,393.5 L656.5,396.1 L657.2,398.6 L656.8,401.2 M656.8,401.2 L654.5,403.2 L651.6,404.2 M637.6,384.6 L640.2,383.4 L643.0,383.5 L645.8,383.5 M635.3,398.7 L638.3,399.0 L641.2,397.0 L644.3,397.7 M645.8,383.5 L647.0,385.6 L648.3,387.8 M664.0,403.1 L660.4,401.9 L656.8,401.2 M661.4,387.7 L659.5,390.1 L656.5,391.0 M634.8,399.0 L635.4,401.8 L634.2,404.8 L634.1,407.6 L635.3,410.4 M620.0,406.9 L621.4,409.1 L624.4,409.7 L625.5,412.3 L627.9,413.6 M635.3,410.4 L632.9,411.6 L630.6,413.2 L627.9,413.6 M619.9,429.3 L620.7,426.8 L622.5,424.6 L622.4,421.8 M619.9,429.3 L616.1,429.5 L612.7,431.3 M622.4,421.8 L619.7,420.6 L616.8,419.9 L615.0,416.9 L612.0,416.3 M612.7,431.3 L612.3,430.6 M610.6,427.3 L608.3,423.0 M608.3,423.0 L610.5,421.3 L610.8,418.6 L612.0,416.3 M633.3,432.1 L633.1,429.2 L634.1,426.5 M627.5,436.5 L625.6,434.7 L624.0,432.6 L621.8,431.1 L619.9,429.3 M625.6,419.7 L628.0,421.1 L630.2,422.7 L632.3,424.4 L634.1,426.5 M625.6,419.7 L622.4,421.8 M611.0,411.9 L612.0,416.3 M627.9,413.6 L627.7,417.0 L625.6,419.7 M600.5,423.2 L603.1,422.6 L605.7,424.1 L608.3,423.0 M597.7,428.5 L599.5,430.9 L598.6,434.0 L599.2,436.7 L600.6,439.3 M662.8,360.3 L659.5,360.2 L656.3,359.6 M652.5,346.6 L651.6,349.6 L651.1,352.6 M651.1,352.6 L653.3,354.6 L654.3,357.5 L656.3,359.6 M645.8,383.5 L646.4,382.0 M662.3,384.1 L660.6,381.2 L658.7,378.5 L656.3,376.1 M646.4,382.0 L648.9,380.5 L651.9,380.0 L654.3,378.3 L656.3,376.1 M665.7,367.9 L663.4,369.3 L661.0,370.6 L659.3,372.9 L656.8,374.1 M656.3,359.6 L653.3,361.2 L651.3,363.9 L649.2,366.3 M649.2,366.3 L650.5,368.9 L653.3,369.9 L654.2,372.9 L656.8,374.1 M656.3,376.1 L656.8,374.1 M498.8,400.5 L495.9,398.7 L494.4,395.6 L492.1,393.3 M480.6,402.1 L479.8,399.5 L480.0,396.8 L480.7,394.2 M480.7,394.2 L483.6,394.6 L486.3,392.8 L489.2,393.3 L492.1,393.3 M504.5,387.6 L502.1,386.3 L501.0,383.4 L497.9,382.8 L496.5,380.3 M496.5,380.3 L494.9,381.7 M492.1,393.3 L492.4,390.3 L494.2,387.7 L494.6,384.7 L494.9,381.7 M518.6,322.3 L515.9,322.8 L513.1,323.3 L511.0,325.3 M523.3,334.7 L519.9,335.5 M510.4,328.5 L513.4,329.4 L514.9,332.3 L517.2,334.2 L519.9,335.5 M519.1,350.6 L517.4,348.6 L515.3,347.2 L512.9,346.1 M519.9,335.5 L519.3,338.1 L517.8,340.2 L515.2,341.5 L514.1,343.8 L512.9,346.1 M169.8,548.7 L167.0,548.4 L164.5,549.3 L162.1,550.6 L159.6,551.8 L156.8,551.7 L154.6,553.5 L151.8,553.4 M173.3,558.6 L171.1,560.5 L169.9,563.4 L168.0,565.5 L164.8,566.4 L163.4,569.0 L161.1,570.8 M161.1,570.8 L158.3,570.2 L155.4,570.6 M146.5,530.0 L147.2,529.8 M327.6,520.8 L328.7,520.6 M327.6,520.8 L326.8,523.4 L324.1,525.1 L323.2,527.7 L323.3,530.9 L321.2,532.8 M328.7,520.6 L330.3,523.0 L332.8,524.7 L334.1,527.3 L336.8,528.8 L338.9,530.7 L340.3,533.4 M321.2,532.8 L323.9,534.3 L325.4,536.9 L326.4,539.9 L328.3,542.1 L330.9,543.7 M340.3,533.4 L338.4,535.5 L336.7,537.8 L336.2,540.9 L334.1,542.9 M330.9,543.7 L334.1,542.9 M314.5,513.3 L313.9,510.0 L314.0,506.6 M314.5,513.3 L316.3,515.3 L318.4,516.7 L321.1,516.9 L322.9,518.8 L325.0,520.4 L327.6,520.8 M335.9,513.1 L333.3,514.2 L332.6,517.2 L330.3,518.5 L328.7,520.6 M335.9,513.1 L335.0,510.2 L334.5,507.2 L333.8,504.3 L333.2,501.3 M333.2,501.3 L330.6,502.5 L328.0,503.8 L324.8,503.0 L322.1,503.9 L319.3,504.4 L316.9,506.6 L314.0,506.6 M309.4,532.1 L309.3,529.6 L308.6,527.1 L309.4,524.5 L310.1,521.9 L309.0,519.4 M309.0,519.4 L311.4,517.9 L313.3,515.9 L314.5,513.3 M347.2,515.5 L344.3,515.1 L341.4,514.8 L338.9,512.9 L335.9,513.1 M345.2,531.7 L342.6,531.9 L340.3,533.4 M328.3,546.9 L330.9,543.7 M346.3,553.1 L348.1,551.1 L351.1,550.7 L353.3,549.2 L354.9,546.9 M346.3,553.1 L344.0,551.6 L342.7,549.0 L340.0,548.2 L338.1,546.4 L336.2,544.5 L334.1,542.9 M354.9,546.9 L353.6,544.5 L352.9,541.9 L352.2,539.3 L351.4,536.7 L351.2,533.9 M287.9,449.6 L288.6,452.2 L290.3,454.6 L289.6,457.7 L291.7,459.9 L291.9,462.7 L292.3,465.5 L293.3,468.0 M271.3,468.8 L274.0,470.2 L275.8,472.6 L277.7,474.7 L279.9,476.7 L282.1,478.5 M271.3,468.8 L272.8,466.3 L273.2,463.6 L272.4,460.5 L274.5,458.2 L274.6,455.4 L275.5,452.7 L275.7,449.9 M293.3,468.0 L292.0,470.3 L289.6,471.6 L287.4,472.9 L285.4,474.5 L283.5,476.3 L282.1,478.5 M313.2,461.7 L311.2,463.8 L308.1,464.2 L306.1,466.2 L303.6,467.6 L301.5,469.5 M293.3,468.0 L295.9,469.3 L298.8,468.8 L301.5,469.5 M358.1,547.5 L360.8,546.2 L363.1,544.4 L365.4,542.4 L367.8,540.6 L370.4,539.2 M358.1,547.5 L359.7,549.9 L361.9,552.0 L363.2,554.6 L364.7,557.1 L366.4,559.5 M366.4,559.5 L370.0,559.8 M370.0,559.8 L369.9,557.0 L371.6,555.0 L372.3,552.5 L373.9,550.4 L375.1,548.2 L375.6,545.7 L376.3,543.2 M376.3,543.2 L374.6,541.0 L372.4,539.3 M370.4,539.2 L372.4,539.3 M354.9,546.9 L358.1,547.5 M359.8,529.6 L361.7,531.7 L364.4,533.0 L366.3,535.2 L367.8,537.8 L370.4,539.2 M346.2,553.5 L347.0,556.3 L349.9,557.7 L351.8,559.7 L351.6,563.2 L353.4,565.4 L355.6,567.2 M355.6,567.2 L357.9,565.9 L360.3,564.7 L362.2,562.8 L364.7,561.8 L366.4,559.5 M355.6,567.2 L355.3,568.3 M387.6,545.1 L384.8,544.2 L382.0,543.5 L379.1,543.8 L376.3,543.2 M378.4,524.0 L380.9,525.1 L383.6,524.4 L386.2,524.1 M378.4,524.0 L376.8,526.4 L377.4,529.5 L376.2,532.0 L374.0,534.1 L372.5,536.4 L372.4,539.3 M373.4,519.4 L370.9,520.2 L368.2,520.7 L366.5,523.5 L363.3,522.9 L361.2,524.7 M373.4,519.4 L375.3,522.3 L378.4,524.0 M354.5,508.7 L357.0,509.3 L359.6,509.2 L362.0,510.1 L364.7,509.4 L367.2,510.7 L369.7,511.0 L372.3,510.9 M354.5,508.7 L354.2,506.0 L353.3,503.3 L352.4,500.6 L353.1,497.7 M353.1,497.7 L355.7,496.3 L358.9,496.9 L361.3,494.8 L364.0,493.8 L367.0,493.9 M374.2,507.7 L373.3,505.2 L373.4,502.6 L373.2,500.0 L372.6,497.5 M374.2,507.7 L372.3,510.9 M372.6,497.5 L370.2,495.0 L367.0,493.9 M352.3,512.8 L354.5,508.7 M373.4,519.4 L373.8,516.5 L373.7,513.6 L372.3,510.9 M350.3,495.2 L353.1,497.7 M367.7,481.5 L366.7,484.5 L367.5,487.7 L368.0,490.9 L367.0,493.9 M390.8,506.7 L388.0,505.9 L385.3,507.6 L382.5,506.9 L379.8,507.9 L377.0,506.8 L374.2,507.7 M381.4,492.3 L379.5,494.2 L377.1,495.1 L375.1,496.7 L372.6,497.5 M530.0,455.7 L532.4,454.1 L535.0,453.0 L537.8,452.4 M530.0,455.7 L529.5,459.2 L529.1,462.6 M531.6,466.6 L529.1,462.6 M531.6,466.6 L534.3,466.5 L537.1,467.4 L539.9,466.5 M522.7,448.3 L525.2,449.5 L527.1,451.3 L528.7,453.3 L530.0,455.7 M516.6,463.0 L519.1,463.1 L521.6,463.5 L524.1,462.7 L526.6,463.0 L529.1,462.6 M527.5,476.8 L528.8,474.4 L528.5,471.3 L530.0,469.0 L531.6,466.6 M174.2,281.1 L177.1,280.0 L178.2,276.9 L180.6,275.2 M195.8,301.8 L197.9,299.8 L198.2,297.0 L198.9,294.4 L199.7,291.8 L201.3,289.7 L203.1,287.6 M203.1,287.6 L200.6,286.7 L198.5,285.2 L196.3,284.0 L194.2,282.6 L191.8,281.5 L189.1,281.1 L187.1,279.4 L185.6,276.8 L182.4,277.4 L180.6,275.2 M205.3,318.6 L207.8,319.8 L210.6,319.9 L213.1,321.1 L215.8,321.4 M215.8,321.4 L216.7,318.8 L218.0,316.4 L219.5,314.2 L221.5,312.2 L221.6,309.2 L222.4,306.5 L224.4,304.5 M224.4,304.5 L221.9,303.0 L221.7,299.7 L219.1,298.3 L217.1,296.4 L216.3,293.6 L215.0,291.1 L212.9,289.3 L210.5,287.7 L209.4,285.1 M203.1,287.6 L206.2,286.2 L209.4,285.1 M199.8,210.4 L200.2,213.4 L200.6,216.5 L198.3,219.4 L199.2,222.4 M199.2,222.4 L196.3,221.8 L193.2,221.7 L190.8,219.4 L187.7,219.5 M275.7,211.6 L273.6,213.7 L273.3,216.7 M267.6,205.0 L265.0,206.0 L263.5,208.5 L261.0,209.6 M261.0,209.6 L261.6,212.2 L260.8,214.7 L260.6,217.3 L260.7,219.9 M273.3,216.7 L270.6,216.6 L268.1,217.0 L265.6,217.7 L263.3,219.6 L260.7,219.9 M313.9,236.0 L311.3,235.7 L308.6,236.5 L305.9,235.6 M308.0,256.1 L306.6,253.5 L304.3,251.4 L303.0,248.8 L302.3,245.8 M302.3,245.8 L302.4,243.0 L303.7,240.5 L304.6,238.0 L305.9,235.6 M302.6,225.9 L302.8,228.7 L304.7,231.2 L304.4,234.1 M304.4,234.1 L305.9,235.6 M224.4,304.5 L226.7,303.0 L229.5,303.4 L232.0,302.7 L234.5,302.0 L236.9,300.9 M216.7,273.3 L214.9,275.4 L213.5,277.8 L212.3,280.3 L210.4,282.5 L209.4,285.1 M216.7,273.3 L219.3,272.2 L221.8,272.4 L224.5,273.4 L227.0,272.0 L229.6,272.7 L232.1,271.9 L234.7,272.3 M236.9,300.9 L237.5,298.1 L239.1,295.6 L239.6,292.8 L239.9,289.9 L240.3,287.1 L242.2,284.7 L242.4,281.8 M234.7,272.3 L236.4,274.9 L238.7,277.0 L239.8,279.9 L242.4,281.8 M191.4,153.7 L195.1,153.8 L198.6,153.0 M195.9,167.8 L198.6,166.7 L200.0,164.2 L202.3,162.7 L203.6,160.2 M203.6,160.2 L202.0,157.7 L200.7,155.2 L198.6,153.0 M210.0,166.7 L208.7,163.2 L206.0,160.4 M203.6,160.2 L206.0,160.4 M202.0,140.6 L203.4,143.7 L203.0,147.0 M203.0,147.0 L200.9,150.1 L198.6,153.0 M216.2,166.1 L217.5,163.4 L217.4,160.3 L219.3,157.9 M206.0,160.4 L208.8,158.7 L211.0,156.3 L213.0,153.8 M219.3,157.9 L217.7,155.7 L215.0,155.4 L213.0,153.8 M216.8,142.3 L217.3,143.1 M229.9,132.0 L230.3,136.0 M230.3,136.0 L228.8,138.1 L226.4,139.5 L225.6,142.3 L223.8,144.2 M217.3,143.1 L220.4,144.4 L223.8,144.2 M203.0,147.0 L205.5,148.0 L207.9,148.9 L210.3,149.9 L212.4,151.4 M217.3,143.1 L216.2,146.2 L214.2,148.7 L212.4,151.4 M212.4,151.4 L213.0,153.8 M225.6,183.6 L227.9,185.2 L228.6,188.2 L230.9,189.8 M225.8,198.8 L228.5,198.7 M230.9,189.8 L229.1,192.5 L230.2,196.0 L228.5,198.7 M256.3,194.6 L256.8,197.6 L256.4,200.4 L253.9,202.9 L254.4,205.8 M256.3,194.6 L253.8,196.0 L251.0,195.2 L248.6,196.5 L246.0,197.2 L243.3,197.0 M254.4,205.8 L251.9,207.5 L248.9,207.7 L246.4,209.2 M243.3,197.0 L240.7,201.2 M240.7,201.2 L242.8,203.1 L242.2,206.2 L244.1,208.1 M244.1,208.1 L246.4,209.2 M267.7,197.7 L264.9,196.7 L261.9,196.6 L259.1,195.8 L256.5,194.3 M261.0,209.6 L259.0,208.1 L256.7,206.8 L254.4,205.8 M249.5,217.5 L252.3,217.9 L255.0,218.6 L257.6,219.7 L260.3,220.5 M249.5,217.5 L249.3,214.4 L247.5,211.9 L246.4,209.2 M260.7,219.9 L260.3,220.5 M234.2,216.4 L232.3,214.5 L229.7,214.0 M234.2,216.4 L236.4,215.0 L238.3,213.2 L240.1,211.4 L242.4,210.1 L244.1,208.1 M229.7,214.0 L229.8,211.2 L230.5,208.5 L229.4,205.6 L229.8,202.9 L230.3,200.1 M230.3,200.1 L232.8,201.2 L235.5,200.4 L238.0,201.7 L240.7,201.2 M236.2,222.5 L236.1,219.1 L234.2,216.4 M236.2,222.5 L238.8,223.2 L241.6,222.7 L244.0,224.1 M244.0,224.1 L246.3,222.3 L247.9,219.9 L249.5,217.5 M254.1,333.5 L257.0,332.2 L260.3,332.6 L263.0,331.0 M252.4,342.3 L255.3,343.1 L258.4,343.0 L261.3,343.8 L263.9,345.5 M263.0,331.0 L265.1,332.6 L266.3,335.0 M263.9,345.5 L264.8,342.9 L265.8,340.4 L264.8,337.4 L266.3,335.0 M117.4,413.2 L120.1,412.1 L122.8,413.4 L125.5,413.0 L128.2,413.0 L130.8,413.9 L133.5,413.2 M122.7,429.8 L125.9,430.0 L128.9,429.4 L131.9,428.4 L134.7,427.1 M134.7,427.1 L133.4,424.4 L133.5,421.6 L134.2,418.7 L134.8,415.9 L133.5,413.2 M111.8,397.6 L114.3,396.0 L117.2,396.3 L119.8,395.3 L122.4,394.7 L125.0,393.7 L127.7,393.1 L130.3,392.3 L133.1,392.2 M117.4,366.1 L120.9,365.3 L124.4,366.3 M124.4,366.3 L126.2,368.2 L128.2,369.9 L129.7,372.2 L131.6,373.9 L133.7,375.5 M133.7,375.5 L132.6,378.3 L133.9,381.1 L132.6,383.8 L133.6,386.7 L132.9,389.4 L133.1,392.2 M133.5,413.2 L136.4,411.5 L138.3,408.7 L140.8,406.7 M140.8,406.7 L140.8,404.2 L141.2,401.7 L141.0,399.2 M133.1,392.2 L135.7,393.3 L137.0,395.8 L139.6,396.8 L141.0,399.2 M218.5,325.9 L216.6,323.9 L215.8,321.4 M218.5,325.9 L217.0,328.1 L215.1,330.0 L213.9,332.3 L214.1,335.3 L213.1,337.7 L211.2,339.6 L210.2,342.0 L209.1,344.3 L207.1,346.2 L206.5,348.8 M190.7,327.2 L190.1,329.9 L190.3,332.6 L190.1,335.3 L190.1,337.9 L190.1,340.6 M190.1,340.6 L192.3,342.1 L194.4,343.8 L196.7,345.0 L199.0,346.2 L201.4,347.2 L204.5,346.8 L206.5,348.8 M231.3,331.7 L228.7,330.7 L226.4,328.8 L223.4,328.7 L221.1,326.9 L218.5,325.9 M229.8,358.2 L227.0,358.4 L224.6,357.4 L222.3,356.3 L219.6,356.4 L217.3,354.9 L214.7,354.6 L212.6,352.6 L209.8,353.1 L207.4,352.0 M206.5,348.8 L207.4,352.0 M122.3,453.3 L124.8,454.0 L126.8,455.7 L129.4,456.2 L132.2,456.0 L134.4,457.3 L136.6,458.8 M135.7,442.2 L132.7,442.1 L129.8,443.1 L126.7,442.6 M135.7,442.2 L137.2,444.9 L137.4,448.0 L138.6,450.8 L139.6,453.7 M139.6,453.7 L138.5,456.5 L136.6,458.8 M124.4,470.9 L127.1,470.1 L129.7,469.4 L131.9,467.2 L134.7,466.9 L137.4,466.4 M136.6,458.8 L137.3,461.3 L136.3,464.0 L137.4,466.4 M124.6,483.6 L127.6,485.2 L129.2,488.2 M137.4,466.4 L138.3,467.3 M244.6,391.0 L242.1,391.6 L239.7,392.3 L237.0,391.6 L234.4,391.7 L232.1,393.7 L229.4,392.3 L226.9,393.0 L224.5,394.4 L221.9,394.1 M244.6,391.0 L243.6,393.8 L244.8,396.8 L243.6,399.7 L245.1,402.6 L244.0,405.5 M244.0,405.5 L242.3,407.5 L240.5,409.3 L238.1,410.6 L236.4,412.6 L235.1,414.9 L233.4,416.9 M221.9,394.1 L221.2,397.3 L218.9,399.5 L217.5,402.2 L215.7,404.7 M215.7,404.7 L216.9,407.5 L219.3,409.2 L221.8,410.9 L223.8,413.0 L225.1,415.7 L227.5,417.4 M233.4,416.9 L230.5,418.0 L227.5,417.4 M245.0,390.5 L245.6,387.2 M245.0,390.5 L244.6,391.0 M239.2,370.7 L239.8,373.4 L241.2,375.6 L242.8,377.8 L243.4,380.4 L245.0,382.6 M232.1,365.8 L230.1,367.6 L228.3,369.7 L225.7,370.9 L224.0,373.1 L221.8,374.7 L219.1,375.7 L216.4,376.7 L214.7,378.9 M245.6,387.2 L245.0,382.6 M214.7,378.9 L216.5,381.1 L217.1,384.0 L217.4,387.0 L218.9,389.4 L219.9,392.0 L221.9,394.1 M252.0,435.0 L248.3,434.1 M248.3,434.1 L247.0,432.0 L245.2,430.2 L243.5,428.3 L241.9,426.3 L240.0,424.6 L238.1,422.8 L236.3,421.1 L234.3,419.4 L233.4,416.9 M257.7,427.7 L256.7,425.0 L256.8,421.9 L255.6,419.2 L254.0,416.6 L254.0,413.6 M254.0,413.6 L252.4,411.5 L249.4,411.2 L248.6,408.0 L246.2,406.9 L244.0,405.5 M229.6,441.3 L232.0,440.5 L234.2,439.3 L236.9,439.3 L238.6,436.7 L240.9,435.8 L243.7,436.0 L245.8,434.6 L248.3,434.1 M222.1,427.7 L223.3,425.0 L224.9,422.6 L225.3,419.5 L227.5,417.4 M148.3,501.1 L150.9,502.6 L153.9,502.0 M144.9,488.2 L147.5,486.5 L148.9,483.6 L152.2,482.6 L154.1,480.2 M153.9,502.0 L156.0,500.3 L158.4,498.8 L160.6,497.1 L163.1,495.7 L164.0,492.4 L166.6,491.3 M154.1,480.2 L157.0,481.9 L160.3,481.5 L163.4,482.2 M166.6,491.3 L165.0,488.5 L164.2,485.3 L163.4,482.2 M110.3,496.3 L109.4,494.0 L109.9,491.2 L108.4,488.9 L106.8,486.7 L107.1,484.0 M161.6,516.1 L160.7,513.5 L159.0,511.4 L158.3,508.7 L155.6,507.2 L155.9,504.0 L153.9,502.0 M147.2,469.7 L144.7,468.5 L142.1,469.1 M147.2,469.7 L149.5,471.2 L150.0,473.9 L152.0,475.5 L152.7,478.1 L154.1,480.2 M172.5,517.6 L172.9,514.9 L175.6,513.5 L175.5,510.6 L177.7,508.9 L178.8,506.6 L179.8,504.2 M179.8,504.2 L178.2,502.0 L176.9,499.7 L177.1,496.7 L175.1,494.7 M175.1,494.7 L171.9,494.5 L169.3,492.9 L166.6,491.3 M196.2,471.5 L196.2,474.3 L195.3,477.1 L195.4,480.0 L195.7,482.9 L194.5,485.6 M196.2,471.5 L193.7,471.0 L191.1,470.4 L188.6,470.2 L186.0,470.4 L183.4,470.5 L180.9,469.8 M180.9,469.8 L179.6,471.6 M179.6,471.6 L181.5,474.0 L181.3,477.1 L182.1,480.0 L183.4,482.6 L184.2,485.5 M184.2,485.5 L186.7,486.5 L189.3,484.9 L191.9,486.3 L194.5,485.6 M202.7,465.9 L205.1,467.7 L207.6,469.5 L210.2,470.9 L213.5,471.0 L215.9,472.9 M202.7,465.9 L199.9,467.1 L198.5,469.8 L196.2,471.5 M198.4,489.2 L201.1,488.9 L203.9,488.7 L206.3,487.3 L209.0,486.5 L211.3,484.7 L214.1,484.9 M198.4,489.2 L196.6,487.3 L194.5,485.6 M214.1,484.9 L214.3,482.4 L215.3,480.1 L216.0,477.6 L217.0,475.3 M215.9,472.9 L217.0,475.3 M175.1,494.7 L177.7,493.6 L178.9,491.2 L180.9,489.5 L181.8,486.8 L184.2,485.5 M167.8,474.0 L170.6,473.0 L173.8,473.6 L176.4,471.3 L179.6,471.6 M167.8,474.0 L165.4,476.3 L165.0,479.5 L163.4,482.2 M270.6,533.8 L269.7,534.5 M275.6,511.4 L273.5,513.6 M273.5,513.6 L272.4,516.0 L272.9,518.7 L273.5,521.4 L272.5,523.8 L271.5,526.2 L270.3,528.6 L270.7,531.3 L270.6,533.8 M276.1,511.5 L278.3,513.0 L279.0,516.0 L281.8,516.9 L284.0,518.6 L285.3,520.9 L287.5,522.5 L289.8,524.0 L291.0,526.5 M309.0,519.4 L306.3,518.7 L303.6,518.4 L301.0,517.5 L298.1,518.3 M298.1,518.3 L297.0,520.9 L293.9,521.8 L292.3,524.0 L291.0,526.5 M245.6,387.2 L248.2,386.0 L251.0,385.9 L253.8,385.5 L256.3,384.2 L258.9,383.1 L261.9,384.0 L264.3,382.0 L267.1,382.0 M245.0,382.6 L247.1,381.1 L249.2,379.4 L251.9,378.8 L253.6,376.6 L255.6,374.9 L258.4,374.3 L259.8,371.7 L262.4,370.8 L264.2,368.9 M264.2,368.9 L266.8,371.6 M266.8,371.6 L267.5,374.2 L266.4,376.8 L266.5,379.4 L267.1,382.0 M245.0,390.5 L247.3,392.2 L250.2,392.6 L253.0,393.1 L255.2,395.0 L257.5,396.6 L260.6,396.5 L263.4,397.0 L265.6,399.0 M272.4,388.0 L271.6,390.6 L268.9,391.9 L269.2,395.2 L267.8,397.3 L265.6,399.0 M272.4,388.0 L271.9,385.6 M271.9,385.6 L269.0,384.5 L267.1,382.0 M282.2,409.3 L280.0,411.7 L279.5,414.9 M282.2,409.3 L280.5,407.0 L279.6,404.3 L277.8,402.1 M279.5,414.9 L276.4,413.7 L273.0,413.4 L269.8,412.4 M277.8,402.1 L275.1,401.6 L272.5,402.2 L269.8,402.0 L267.2,402.2 M269.8,412.4 L268.3,410.2 L266.7,408.1 L266.6,405.3 M267.2,402.2 L266.6,405.3 M290.1,407.3 L287.4,407.8 L285.0,409.1 L282.2,409.3 M282.9,425.2 L281.6,422.8 L282.0,419.8 L280.0,417.6 L279.5,414.9 M282.6,395.9 L285.4,396.1 L287.4,398.3 L289.9,399.1 L292.4,400.1 M282.6,395.9 L281.8,398.6 L279.6,400.2 L277.8,402.1 M293.1,402.0 L292.4,400.1 M263.2,426.2 L264.5,424.0 L264.9,421.4 L267.4,419.8 L268.2,417.3 L268.7,414.7 L269.8,412.4 M272.4,388.0 L274.4,389.9 L277.5,389.3 L279.7,390.8 L281.7,392.5 M265.6,399.0 L267.2,402.2 M281.7,392.5 L282.6,395.9 M254.0,413.6 L256.6,413.0 L258.2,410.9 L259.9,408.9 L262.5,408.2 L264.8,407.1 L266.6,405.3 M281.7,392.5 L283.7,390.4 L284.6,387.5 L287.1,385.9 M292.4,400.1 L292.5,397.0 L294.4,394.4 L294.7,391.3 L296.7,388.9 M296.7,388.9 L294.1,389.0 L292.0,387.1 L289.5,386.8 L287.1,385.9 M342.0,409.8 L344.4,408.3 L347.1,408.7 M337.5,430.2 L340.1,429.7 L341.8,427.6 L344.6,427.4 L346.5,425.6 L348.7,424.5 L350.7,422.9 L353.2,422.2 L355.2,420.7 M347.1,408.7 L350.4,410.0 L353.1,412.3 M355.2,420.7 L354.0,418.0 L354.6,414.9 L353.1,412.3 M357.2,440.1 L356.8,437.2 L357.4,434.5 L358.4,431.7 L357.7,428.8 L358.0,426.0 L358.5,423.2 M355.2,420.7 L358.5,423.2 M347.1,408.7 L348.7,406.4 L347.9,403.4 L348.6,400.9 L350.6,398.8 L350.5,396.0 M361.9,398.6 L362.4,401.7 L362.2,404.7 L361.8,407.8 M350.5,396.0 L352.1,395.2 M353.1,412.3 L356.4,411.6 L358.7,409.0 L361.8,407.8 M463.5,397.7 L464.0,401.2 L465.8,403.9 L467.9,406.6 M463.5,397.7 L459.8,396.9 M450.3,410.8 L449.8,409.2 M449.8,409.2 L451.5,406.0 L451.7,402.3 M459.8,396.9 L457.4,399.2 L454.7,401.0 L451.7,402.3 M347.6,332.1 L350.4,334.5 L353.9,335.8 M347.6,332.1 L349.4,329.7 L349.3,326.5 L350.3,323.8 L352.1,321.3 M363.2,329.8 L361.4,333.2 M353.9,335.8 L356.2,334.4 L358.6,333.3 L361.4,333.2 M651.3,405.0 L648.9,406.7 L646.4,408.0 L643.8,409.3 L641.9,411.8 L639.0,412.5 M651.3,405.0 L652.8,407.3 L653.8,409.8 L654.3,412.4 L655.3,414.8 L655.5,417.5 M639.0,412.5 L641.1,417.0 M651.6,404.2 L651.3,405.0 M635.3,410.4 L639.0,412.5 M634.1,426.5 L637.1,425.7 L638.9,423.0 L641.6,421.6 M642.5,370.2 L644.3,367.6 L647.2,366.3 M642.5,370.2 L639.8,369.6 L636.9,369.7 M647.2,366.3 L647.1,363.5 L645.7,361.3 L644.4,359.0 L643.1,356.8 M636.9,369.7 L633.8,366.2 M633.8,366.2 L634.1,363.4 L634.7,360.7 L635.1,357.9 L636.1,355.3 M643.1,356.8 L640.3,355.1 L637.1,354.7 M637.1,354.7 L636.1,355.3 M646.4,382.0 L646.1,378.8 L644.4,376.1 L644.2,372.9 L642.5,370.2 M649.2,366.3 L647.2,366.3 M632.6,378.7 L634.3,375.8 L635.9,372.9 L636.9,369.7 M651.1,352.6 L648.7,354.5 L646.0,355.9 L643.1,356.8 M624.7,366.9 L627.7,366.1 L630.9,367.4 L633.8,366.2 M627.3,353.5 L630.1,354.8 L633.0,355.6 L636.1,355.3 M639.4,343.0 L638.1,345.8 L637.6,348.7 L637.8,351.8 L637.1,354.7 M512.9,346.1 L509.9,345.4 L506.8,345.8 M198.1,553.4 L200.2,551.9 L203.1,552.4 L204.9,550.0 L207.8,550.4 L210.0,549.1 M198.1,553.4 L199.2,556.1 L199.2,559.2 L199.9,562.0 L202.1,564.4 L201.6,567.6 L202.9,570.2 M210.0,549.1 L212.5,551.0 L215.6,551.3 L218.5,552.2 M220.9,555.6 L218.5,552.2 M220.9,555.6 L219.5,557.9 L219.1,560.6 L218.3,563.2 L216.0,565.1 L214.8,567.4 L214.9,570.4 L213.2,572.6 M213.2,572.6 L210.5,572.8 L208.0,571.7 L205.6,570.6 L202.9,570.2 M182.3,564.7 L182.8,567.4 M197.6,553.3 L198.1,553.4 M202.9,570.2 L200.8,572.3 L197.6,573.2 L195.5,575.4 L193.5,577.7 M182.8,567.4 L184.3,570.1 L186.9,571.7 L188.8,574.0 L190.7,576.4 L193.5,577.7 M178.3,619.1 L177.8,616.2 L179.6,613.8 L179.3,610.9 L180.6,608.4 M180.6,608.4 L183.1,607.9 L185.5,607.3 L188.1,607.0 L190.5,606.2 L192.7,604.6 M323.7,473.1 L321.5,474.9 L320.9,477.7 L318.4,479.2 L317.1,481.6 L316.1,484.1 M301.5,469.5 L301.9,472.5 L302.9,475.2 L303.6,478.1 L304.7,480.8 L306.7,483.2 M306.7,483.2 L309.9,483.5 L313.0,483.6 L316.1,484.1 M329.5,492.3 L327.0,491.1 L324.4,489.9 L321.6,489.8 L318.8,489.3 M316.1,484.1 L318.4,486.3 L318.8,489.3 M314.0,506.6 L312.8,504.9 M318.8,489.3 L318.7,492.3 L316.9,494.6 L315.2,496.9 L314.0,499.4 L314.1,502.4 L312.8,504.9 M233.1,251.5 L233.8,249.6 M233.1,251.5 L230.6,250.6 L227.9,252.1 L225.5,249.9 L222.9,249.8 L220.3,250.4 M224.0,239.2 L221.6,240.8 L220.3,243.1 L219.1,245.6 M224.0,239.2 L227.5,239.0 M233.8,249.6 L232.0,247.1 L230.2,244.6 L229.9,241.2 L227.5,239.0 M220.3,250.4 L219.1,245.6 M224.0,239.2 L221.8,236.8 L219.8,234.3 L217.6,231.8 M219.1,245.6 L216.8,244.3 L214.4,243.4 L212.0,242.5 L209.4,242.0 M209.4,242.0 L209.1,238.8 M217.6,231.8 L215.3,233.4 L213.4,235.3 L210.9,236.6 L209.1,238.8 M173.3,243.3 L175.5,245.5 L177.9,247.6 L179.6,250.2 M179.6,250.2 L178.2,252.9 L177.8,255.8 L177.5,258.6 L178.1,261.7 L176.8,264.4 M180.6,275.2 L181.2,270.8 M176.8,264.4 L179.1,266.0 L179.0,269.2 L181.2,270.8 M199.2,222.4 L201.8,225.8 M184.7,227.4 L185.8,230.2 L188.3,231.6 M201.8,225.8 L201.6,228.6 L200.4,231.2 M200.4,231.2 L199.1,232.0 M188.3,231.6 L191.0,232.0 L193.8,230.7 L196.4,231.7 L199.1,232.0 M173.9,239.7 L176.9,240.1 L179.9,239.2 L182.9,240.1 L185.9,239.3 M188.3,231.6 L186.7,233.9 L187.5,237.0 L185.9,239.3 M291.5,333.0 L293.8,334.1 L296.4,334.2 L299.0,334.4 L301.3,335.5 L303.6,336.5 L306.1,337.2 M291.5,333.0 L290.8,328.5 M306.1,337.2 L308.5,335.8 L310.1,333.6 L311.5,331.2 M311.7,329.3 L311.5,331.2 M311.7,329.3 L308.7,329.1 L306.2,327.8 L304.5,324.8 L301.5,324.5 L299.0,323.2 L296.3,322.2 M296.3,322.2 L294.7,324.5 L292.1,325.9 L290.8,328.5 M321.0,282.5 L321.3,285.3 L321.7,288.0 L322.9,290.5 L322.8,293.3 M321.0,282.5 L318.3,282.9 L316.2,285.0 L313.8,286.2 L311.0,286.2 L308.6,287.3 M308.6,287.3 L308.5,290.1 L310.2,292.4 L310.8,295.0 L311.0,297.8 M322.8,293.3 L321.1,295.4 L318.4,296.0 L316.1,297.1 L314.3,299.0 M311.0,297.8 L314.3,299.0 M243.5,306.9 L245.4,305.1 L248.1,304.9 L250.4,303.8 L252.2,301.9 L254.9,301.7 L257.2,300.5 M243.5,306.9 L245.0,309.4 L246.1,312.0 L245.5,315.3 L247.5,317.5 M247.5,317.5 L249.3,317.5 M249.3,317.5 L251.3,315.5 L253.8,314.8 L256.4,314.1 L258.6,312.5 L261.0,311.5 M261.0,311.5 L260.3,307.7 L261.7,304.2 M261.7,304.2 L260.0,301.7 L257.2,300.5 M244.8,322.7 L245.6,319.8 L247.5,317.5 M236.9,300.9 L239.2,302.7 L240.7,305.6 L243.5,306.9 M263.9,325.0 L262.5,327.8 L263.0,331.0 M263.9,325.0 L261.9,322.9 L259.0,322.7 L256.9,320.8 L254.6,319.3 L251.5,319.3 L249.3,317.5 M293.6,222.7 L290.9,223.7 M304.4,234.1 L301.4,233.5 L298.8,235.8 L295.7,235.0 L292.9,236.4 L289.9,236.2 M289.9,236.2 L289.5,233.7 L289.5,231.1 L291.4,228.8 L289.8,226.1 L290.9,223.7 M283.6,211.5 L283.5,214.4 L285.9,216.6 L286.4,219.4 L286.9,222.2 M273.3,216.7 L275.2,219.5 L274.8,223.1 L277.0,225.7 M277.0,225.7 L278.2,226.1 M278.2,226.1 L280.7,224.0 L284.3,224.2 L286.9,222.2 M290.9,223.7 L286.9,222.2 M302.3,245.8 L299.4,246.4 L296.5,245.0 L293.7,245.6 L290.8,246.3 M289.9,236.2 L289.4,236.8 M290.8,246.3 L289.8,243.2 L289.9,239.9 L289.4,236.8 M278.2,226.1 L280.0,228.2 L280.6,230.8 L282.5,232.9 L282.7,235.7 M282.7,235.7 L286.0,236.6 L289.4,236.8 M219.3,157.9 L223.7,157.2 M223.8,144.2 L225.2,147.3 L226.9,150.3 M223.7,157.2 L224.4,154.7 L224.9,152.1 L226.9,150.3 M229.5,169.8 L231.0,167.2 L230.5,164.2 M223.7,157.2 L226.6,158.9 L228.5,161.6 L230.5,164.2 M231.9,228.3 L233.2,224.8 L236.2,222.5 M231.9,228.3 L232.6,230.8 L232.8,233.4 M244.0,224.1 L245.5,226.8 L246.5,229.7 L247.8,232.5 M232.8,233.4 L236.2,234.5 L239.3,236.4 M247.8,232.5 L245.2,234.3 L241.8,234.5 L239.3,236.4 M233.8,249.6 L236.4,247.2 L239.6,245.5 M227.5,239.0 L229.0,236.9 L231.0,235.2 L232.8,233.4 M239.3,236.4 L239.9,239.4 L239.0,242.5 L239.6,245.5 M230.9,189.8 L233.4,187.5 L236.8,186.9 M230.3,200.1 L228.5,198.7 M243.3,197.0 L242.2,193.4 L241.9,189.7 M241.9,189.7 L239.3,188.4 L236.8,186.9 M233.0,174.8 L237.0,176.4 M236.8,186.9 L236.3,184.2 L237.6,181.6 L236.6,179.0 L237.0,176.4 M230.5,164.2 L233.6,162.3 L236.9,160.7 M237.0,176.4 L240.3,175.6 M240.3,175.6 L242.2,172.9 L244.7,170.8 L246.0,167.7 M246.0,167.7 L243.4,166.4 L241.9,163.6 L239.8,161.7 L236.9,160.7 M338.5,289.0 L337.4,291.7 L335.4,293.8 M351.7,299.6 L349.9,301.6 L346.9,301.8 L345.2,304.0 L343.1,305.6 L340.6,306.4 M335.4,293.8 L337.3,296.0 L337.2,299.0 L337.6,301.8 L338.7,304.2 L340.6,306.4 M321.7,281.0 L321.0,282.5 M322.8,293.3 L326.9,295.7 M335.4,293.8 L332.5,294.2 L329.8,295.2 L326.9,295.7 M316.8,307.3 L317.0,304.2 L315.5,301.7 L314.3,299.0 M316.8,307.3 L319.2,309.0 L322.1,309.1 L324.7,309.8 L327.5,310.1 M326.9,295.7 L326.6,298.6 L328.0,301.4 L327.8,304.3 L328.3,307.2 L327.5,310.1 M254.4,359.5 L255.8,359.5 M264.2,368.9 L264.0,367.9 M255.8,359.5 L257.2,362.3 L259.1,364.5 L261.8,365.9 L264.0,367.9 M174.6,318.5 L173.5,321.1 L171.8,323.3 L169.6,325.0 L167.9,327.2 L166.5,329.6 L164.3,331.3 M190.1,340.6 L188.2,342.9 L185.2,343.4 L182.6,344.6 L181.1,347.4 L178.5,348.5 L175.9,349.6 M175.9,349.6 L174.0,347.6 L173.0,345.0 L171.7,342.7 L169.9,340.6 L169.3,337.8 L167.0,336.0 L165.4,333.9 L164.3,331.3 M142.5,315.5 L142.4,318.3 L142.8,321.1 L143.3,323.8 L145.3,326.2 L145.8,328.9 L145.7,331.8 M164.3,331.3 L161.6,331.5 L159.0,330.4 L156.3,331.3 L153.7,331.3 L151.0,332.0 L148.3,330.6 L145.7,331.8 M113.5,333.6 L116.1,333.4 L118.4,334.7 L120.9,335.4 L123.3,336.2 L125.8,336.7 L128.4,336.2 L130.9,336.4 L133.1,338.4 L135.8,338.0 L138.4,337.9 L140.7,338.8 M145.7,331.8 L144.7,334.6 L141.8,336.1 L140.7,338.8 M124.4,366.3 L126.7,364.7 L127.9,362.2 L129.3,359.8 L131.4,358.1 L133.6,356.5 L134.6,353.8 L136.7,352.0 L138.5,350.1 L140.0,347.8 L141.2,345.4 M140.7,338.8 L141.0,342.1 L141.2,345.4 M239.0,475.4 L238.0,472.6 L238.8,469.7 L238.8,466.8 L238.8,463.9 L236.7,461.3 L237.2,458.3 M239.0,475.4 L241.4,473.9 L244.4,474.4 L247.2,474.1 L249.5,471.8 L252.4,472.3 L254.9,470.9 L257.7,470.7 M237.2,458.3 L240.2,458.3 L242.4,455.9 L244.8,454.3 L248.0,454.6 L250.2,452.6 L253.0,451.9 M253.0,451.9 L253.9,454.5 L255.2,457.0 L255.5,459.8 L256.6,462.3 L257.0,465.1 L257.0,467.9 L257.9,470.6 M226.1,452.1 L228.6,452.9 L230.4,454.9 L232.3,456.6 L234.9,457.2 L237.2,458.3 M226.1,452.1 L225.9,454.8 L222.9,456.3 L223.3,459.3 L221.9,461.5 L220.4,463.6 L219.1,465.8 L218.5,468.4 L217.1,470.7 L215.9,472.9 M217.0,475.3 L219.6,475.8 L222.2,475.6 L224.9,475.5 L227.4,476.0 L230.0,476.1 L232.7,476.1 L235.2,477.0 L237.8,477.0 M237.8,477.0 L239.0,475.4 M260.7,492.5 L258.1,493.4 L255.5,494.4 M260.7,492.5 L260.1,489.8 L260.4,487.0 L260.3,484.2 L259.5,481.6 L258.5,478.9 L259.4,476.0 L257.2,473.6 L257.7,470.7 M239.4,484.8 L241.4,486.8 L244.1,487.4 L246.4,488.7 L248.2,491.0 L250.7,492.0 L252.7,494.0 L255.5,494.4 M239.4,484.8 L239.7,482.0 L237.5,479.8 L237.8,477.0 M225.6,450.7 L226.1,452.1 M256.0,445.9 L254.5,448.9 L253.0,451.9 M271.3,468.8 L268.5,468.6 L266.0,470.4 L263.2,469.8 L260.4,469.1 L257.9,470.6 M270.6,494.8 L268.0,494.8 L265.5,494.4 L263.1,493.5 L260.7,492.5 M270.6,494.8 L272.3,492.8 L274.1,491.0 L276.2,489.5 L278.6,488.5 L280.1,486.2 L281.9,484.5 M281.9,484.5 L282.2,481.5 L282.1,478.5 M205.4,445.7 L201.9,447.2 M211.8,430.0 L209.2,428.5 L207.2,426.5 L206.7,423.1 L203.8,421.9 L202.9,418.9 L200.2,417.5 M201.9,447.2 L200.1,445.1 L199.1,442.4 L197.6,440.0 L195.0,438.4 L193.5,436.0 L192.6,433.3 L191.2,430.8 M191.2,430.8 L192.0,428.2 L193.8,426.2 L195.1,423.8 L196.9,421.8 L198.6,419.7 L200.2,417.5 M203.6,406.9 L206.6,405.9 L209.6,405.4 L212.7,405.2 L215.7,404.7 M203.6,406.9 L201.4,410.0 L200.0,413.4 M200.0,413.4 L200.2,417.5 M134.7,427.1 L137.8,428.1 L139.0,431.7 L142.2,432.6 M140.8,406.7 L143.4,408.8 L145.2,411.8 L148.3,413.3 M148.3,413.3 L149.2,415.9 L148.9,418.4 L148.6,421.0 L146.7,423.4 L147.6,426.0 L147.2,428.5 M147.2,428.5 L144.2,430.0 L142.2,432.6 M135.7,442.2 L137.7,440.2 L138.2,437.2 L140.3,435.4 L142.2,433.4 M142.2,433.4 L142.2,432.6 M201.9,447.2 L199.8,450.3 M182.5,431.2 L185.4,430.7 L188.3,430.9 L191.2,430.8 M182.5,431.2 L181.6,434.0 L182.6,437.0 L180.4,439.6 L180.9,442.6 L180.5,445.4 M180.5,445.4 L183.3,445.8 L185.9,447.2 L188.9,447.0 L191.4,448.7 L194.3,448.7 L197.0,449.6 L199.8,450.3 M202.7,465.9 L201.4,463.5 L200.7,460.8 L201.4,457.8 L200.2,455.4 L199.3,452.8 M180.9,469.8 L180.8,467.1 L181.6,464.4 L181.0,461.6 M181.0,461.6 L183.7,461.4 L185.3,458.8 L188.4,459.3 L189.7,456.3 L192.6,456.3 L194.5,454.5 L196.8,453.4 L199.3,452.8 M199.3,452.8 L199.8,450.3 M241.9,542.4 L241.8,545.3 L240.4,547.7 L238.6,549.9 L237.9,552.5 L236.7,554.9 M241.9,542.4 L239.5,541.0 L238.1,538.8 L237.1,536.3 L235.2,534.5 L234.2,532.0 L232.1,530.4 M227.3,557.7 L230.4,556.7 L233.8,556.6 L236.7,554.9 M227.3,557.7 L224.3,556.1 L220.9,555.6 M218.5,552.2 L219.8,550.0 L220.8,547.7 L221.8,545.3 L223.3,543.2 L224.7,541.1 L226.0,538.9 L226.9,536.5 L228.8,534.6 L229.4,532.0 L231.4,530.2 M232.1,530.4 L231.4,530.2 M241.9,542.4 L244.9,543.4 L247.9,542.8 L251.0,542.8 M251.0,542.8 L252.2,539.9 L254.5,538.0 L256.3,535.6 L258.6,533.6 M258.6,533.6 L256.3,531.5 L255.3,528.6 L253.1,526.5 L251.4,524.0 L250.4,521.1 M232.1,530.4 L234.6,529.6 L236.6,527.9 L239.1,527.2 L241.2,525.7 L243.5,524.6 L245.6,523.1 L248.0,522.1 L250.4,521.1 M270.6,494.8 L271.5,497.5 L272.6,500.2 L272.4,503.3 L274.5,505.7 L275.4,508.4 L275.6,511.4 M255.5,494.4 L254.6,496.8 L252.5,498.5 L251.1,500.7 L250.4,503.2 L249.5,505.6 L248.0,507.7 M273.5,513.6 L270.8,513.7 L268.0,513.6 L265.4,515.2 L262.6,514.7 L259.8,514.9 L257.2,515.9 L254.5,516.8 L251.7,516.4 M248.0,507.7 L249.0,510.7 L251.1,513.2 L251.7,516.4 M258.6,533.6 L261.4,533.5 L264.1,534.2 L266.8,535.3 L269.7,534.5 M250.4,521.1 L251.7,516.4 M179.8,504.2 L182.7,503.7 L185.6,503.8 L188.4,505.0 L191.2,506.1 L194.1,505.4 M194.1,527.3 L197.1,525.7 M194.1,505.4 L195.5,507.8 L194.5,510.5 L196.2,512.8 L195.5,515.5 L196.8,517.9 L196.0,520.6 L197.0,523.1 L197.1,525.7 M198.4,489.2 L197.7,492.0 L198.2,494.9 L198.3,497.8 L197.7,500.6 L196.6,503.3 M194.1,505.4 L196.6,503.3 M210.0,549.1 L209.1,546.4 L208.5,543.7 L208.3,541.0 L208.7,538.2 L208.1,535.5 L208.6,532.7 L207.5,530.1 L207.2,527.4 M197.1,525.7 L199.6,526.2 L202.0,527.0 L204.5,527.7 L207.2,527.4 M373.6,424.2 L375.8,422.9 L377.5,420.8 L380.6,420.7 L382.4,418.6 M373.6,424.2 L370.7,423.8 L368.7,421.7 M368.7,421.7 L368.7,418.8 L368.4,415.9 L367.0,413.1 L367.1,410.1 M382.8,412.3 L380.6,409.9 L377.8,408.1 L375.6,405.6 M382.8,412.3 L383.1,415.5 L382.4,418.6 M375.6,405.6 L373.0,407.6 L370.4,409.6 L367.1,410.1 M373.9,434.6 L374.2,432.0 L372.8,429.4 L373.0,426.8 L373.6,424.2 M392.7,425.5 L389.6,424.5 L387.9,421.5 L385.0,420.3 L382.4,418.6 M358.5,423.2 L361.0,422.8 L363.6,422.6 L366.3,422.8 L368.7,421.7 M361.8,407.8 L364.3,409.2 L367.1,410.1 M375.5,403.4 L373.5,401.3 L371.2,399.6 L369.5,397.2 L367.5,395.2 M375.5,403.4 L375.6,405.6 M454.4,385.8 L450.7,385.9 M454.4,385.8 L454.8,389.0 L456.9,391.4 L458.5,394.1 L459.8,396.9 M451.7,402.3 L450.4,399.7 L447.2,398.8 L445.3,396.7 L444.1,393.9 M444.1,393.9 L446.3,392.3 L448.2,390.6 L448.3,387.3 L450.7,385.9 M375.5,403.4 L376.4,400.8 L378.1,398.8 L380.8,397.7 L381.8,395.1 L384.1,393.7 M368.0,393.3 L370.6,391.9 L373.3,390.5 L375.1,387.7 L378.2,387.1 M378.2,387.1 L380.3,389.4 L383.3,390.3 M384.1,393.7 L383.3,390.3 M420.4,420.5 L419.9,416.7 L420.4,413.0 M436.0,418.5 L435.4,416.0 L434.3,413.7 L433.5,411.2 L432.9,408.7 L432.4,406.2 M420.4,413.0 L422.3,410.7 L425.1,410.1 L427.4,408.5 L429.9,407.3 L432.4,406.2 M353.9,335.8 L354.4,338.7 L353.7,341.5 L352.7,344.3 L352.9,347.1 M361.4,333.2 L361.7,336.3 L364.5,338.1 L364.4,341.3 L366.2,343.7 L367.7,346.1 M367.7,346.1 L364.8,347.2 L361.8,347.6 L358.8,345.9 L355.9,347.5 L352.9,347.1 M363.1,377.4 L362.8,380.1 L360.9,382.1 M363.1,377.4 L361.1,375.4 L358.9,373.6 L357.0,371.6 L354.2,370.5 M354.2,370.5 L351.3,371.3 L348.5,372.6 L345.5,373.0 M355.5,385.2 L352.9,384.3 L350.3,383.3 L348.3,381.2 L346.2,379.4 L343.4,379.1 M345.5,373.0 L343.3,376.1 M343.4,379.1 L343.3,376.1 M333.7,359.5 L336.9,359.3 L339.8,360.8 L342.7,361.8 M333.7,359.5 L333.0,358.4 M333.0,358.4 L334.2,356.1 L335.1,353.7 L337.5,352.3 L339.7,350.7 L339.9,347.8 L341.7,346.0 M342.7,361.8 L345.1,360.8 L347.5,359.7 L348.8,357.2 L351.3,356.2 M341.7,346.0 L344.3,348.0 L347.3,348.8 L350.4,349.5 M350.4,349.5 L350.5,352.9 L351.3,356.2 M345.5,373.0 L344.1,370.4 L343.6,367.5 L342.5,364.8 L342.7,361.8 M343.3,376.1 L341.2,374.3 L338.8,373.4 L335.8,373.9 L333.8,372.0 L331.4,371.0 M331.4,371.0 L331.4,368.0 L333.1,365.3 L333.3,362.4 L333.7,359.5 M354.2,370.5 L355.6,368.1 L355.6,365.4 L354.7,362.6 L356.0,360.1 M356.0,360.1 L353.4,358.4 L351.3,356.2 M347.6,332.1 L344.8,332.5 L342.2,333.1 M342.2,333.1 L340.0,334.8 L339.6,337.6 L338.0,339.6 M338.0,339.6 L340.4,342.4 L341.7,346.0 M352.9,347.1 L350.4,349.5 M300.8,403.9 L303.3,401.0 L306.4,398.9 M296.7,388.9 L298.9,387.1 L301.5,386.4 M301.5,386.4 L303.6,387.7 M306.4,398.9 L305.0,396.3 L304.7,393.4 L303.8,390.7 L303.6,387.7 M492.8,346.0 L491.4,349.0 M476.3,354.4 L476.6,351.6 L477.7,348.9 L478.0,346.2 L477.2,343.3 M476.3,354.4 L477.2,354.6 M477.2,354.6 L479.3,353.0 L482.0,352.9 L484.5,352.2 L486.4,350.2 L489.1,350.0 L491.4,349.0 M468.5,381.9 L469.1,378.7 L470.6,375.8 L472.1,372.9 M468.5,381.9 L470.1,384.2 L470.5,387.2 L472.4,389.4 M483.9,382.8 L482.6,385.9 L480.2,388.3 L478.5,391.1 M483.9,382.8 L482.9,380.3 L481.2,378.1 L481.3,375.1 L479.3,373.1 M479.3,373.1 L475.7,373.4 L472.1,372.9 M472.4,389.4 L475.6,389.9 L478.5,391.1 M463.5,397.7 L466.0,395.9 L467.9,393.5 L470.5,391.8 L472.4,389.4 M454.4,385.8 L457.7,382.2 M457.7,382.2 L460.4,381.3 L463.1,381.2 L465.8,382.5 L468.5,381.9 M480.7,394.2 L478.5,391.1 M494.9,381.7 L492.1,382.2 L489.3,381.4 L486.7,383.1 L483.9,382.8 M467.3,366.0 L469.4,368.0 L469.8,371.1 L472.1,372.9 M467.3,366.0 L468.9,363.5 L470.2,360.9 L472.2,358.7 L475.0,357.1 L476.3,354.4 M477.2,354.6 L479.3,356.4 L480.5,358.8 L481.8,361.2 L483.9,362.9 L485.4,365.2 L487.5,366.9 M487.5,366.9 L484.8,367.6 L483.7,370.3 L480.8,370.9 L479.3,373.1 M457.7,382.2 L457.3,379.5 L456.0,376.9 L455.4,374.3 L455.6,371.4 M467.3,366.0 L463.6,365.8 L460.1,364.8 M460.1,364.8 L459.3,367.4 L456.6,368.9 L455.6,371.4 M161.1,570.8 L163.2,572.4 L164.5,574.9 L167.4,575.9 L168.3,578.6 L170.2,580.5 M182.8,567.4 L180.4,569.0 L178.7,571.2 L177.6,573.9 L175.2,575.6 L174.8,578.8 L172.7,580.7 M170.2,580.5 L172.7,580.7 M193.5,577.7 L193.5,582.0 M193.5,582.0 L191.8,584.7 L189.6,586.8 L187.5,589.1 M187.5,589.1 L183.9,589.2 L180.4,589.3 M172.7,580.7 L174.1,583.3 L176.6,584.9 L179.2,586.5 L180.4,589.3 M291.2,489.9 L293.7,489.2 L296.2,488.5 L298.8,490.2 L301.2,489.1 M291.2,489.9 L292.5,492.6 L292.6,495.5 L291.5,498.4 L292.4,501.2 L292.5,504.0 L292.8,506.8 M301.2,489.1 L302.8,491.2 L304.1,493.4 L304.0,496.3 L306.4,497.9 L307.2,500.4 L307.9,502.8 M307.9,502.8 L304.8,503.2 L302.3,505.0 L299.0,504.5 L296.6,507.0 L293.6,507.1 M292.8,506.8 L293.6,507.1 M281.9,484.5 L284.2,485.9 L286.5,487.3 L288.9,488.6 L291.2,489.9 M306.7,483.2 L304.5,484.7 L303.8,487.8 L301.2,489.1 M276.1,511.5 L278.9,510.8 L281.8,510.5 L284.2,508.2 L287.2,508.4 L290.0,507.4 L292.8,506.8 M312.8,504.9 L310.3,504.1 L307.9,502.8 M298.1,518.3 L297.1,515.5 L296.1,512.6 L295.1,509.7 L293.6,507.1 M211.1,216.0 L213.9,216.7 L216.5,216.1 L219.3,216.8 L221.9,215.5 M211.1,216.0 L209.8,218.3 L209.7,221.0 L208.2,223.2 M208.2,223.2 L211.0,223.9 L213.5,225.1 L215.8,226.9 L217.9,228.7 M222.2,215.8 L222.9,219.1 L221.5,222.3 L221.7,225.5 M221.7,225.5 L217.9,228.7 M218.6,203.8 L219.1,206.9 L220.1,209.8 L221.4,212.6 L221.9,215.5 M208.9,211.5 L211.1,216.0 M201.8,225.8 L205.0,224.4 L208.2,223.2 M217.6,231.8 L217.9,228.7 M209.1,238.8 L206.6,237.3 L205.3,234.3 L201.8,233.9 L200.4,231.2 M229.7,214.0 L227.3,215.0 L224.7,215.0 L222.2,215.8 M231.9,228.3 L229.2,228.3 L227.0,226.2 L224.3,226.3 L221.7,225.5 M216.7,273.3 L214.7,270.4 L213.2,267.2 M181.2,270.8 L182.9,268.3 L185.5,266.9 L188.2,265.7 L190.0,263.4 L192.0,261.2 L194.9,260.2 M194.9,260.2 L197.4,261.4 L200.3,261.8 L202.4,263.9 L205.2,264.6 L207.8,265.6 L210.2,267.0 L213.2,267.2 M233.1,251.5 L233.0,254.4 L234.7,256.9 L234.7,259.8 L236.0,262.4 L236.7,265.1 L236.6,268.0 M234.7,272.3 L236.6,268.0 M220.3,250.4 L219.5,252.9 L218.4,255.2 L216.9,257.3 L215.7,259.5 L213.9,261.4 M213.2,267.2 L213.9,264.3 L213.9,261.4 M209.4,242.0 L208.5,244.4 L206.6,246.2 M213.9,261.4 L211.7,259.3 L211.3,256.4 L209.6,254.1 L209.4,251.1 L207.2,249.0 L206.6,246.2 M273.8,308.8 L276.7,309.3 L279.9,309.0 L282.8,310.1 M273.8,308.8 L271.9,311.0 L269.3,312.6 L268.1,315.3 M282.8,310.1 L282.7,313.0 L281.6,315.7 L281.3,318.5 L281.5,321.4 L280.0,324.0 M268.1,315.3 L269.6,318.1 L269.0,321.1 M269.0,321.1 L271.1,322.7 L273.8,322.5 L275.9,324.1 L278.4,324.6 M278.4,324.6 L280.0,324.0 M269.8,301.8 L271.3,304.0 L271.8,306.8 L273.8,308.8 M269.8,301.8 L267.3,303.2 L264.4,303.4 L261.7,304.2 M261.0,311.5 L263.3,312.9 L265.4,314.6 L268.1,315.3 M263.9,325.0 L265.8,322.3 L269.0,321.1 M274.7,334.2 L271.9,334.8 L269.1,334.8 L266.3,335.0 M274.7,334.2 L275.8,331.9 L275.8,329.1 L277.5,327.0 L278.4,324.6 M283.4,309.7 L282.8,310.1 M283.4,309.7 L286.4,310.1 L289.4,310.2 L292.4,309.7 M296.3,322.2 L296.1,319.0 L297.0,316.0 L297.5,312.9 M290.8,328.5 L287.9,327.8 L285.3,326.5 L282.6,325.4 L280.0,324.0 M297.5,312.9 L295.5,310.5 L292.4,309.7 M315.2,324.6 L313.0,322.3 L313.6,318.7 L310.5,316.8 L310.2,313.7 M315.2,324.6 L314.2,327.5 L311.7,329.3 M310.2,313.7 L307.1,313.6 L304.1,312.7 L301.1,311.5 M297.5,312.9 L301.1,311.5 M310.2,313.7 L313.0,312.1 L315.2,310.0 L316.8,307.3 M311.0,297.8 L307.6,298.1 L304.8,300.3 M301.1,311.5 L301.8,308.6 L302.0,305.5 L304.2,303.2 L304.8,300.3 M283.4,309.7 L283.9,306.8 L281.8,304.2 L283.0,301.2 L280.9,298.6 L281.6,295.6 M281.6,295.6 L284.6,295.5 L287.5,294.5 L290.6,294.8 L293.3,293.3 M292.4,309.7 L293.4,307.0 L291.7,304.2 L292.9,301.5 L292.5,298.8 L293.1,296.1 L293.3,293.3 M290.5,258.5 L287.9,259.4 L285.4,258.8 L282.9,258.8 L280.3,259.7 L277.8,258.7 M290.5,258.5 L290.2,255.9 L290.9,253.3 L288.9,250.8 L289.6,248.2 M289.6,248.2 L286.9,247.0 L284.0,247.8 L281.2,248.2 L278.5,246.4 L275.6,247.2 M277.8,258.7 L277.2,255.8 L276.5,253.0 L275.9,250.1 L275.6,247.2 M298.8,261.6 L295.8,260.5 L292.6,261.0 M292.6,261.0 L290.5,258.5 M290.8,246.3 L289.6,248.2 M282.7,235.7 L280.5,238.3 L277.8,240.1 L274.8,241.5 M274.1,245.7 L274.8,241.5 M274.1,245.7 L275.6,247.2 M269.8,301.8 L270.9,298.3 M281.6,295.6 L280.7,295.1 M270.9,298.3 L273.2,297.0 L275.5,295.8 L278.5,296.6 L280.7,295.1 M236.0,149.9 L239.6,152.7 M236.0,149.9 L235.9,146.7 L236.1,143.6 L235.7,140.4 M235.7,140.4 L238.7,140.7 L241.4,139.3 M246.7,146.7 L244.4,149.4 L242.1,152.2 M242.1,152.2 L239.6,152.7 M226.9,150.3 L230.0,149.7 L233.0,150.1 L236.0,149.9 M236.9,160.7 L237.8,158.0 L238.3,155.2 L239.6,152.7 M230.3,136.0 L233.4,137.8 L235.7,140.4 M269.2,247.3 L266.8,246.5 L264.8,244.7 L262.0,244.7 L260.0,242.9 M269.2,247.3 L267.1,249.1 L267.4,252.1 L266.2,254.4 L265.4,256.8 L263.5,258.7 M260.0,242.9 L259.0,245.3 L257.8,247.6 L256.0,249.5 L254.3,251.5 L254.3,254.5 L252.6,256.4 M263.5,258.7 L259.8,260.1 M259.8,260.1 L257.7,258.4 L254.8,258.3 L252.6,256.9 M274.7,262.2 L271.8,261.5 L268.9,261.2 L266.5,258.8 L263.5,258.7 M274.7,262.2 L277.8,258.7 M274.1,245.7 L271.7,246.8 L269.2,247.3 M236.6,268.0 L239.2,266.8 L240.6,264.0 L243.7,263.6 L245.4,261.2 L248.0,260.0 L250.6,258.8 L252.6,256.9 M239.6,245.5 L243.2,245.5 L246.6,246.8 M246.6,246.8 L248.0,249.2 L249.0,252.0 L251.7,253.6 L252.6,256.4 M258.2,238.4 L260.8,236.9 L263.1,234.9 L265.7,233.4 L268.7,232.6 M258.2,238.4 L255.5,236.9 L252.8,235.3 M252.4,234.5 L252.8,235.3 M252.4,234.5 L253.6,232.2 L255.3,230.1 L257.0,228.1 L258.1,225.7 L258.7,223.0 L260.3,220.9 M260.3,220.9 L262.1,222.8 L263.5,225.1 L265.0,227.3 L267.0,229.0 L269.1,230.7 M269.1,230.7 L268.7,232.6 M274.8,241.5 L273.3,239.3 L271.1,237.5 L270.9,234.4 L268.7,232.6 M260.0,242.9 L258.2,238.4 M246.6,246.8 L247.4,244.3 L248.9,242.1 L251.1,240.3 L251.0,237.3 L252.8,235.3 M247.8,232.5 L252.4,234.5 M277.0,225.7 L273.9,226.6 L272.0,229.5 L269.1,230.7 M256.1,190.0 L257.0,187.2 L259.4,185.5 L261.0,183.2 M256.1,190.0 L253.8,187.6 L250.7,186.5 L248.2,184.4 M261.0,183.2 L259.7,180.1 L257.0,178.1 L255.2,175.3 M255.2,175.3 L252.3,176.9 L250.9,180.1 L247.9,181.6 M248.2,184.4 L247.9,181.6 M270.8,195.2 L269.6,192.7 L268.4,190.3 L268.9,187.3 L267.5,184.9 L266.7,182.3 M256.5,194.3 L256.1,190.0 M266.7,182.3 L263.8,182.4 L261.0,183.2 M241.9,189.7 L243.7,187.5 L246.4,186.6 L248.2,184.4 M240.3,175.6 L242.1,178.5 L245.9,178.9 L247.9,181.6 M278.6,185.7 L276.7,183.6 L275.4,181.0 M266.7,182.3 L268.8,180.1 M275.4,181.0 L272.2,179.7 L268.8,180.1 M275.4,181.0 L277.7,179.4 L279.5,177.3 L280.6,174.7 M255.2,175.3 L255.3,174.6 M255.3,174.6 L252.7,173.4 L250.9,171.0 L248.0,170.1 L246.3,167.6 M343.6,315.4 L342.2,313.3 L341.1,310.8 L339.6,308.7 M343.6,315.4 L342.6,318.0 L340.8,320.1 L339.4,322.5 L337.7,324.6 M339.6,308.7 L336.8,310.0 L333.8,310.4 L330.6,309.3 L327.8,310.3 M327.8,310.3 L328.3,313.0 L325.7,315.1 L325.5,317.6 L324.8,320.0 L325.4,322.7 M337.7,324.6 L334.9,323.7 L331.9,325.2 L329.1,324.7 L326.3,323.6 M325.4,322.7 L326.3,323.6 M349.4,317.3 L346.4,316.7 L343.6,315.4 M340.6,306.4 L339.6,308.7 M342.2,333.1 L340.1,330.6 L338.3,327.9 L337.7,324.6 M315.2,324.6 L317.9,325.0 L320.5,324.5 L322.9,323.8 L325.4,322.7 M338.0,339.6 L334.4,340.1 L330.8,339.6 M328.7,338.0 L330.8,339.6 M328.7,338.0 L329.0,335.0 L328.5,332.1 L326.9,329.4 L326.0,326.6 L326.3,323.6 M311.5,331.2 L314.2,332.6 L315.8,335.0 L317.2,337.6 L319.8,339.1 M319.8,339.1 L322.7,337.8 L325.7,338.2 L328.7,338.0 M291.5,333.0 L290.8,335.5 L289.5,337.8 M306.1,337.2 L305.0,340.4 L305.7,343.7 M305.7,343.7 L303.2,345.7 L299.8,346.1 L297.1,347.9 M297.1,347.9 L295.3,346.1 L294.3,343.6 L293.1,341.4 L291.6,339.4 L289.5,337.8 M274.7,334.2 L275.5,336.9 L277.9,338.5 L279.4,340.8 L280.4,343.3 M289.5,337.8 L287.7,339.9 L285.3,341.0 L283.1,342.7 L280.4,343.3 M287.1,385.9 L286.8,382.7 L284.2,380.2 L284.2,376.9 M301.3,380.2 L302.1,383.3 L301.5,386.4 M301.3,380.2 L299.4,378.1 L297.1,376.6 L295.1,374.6 L292.3,373.9 M292.3,373.9 L289.7,375.2 L287.3,376.8 L284.2,376.9 M266.8,371.6 L269.3,372.3 L271.9,371.1 L274.4,372.2 L276.9,370.6 L279.4,371.7 M271.9,385.6 L273.3,382.9 L276.1,381.9 L278.3,380.1 L280.2,378.0 L282.1,376.0 M279.4,371.7 L280.7,373.9 L282.1,376.0 M282.1,376.0 L284.2,376.9 M175.9,349.6 L175.0,352.3 L175.3,355.3 L174.8,358.1 L173.2,360.7 M141.2,345.4 L143.4,347.0 L145.0,349.2 L147.3,350.5 L149.4,352.3 L150.9,354.6 L152.8,356.4 L155.0,358.0 L155.9,360.9 L157.8,362.8 L160.4,364.0 M173.2,360.7 L170.9,362.3 L168.1,362.0 L165.6,363.2 L163.0,363.7 L160.4,364.0 M133.7,375.5 L136.2,374.2 L138.9,374.0 L141.5,373.5 L144.2,373.4 L146.9,374.2 L149.4,372.7 L152.3,374.1 L154.8,372.9 M141.0,399.2 L143.8,398.6 L145.7,396.4 L148.6,396.0 L151.3,395.4 L153.0,392.5 L155.9,392.2 L158.3,390.9 M154.8,372.9 L155.4,375.5 L156.2,378.0 L156.8,380.6 L157.7,383.0 L157.0,385.8 L158.4,388.2 L158.3,390.9 M154.8,372.9 L156.1,370.6 L158.4,369.0 L158.7,366.0 L160.4,364.0 M179.6,429.2 L179.4,426.5 L181.0,423.9 L180.4,421.1 L180.6,418.4 L180.1,415.7 L180.9,413.0 M179.6,429.2 L176.7,429.1 L173.9,429.9 L171.1,429.7 L168.3,430.2 L165.4,430.2 M165.4,430.2 L164.5,428.9 M164.5,428.9 L163.4,426.4 L165.0,423.7 L164.5,421.2 L164.9,418.6 L163.4,416.1 L163.7,413.5 M163.7,413.5 L165.1,410.9 L166.6,408.4 L168.7,406.4 L170.8,404.3 M170.8,404.3 L173.1,405.8 L175.3,407.3 L177.2,409.2 L179.2,410.9 L180.9,413.0 M182.5,431.2 L179.6,429.2 M200.0,413.4 L197.3,412.6 L194.5,413.4 L191.8,412.5 L189.1,414.2 L186.3,413.8 L183.7,412.1 L180.9,413.0 M148.3,413.3 L150.9,412.3 L153.4,412.4 L156.0,413.4 L158.5,413.0 L161.1,412.8 L163.7,413.5 M147.2,428.5 L150.1,428.8 L152.9,428.9 L155.8,428.0 L158.7,428.9 L161.6,428.8 L164.5,428.9 M170.7,397.9 L168.6,395.8 L165.3,395.9 L163.0,394.2 L160.8,392.2 L158.3,390.9 M170.7,397.9 L171.8,401.1 L170.8,404.3 M157.1,461.6 L156.5,458.6 L155.4,455.8 L152.8,453.8 L151.9,451.0 M157.1,461.6 L161.9,462.6 M161.9,462.6 L164.6,461.1 L166.0,458.2 L169.2,457.3 L170.3,454.1 L172.9,452.6 M151.9,451.0 L151.9,448.0 L154.0,445.9 M154.0,445.9 L156.1,443.9 L158.9,443.5 L161.0,441.6 L163.9,441.4 M163.9,441.4 L165.0,443.9 L167.4,445.2 L169.3,446.9 L171.0,448.8 L173.0,450.4 M173.0,450.4 L172.9,452.6 M139.6,453.7 L142.0,453.0 L144.7,453.5 L147.1,452.5 L149.4,451.4 L151.9,451.0 M147.2,469.7 L148.9,467.7 L150.7,465.8 L152.9,464.5 L154.9,462.9 L157.1,461.6 M167.8,474.0 L165.8,472.1 L166.3,469.0 L163.8,467.4 L163.2,464.9 L161.9,462.6 M181.0,461.6 L178.3,460.0 L177.1,457.0 L175.2,454.6 L172.9,452.6 M142.2,433.4 L144.8,434.8 L145.3,438.3 L148.6,439.1 L150.4,441.4 L151.6,444.2 L154.0,445.9 M165.4,430.2 L165.4,433.0 L163.9,435.7 L164.9,438.6 L163.9,441.4 M180.5,445.4 L178.2,447.4 L175.3,448.3 L173.0,450.4 M251.0,542.8 L252.6,545.2 L253.9,547.8 L254.0,550.9 L256.3,553.0 L257.3,555.7 L258.8,558.1 M236.7,554.9 L239.6,555.6 L241.8,557.3 L243.3,559.9 L246.0,560.9 L247.7,563.3 L250.4,564.3 M227.3,557.7 L228.1,560.5 L228.8,563.3 L230.4,565.8 L231.2,568.7 L231.4,571.7 L233.1,574.2 M212.7,505.9 L213.8,508.4 L212.2,511.0 L213.2,513.6 L212.2,516.2 L212.8,518.7 L213.8,521.2 L213.7,523.8 M212.7,505.9 L215.2,504.6 L216.7,502.2 L219.0,500.6 L220.7,498.4 M220.7,498.4 L223.2,499.8 L225.9,499.7 L228.6,500.1 M227.4,526.2 L229.0,523.8 L228.5,520.9 L229.1,518.2 L230.3,515.7 L230.4,513.0 L231.7,510.5 L232.0,507.8 L232.6,505.2 M227.4,526.2 L224.7,525.2 L222.0,524.5 L219.2,524.6 L216.6,523.4 L213.7,523.8 M228.6,500.1 L230.1,503.0 L232.6,505.2 M196.6,503.3 L199.2,504.5 L202.1,503.1 L204.8,503.5 L207.3,505.3 L210.0,505.1 L212.7,505.9 M207.2,527.4 L210.8,526.3 L213.7,523.8 M214.1,484.9 L215.7,487.5 L216.3,490.5 L218.6,492.8 L219.1,495.8 L220.7,498.4 M239.4,484.8 L237.1,486.5 L235.7,488.7 L235.0,491.5 L233.3,493.6 L231.6,495.7 L230.5,498.1 L228.6,500.1 M231.4,530.2 L229.4,528.2 L227.4,526.2 M248.0,507.7 L245.6,506.3 L243.0,506.0 L240.2,506.8 L237.8,505.6 L235.3,504.6 L232.6,505.2 M356.0,360.1 L358.6,359.0 L361.3,359.1 L364.0,359.4 L366.7,359.3 M367.7,346.1 L368.7,346.7 M366.7,359.3 L367.8,356.9 L368.3,354.4 L367.7,351.7 L367.5,349.1 L368.7,346.7 M369.2,328.9 L371.8,330.4 L373.5,333.0 L376.1,334.4 L378.2,336.4 M378.2,336.4 L376.5,338.3 L374.5,340.0 L373.0,342.1 L371.0,343.8 L369.9,346.3 M369.9,346.3 L368.7,346.7 M420.4,413.0 L417.6,411.3 L416.2,408.3 M416.2,408.3 L413.0,408.9 L409.9,409.6 L406.6,408.8 M402.2,415.0 L403.7,412.9 L405.4,411.0 L406.6,408.8 M382.8,412.3 L385.2,410.0 L387.6,407.7 L390.8,406.7 M402.2,415.0 L399.9,413.4 L397.2,412.2 L394.9,410.5 L392.9,408.5 L390.8,406.7 M384.1,393.7 L385.5,396.1 L388.3,396.8 L389.8,399.0 L392.1,400.3 M390.8,406.7 L391.1,403.4 L392.1,400.3 M406.6,408.8 L405.7,406.3 L404.5,404.0 L403.9,401.4 L403.8,398.7 M392.1,400.3 L394.8,399.6 L397.0,397.8 L399.5,396.7 M403.8,398.7 L399.5,396.7 M436.8,342.1 L436.3,339.3 L437.7,336.5 L437.4,333.7 L436.5,330.9 M436.8,342.2 L433.9,342.8 L431.0,342.4 L428.1,342.2 L425.3,342.4 M432.9,324.6 L431.4,326.8 L429.0,328.1 L427.3,330.0 L424.5,330.8 L423.6,333.7 L420.3,333.9 L419.0,336.4 M425.3,342.4 L422.8,341.0 L420.9,339.1 L419.0,337.0 M419.0,336.4 L419.0,337.0 M411.8,326.6 L411.1,323.3 L412.3,320.1 M411.8,326.6 L412.9,329.6 L414.8,331.9 L418.0,333.4 L419.0,336.4 M380.9,335.8 L383.2,337.2 L385.7,338.3 L387.8,339.8 M380.9,335.8 L381.8,333.2 L381.8,330.3 L383.8,327.8 L383.4,324.9 M387.8,339.8 L389.2,337.6 L392.0,336.7 L392.9,334.1 L395.3,332.9 L396.9,330.9 M383.4,324.9 L385.8,323.9 L388.4,323.2 L390.9,322.3 L393.3,321.4 M393.3,321.4 L394.0,323.9 L396.0,325.8 L396.9,328.2 L396.9,330.9 M375.2,318.3 L376.6,320.7 L379.7,321.2 L381.6,323.0 L383.4,324.9 M378.2,336.4 L380.9,335.8 M401.8,332.6 L399.1,332.3 L396.9,330.9 M401.8,332.6 L402.2,335.4 L402.3,338.2 L404.3,340.5 L405.3,343.1 L405.7,345.8 M389.4,343.9 L392.1,343.9 L394.9,343.5 L397.6,344.0 L400.4,344.2 L403.0,345.1 L405.7,345.8 M389.4,343.9 L387.8,339.8 M394.0,320.0 L393.3,321.4 M411.8,326.6 L408.8,327.2 L407.2,330.3 L404.2,331.0 L401.8,332.6 M301.3,380.2 L303.0,377.3 L304.8,374.6 L307.8,372.8 M307.8,372.8 L310.3,374.6 L313.8,374.3 L316.3,376.2 M303.6,387.7 L306.5,386.8 L309.4,388.2 L312.2,386.8 L315.1,386.6 L317.9,387.1 M316.3,376.2 L315.7,379.1 L317.8,381.6 L316.8,384.5 L317.9,387.1 M308.8,360.5 L311.3,360.4 L313.8,361.2 L316.3,361.0 L318.8,361.6 M308.8,360.5 L309.0,357.5 L310.8,354.8 L311.3,351.9 L311.0,348.8 M311.0,348.8 L313.7,347.3 L316.9,347.2 M316.9,347.2 L318.9,349.2 L321.9,349.8 L323.9,351.7 L326.0,353.7 M318.8,361.6 L320.8,358.8 L324.1,357.8 L326.5,355.4 M326.5,355.4 L326.0,353.7 M305.7,343.7 L308.0,346.6 L311.0,348.8 M319.8,339.1 L318.3,341.6 L317.3,344.3 L316.9,347.2 M330.8,339.6 L330.1,342.5 L329.6,345.5 L328.9,348.4 L327.1,350.9 L326.0,353.7 M331.4,371.0 L328.5,372.8 M333.0,358.4 L330.1,356.0 L326.5,355.4 M322.0,371.6 L325.3,372.1 L328.5,372.8 M322.0,371.6 L321.5,369.0 L321.3,366.3 L320.4,363.9 L318.8,361.6 M328.6,412.4 L328.0,409.8 L326.6,407.5 L325.3,405.3 M313.9,410.4 L314.6,407.2 L316.3,404.4 M316.3,404.4 L319.3,405.2 L322.3,404.8 L325.3,405.3 M306.4,398.9 L309.2,400.2 L312.3,399.9 L315.0,401.2 M316.3,404.4 L315.0,401.2 M317.9,387.1 L320.0,388.8 M315.0,401.2 L316.9,399.1 L316.3,396.0 L318.6,394.0 L319.8,391.6 L320.0,388.8 M466.2,349.3 L465.0,345.7 L465.3,341.9 M466.2,349.3 L463.6,349.9 L461.6,351.7 L459.4,353.1 L457.3,354.6 M453.0,349.3 L452.6,346.8 L452.9,344.2 L452.8,341.7 L453.5,339.2 M453.0,349.3 L455.2,351.9 L457.3,354.6 M453.5,339.2 L455.1,336.8 M476.3,354.4 L473.9,352.8 L471.5,351.4 L468.9,350.1 L466.2,349.3 M457.4,360.8 L460.1,364.8 M457.4,360.8 L457.0,357.7 L457.3,354.6 M436.8,342.1 L439.5,341.3 L442.5,341.7 L445.3,341.7 L447.8,339.6 L450.6,339.5 L453.5,339.2 M488.2,366.9 L489.9,364.4 L493.1,363.3 L494.4,360.4 M488.2,366.9 L490.8,368.4 L491.1,371.8 L493.0,373.7 L495.6,375.3 L497.0,377.7 M494.4,360.4 L496.9,361.0 L499.5,360.4 L502.0,361.2 L504.6,361.0 M497.0,377.7 L499.6,375.9 L502.7,375.2 L504.9,372.7 M504.9,372.7 L505.7,370.0 L507.3,367.4 L507.6,364.5 M507.6,364.5 L504.6,361.0 M491.4,349.0 L492.0,351.9 L493.2,354.6 L492.7,357.8 L494.4,360.4 M487.5,366.9 L488.2,366.9 M496.5,380.3 L497.0,377.7 M506.8,345.8 L507.1,348.4 L505.2,350.7 L504.7,353.3 L504.6,355.8 L504.7,358.4 L504.6,361.0 M512.5,378.6 L510.1,376.4 L508.0,373.9 L504.9,372.7 M515.6,363.9 L512.9,364.2 L510.2,363.6 L507.6,364.5 M206.2,588.2 L208.7,586.4 L209.4,583.3 L212.3,581.8 L212.8,578.5 L215.2,576.6 M220.2,579.1 L217.5,578.3 L215.2,576.6 M213.2,572.6 L215.2,576.6 M193.5,582.0 L196.2,583.0 L198.7,584.2 L201.3,585.3 L204.1,586.0 L206.2,588.2 M233.1,574.2 L230.3,574.7 L228.0,576.3 L225.5,577.4 L223.0,578.8 L220.2,579.1 M172.8,600.6 L171.2,602.9 L168.2,603.7 L166.9,606.3 L165.0,608.4 L162.8,610.0 M172.8,600.3 L170.3,599.3 L169.0,596.6 L166.6,595.4 L164.5,594.0 L162.4,592.3 L159.9,591.3 M180.6,608.4 L178.2,606.8 L177.1,604.1 L174.1,603.2 L172.8,600.6 M180.4,589.3 L178.6,591.3 L177.7,593.9 L175.6,595.7 L174.8,598.4 L172.8,600.3 M170.2,580.5 L168.4,582.9 L165.8,584.6 L163.3,586.3 L162.2,589.4 L159.9,591.3 M200.6,247.7 L200.1,250.5 L199.1,253.0 L196.8,255.0 L195.2,257.3 L194.9,260.2 M200.6,247.7 L197.2,245.7 L195.3,242.3 M194.9,260.2 L193.1,258.1 L191.2,256.1 L191.2,252.9 L188.1,251.7 L187.3,249.1 M195.3,242.3 L192.5,243.9 L189.3,243.6 M187.3,249.1 L188.8,246.5 L189.3,243.6 M206.6,246.2 L203.3,245.8 L200.6,247.7 M199.1,232.0 L197.6,234.4 L198.0,237.4 L196.5,239.8 L195.3,242.3 M179.6,250.2 L182.2,249.9 L184.9,250.3 L187.3,249.1 M185.9,239.3 L187.2,241.8 L189.3,243.6 M295.1,292.8 L293.8,292.9 M295.1,292.8 L296.8,290.1 L299.6,288.9 L302.3,287.6 L304.2,285.2 M293.8,292.9 L292.8,290.3 L291.9,287.7 L291.4,284.9 L290.3,282.4 L288.9,280.0 L287.2,277.8 M287.2,277.8 L289.7,277.8 L292.3,277.1 L294.8,276.6 L297.4,276.5 L300.0,277.4 L302.5,277.0 M302.5,277.0 L302.5,279.9 L302.9,282.7 L304.2,285.2 M304.8,300.3 L303.0,297.7 L299.7,296.9 L297.3,294.9 L295.1,292.8 M293.3,293.3 L293.8,292.9 M308.6,287.3 L304.2,285.2 M303.4,275.4 L302.5,277.0 M280.7,295.1 L279.3,292.3 L279.2,289.1 L279.3,285.9 L277.6,283.1 M287.2,277.8 L286.6,277.4 M277.6,283.1 L280.1,282.2 L282.0,280.2 L284.0,278.2 L286.6,277.4 M292.6,261.0 L290.6,263.2 L289.2,265.6 L288.2,268.3 L287.8,271.2 L286.1,273.5 M274.7,262.2 L275.3,266.6 M275.3,266.6 L277.6,267.8 L279.5,269.5 L281.3,271.5 L284.2,271.7 L286.1,273.5 M286.1,273.5 L286.6,277.4 M267.0,292.4 L267.9,289.7 L268.4,286.9 L269.4,284.3 L271.5,282.2 M267.0,292.4 L263.9,293.0 L260.8,291.8 L257.8,292.5 M257.8,292.5 L256.4,290.2 L254.4,288.5 L252.6,286.5 L250.6,284.7 L249.3,282.4 M249.3,282.4 L252.1,281.6 L254.3,279.7 L256.4,277.6 L259.5,277.4 L261.9,275.8 M271.5,282.2 L270.5,279.6 L267.2,279.2 L266.1,276.7 M261.9,275.8 L266.1,276.7 M270.9,298.3 L269.9,294.7 L267.0,292.4 M277.6,283.1 L274.4,283.5 L271.5,282.2 M257.2,300.5 L257.0,297.8 L258.6,295.3 L257.8,292.5 M242.4,281.8 L245.8,283.1 L249.3,282.4 M259.8,260.1 L260.8,262.6 L260.0,265.4 L260.6,268.0 L261.4,270.5 L260.9,273.3 L261.9,275.8 M275.3,266.6 L273.3,268.4 L272.1,271.1 L269.8,272.7 L267.6,274.4 L266.1,276.7 M261.6,164.7 L259.0,163.7 L256.3,163.1 L253.7,161.9 L250.9,161.7 M250.4,158.6 L250.9,161.7 M250.4,158.6 L251.5,156.2 L253.1,154.2 L254.8,152.4 L257.2,151.2 M268.8,180.1 L268.7,177.4 L268.0,174.8 L268.6,172.1 L267.5,169.6 M255.3,174.6 L258.7,173.0 L260.7,169.7 M246.3,167.6 L247.9,164.1 L250.9,161.7 M242.1,152.2 L244.3,153.5 L246.4,155.2 L248.3,157.0 L250.4,158.6 M295.8,351.8 L292.5,352.7 L290.0,355.1 M295.8,351.8 L297.6,353.6 L300.0,354.7 L301.4,356.9 L303.8,357.9 L305.4,359.9 L307.4,361.4 M290.0,355.1 L290.7,358.1 L289.6,361.0 M289.6,361.0 L291.8,363.7 L294.3,366.3 M294.3,366.3 L297.3,365.6 L300.4,365.3 L303.3,364.4 L306.3,363.6 M306.3,363.6 L307.4,361.4 M297.1,347.9 L295.8,351.8 M308.8,360.5 L307.4,361.4 M292.3,373.9 L293.1,371.4 L294.1,369.0 L294.3,366.3 M280.3,365.6 L282.2,363.8 L285.2,363.8 L287.4,362.4 L289.6,361.0 M280.3,365.6 L279.4,368.6 L279.4,371.7 M307.8,372.8 L307.1,369.8 L305.9,366.8 L306.3,363.6 M322.0,371.6 L318.6,373.2 L316.3,376.2 M280.1,344.1 L280.3,347.3 L281.9,350.1 M280.1,344.1 L277.4,343.7 L275.2,345.3 L272.5,344.9 L270.0,345.5 L267.7,346.7 L265.2,347.4 M281.9,350.1 L279.5,351.8 L277.9,354.1 L277.5,357.3 L275.1,359.0 M265.2,347.4 L265.0,350.3 M265.0,350.3 L267.4,351.9 L268.8,354.4 L270.5,356.8 L272.4,358.8 M272.4,358.8 L275.1,359.0 M280.4,343.3 L280.1,344.1 M290.0,355.1 L287.5,353.2 L284.7,351.7 L281.9,350.1 M263.9,345.5 L265.2,347.4 M280.3,365.6 L279.2,362.9 L277.3,360.8 L275.1,359.0 M255.8,359.5 L257.0,357.1 L259.2,355.6 L261.9,354.6 L263.5,352.5 L265.0,350.3 M264.0,367.9 L265.4,364.9 L268.4,363.5 L269.7,360.5 L272.4,358.8 M173.6,361.0 L174.4,363.6 L174.2,366.5 L176.9,368.4 L176.1,371.5 L177.6,373.8 L177.4,376.7 L178.4,379.2 L180.9,381.2 L180.4,384.2 L180.8,386.9 L182.3,389.2 M173.6,361.0 L176.4,361.0 L178.9,362.4 L181.8,361.8 L184.5,362.2 L187.2,362.9 L189.9,363.3 L192.4,365.2 L195.3,364.0 L197.9,364.9 L200.6,365.5 M200.6,365.5 L201.5,368.2 L201.9,371.0 L202.2,373.8 L204.1,376.2 M204.1,376.2 L202.3,377.9 L200.2,379.5 L199.8,382.5 L197.3,383.7 L196.5,386.3 L193.7,387.2 L192.7,389.7 M192.7,389.7 L190.1,389.3 L187.5,390.2 L184.9,388.5 L182.3,389.2 M173.2,360.7 L173.6,361.0 M170.7,397.9 L173.1,396.2 L175.3,394.4 L177.1,391.9 L180.5,391.6 L182.3,389.2 M207.4,352.0 L206.3,354.3 L204.5,356.2 L204.9,359.2 L202.5,360.8 L202.0,363.4 L200.6,365.5 M214.7,378.9 L212.1,378.1 L209.5,377.3 L206.9,376.1 L204.1,376.2 M203.6,406.9 L203.0,404.2 L200.3,403.0 L200.2,400.0 L197.4,398.7 L195.9,396.7 L195.1,394.2 L193.7,392.1 L192.7,389.7 M363.1,377.4 L366.6,375.7 M366.7,359.3 L367.4,360.2 M367.4,360.2 L366.7,362.8 L367.0,365.4 L367.3,368.0 L366.2,370.5 L365.8,373.1 L366.6,375.7 M378.2,387.1 L377.6,383.8 L376.7,380.6 L375.5,377.6 M366.6,375.7 L369.4,377.1 L372.6,376.5 L375.5,377.6 M383.3,390.3 L385.9,389.7 L386.8,386.8 L388.7,385.0 L391.3,384.3 M399.5,396.7 L400.1,394.1 L398.5,391.5 L399.1,388.8 M399.1,388.8 L396.3,387.6 L393.9,385.8 L391.3,384.3 M375.5,377.6 L378.2,375.2 M378.2,375.2 L380.9,374.5 L383.6,375.3 L386.3,375.3 L389.0,374.9 L391.6,375.9 M391.3,384.3 L391.6,381.5 L391.4,378.7 L391.6,375.9 M449.8,409.2 L446.9,409.0 L444.7,406.7 L441.8,406.6 L438.8,406.5 L436.8,403.8 L433.9,403.7 M444.1,393.9 L439.3,394.4 M439.3,394.4 L438.1,396.8 L437.4,399.5 L435.6,401.6 L433.9,403.7 M432.4,406.2 L433.3,404.0 M433.9,403.7 L433.3,404.0 M328.9,383.8 L327.3,385.9 L325.7,388.0 L323.0,388.9 M328.9,383.8 L331.6,383.7 L334.4,383.6 L337.0,384.0 L339.7,384.8 M323.0,388.9 L324.8,391.4 L327.6,393.0 L329.9,395.1 L331.1,398.1 M340.9,391.4 L339.6,388.3 L339.7,384.8 M340.9,391.4 L338.9,394.0 L336.7,396.5 L333.9,398.2 M333.9,398.2 L331.1,398.1 M328.5,372.8 L328.4,375.6 L327.9,378.4 L328.1,381.1 L328.9,383.8 M320.0,388.8 L323.0,388.9 M343.4,379.1 L341.6,382.0 L339.7,384.8 M325.3,405.3 L327.7,403.3 L329.7,400.9 L331.1,398.1 M350.5,396.0 L348.2,394.6 L346.0,393.1 L343.2,392.8 L340.9,391.4 M341.6,409.6 L340.5,407.0 L338.5,405.0 L337.4,402.5 L335.8,400.2 L333.9,398.2 M450.7,385.9 L448.0,384.3 L446.6,381.2 L443.6,379.9 L441.5,377.6 M455.6,371.4 L452.8,372.2 L449.7,371.7 L447.0,373.3 L443.9,372.8 M443.9,372.8 L443.7,375.7 L441.5,377.6 M433.1,384.7 L433.8,387.7 L436.4,389.4 L437.2,392.3 L439.3,394.4 M433.1,384.7 L434.7,382.0 L436.6,379.5 M441.5,377.6 L439.4,379.4 L436.6,379.5 M388.8,363.7 L389.8,361.0 L390.3,358.1 L392.0,355.7 M388.8,363.7 L385.9,364.5 L383.1,364.6 L380.2,363.5 M380.2,363.5 L379.1,362.2 M379.1,362.2 L379.5,359.6 L379.8,357.0 L380.5,354.5 L381.4,352.0 M392.0,355.7 L391.4,352.9 L389.8,350.9 L387.7,349.0 M381.4,352.0 L384.8,350.9 L387.7,349.0 M378.2,375.2 L378.2,372.2 L379.8,369.4 L380.2,366.5 L380.2,363.5 M392.7,368.2 L390.8,365.9 L388.8,363.7 M392.7,368.2 L393.1,371.7 L392.3,375.1 M392.3,375.1 L391.6,375.9 M367.4,360.2 L370.5,360.1 L373.3,361.0 L376.3,361.2 L379.1,362.2 M369.9,346.3 L371.8,348.2 L374.5,348.5 L376.7,350.1 L378.7,351.7 L381.4,352.0 M389.4,343.9 L388.3,346.4 L387.7,349.0 M417.7,376.8 L414.8,378.1 L411.6,378.3 L408.4,378.5 M417.7,376.8 L418.9,379.8 L422.3,380.9 L423.9,383.5 L425.4,386.2 M425.4,386.2 L423.7,389.0 L421.8,391.8 L421.1,395.0 M407.7,381.2 L408.4,378.5 M407.7,381.2 L408.2,384.1 L409.5,386.6 L410.6,389.2 L412.4,391.6 L413.3,394.3 M413.3,394.3 L416.4,394.2 L418.9,395.9 M418.9,395.9 L421.1,395.0 M420.8,371.3 L419.0,373.9 L417.7,376.8 M420.8,371.3 L423.7,370.2 L426.8,371.6 L429.7,370.8 M433.1,384.7 L430.7,386.0 L428.1,386.8 L425.4,386.2 M429.7,370.8 L430.6,373.6 L433.7,374.7 L434.7,377.4 L436.6,379.5 M433.3,404.0 L430.7,403.3 L429.8,400.2 L426.6,400.4 L425.4,397.7 L423.6,395.9 L421.1,395.0 M399.1,388.8 L401.0,386.6 L402.7,384.2 L404.9,382.3 L407.7,381.2 M392.3,375.1 L395.1,374.6 L397.4,376.5 L400.0,376.5 L402.4,377.7 L405.1,377.5 L407.7,377.6 M407.7,377.6 L408.4,378.5 M403.8,398.7 L406.3,397.8 L408.3,395.9 L410.7,394.9 L413.3,394.3 M416.2,408.3 L417.7,406.0 L418.2,403.6 L417.7,400.8 L419.0,398.5 L418.9,395.9 M401.7,356.2 L402.2,359.8 L403.6,363.2 M401.7,356.2 L402.5,353.6 L403.5,351.1 L405.8,349.2 L406.5,346.5 M403.6,363.2 L405.2,364.3 M405.2,364.3 L408.1,364.6 L410.8,364.0 L413.1,361.9 L415.5,360.6 L418.4,360.8 M408.4,346.4 L410.6,348.0 L412.9,349.5 L413.4,352.8 L416.3,353.5 L417.4,356.2 L419.9,357.5 M408.4,346.4 L406.5,346.5 M419.9,357.5 L418.4,360.8 M392.7,368.2 L395.2,366.4 L398.6,366.6 L400.9,364.4 L403.6,363.2 M392.0,355.7 L395.2,356.6 L398.5,356.3 L401.7,356.2 M405.7,345.8 L406.5,346.5 M407.7,377.6 L407.8,374.9 L405.8,372.5 L405.3,369.8 L405.4,367.1 L405.2,364.3 M420.8,371.3 L421.0,368.5 L420.5,365.9 L419.5,363.3 L418.4,360.8 M425.3,342.4 L424.6,345.1 L425.4,348.0 L423.1,350.5 L423.2,353.3 L423.2,356.1 M419.0,337.0 L416.7,338.7 L414.3,340.2 L413.0,343.1 L410.3,344.3 L408.4,346.4 M423.2,356.1 L419.9,357.5 M427.6,356.8 L429.3,359.5 L431.2,362.0 L433.6,364.0 M427.6,356.8 L429.2,354.6 L432.1,354.3 L434.4,353.1 L436.1,351.1 L438.1,349.4 M433.6,364.0 L436.2,363.2 L438.9,364.8 L441.5,363.8 M441.7,352.6 L438.1,349.4 M441.7,352.6 L443.0,355.5 L443.1,358.6 L442.9,361.7 M442.9,361.7 L441.5,363.8 M423.2,356.1 L427.6,356.8 M429.7,370.8 L431.7,368.9 L432.5,366.3 L433.6,364.0 M436.8,342.2 L437.8,345.7 L438.1,349.4 M443.9,372.8 L443.8,369.6 L442.6,366.7 L441.5,363.8 M453.0,349.3 L450.4,351.0 L447.5,351.5 L444.4,351.1 L441.7,352.6 M457.4,360.8 L454.5,360.3 L451.7,362.1 L448.7,361.3 L445.8,361.0 L442.9,361.7 M172.5,128.6 L176.6,120.3 L191.2,119.3 L209.9,125.5 L222.3,123.4 L232.7,121.4 L243.1,114.1 L253.5,107.9 L263.9,101.6 L273.2,97.5 M273.2,97.5 L274.7,111.5 L279.8,121.9 L293.6,128.7 L295.3,135.6 L291.0,139.5 M291.0,141.0 L290.1,145.9 L291.9,156.2 L298.7,163.1 L303.0,167.0 M232.7,121.4 L239.0,128.6 L239.0,139.0 L243.1,147.3 L257.7,153.6 L261.8,159.8 L257.7,168.1 L259.7,172.3" fill="none" stroke="#f7f7f7" stroke-width="1.1" stroke-linejoin="round"/>
<path d="M253.0,786.3 L249.6,785.3 L246.0,785.9 M253.9,760.1 L251.4,761.8 L249.0,763.6 L247.7,766.6 L244.9,767.9 M244.9,767.9 L245.4,769.8 M245.4,769.8 L247.9,770.8 L250.5,771.7 L252.8,773.4 L255.8,773.3 L258.2,774.7 L260.8,775.5 M246.0,785.9 L245.4,783.3 L244.6,780.8 L243.9,778.3 L242.7,775.9 M242.7,775.9 L243.3,772.5 L245.4,769.8 M308.6,676.1 L305.6,677.0 L303.2,678.9 L300.9,680.7 M300.9,680.7 L301.1,683.3 L299.0,685.5 L299.2,688.1 M285.8,672.2 L284.9,675.0 L285.1,678.0 L284.2,680.8 L281.9,683.2 L282.0,686.2 M285.8,672.2 L288.6,672.3 L291.3,672.2 M282.0,686.2 L284.9,687.3 L286.6,690.2 L289.5,691.1 M291.3,672.2 L293.0,674.1 L295.0,675.7 L297.2,677.1 L299.1,678.9 L300.9,680.7 M334.0,615.5 L331.1,615.5 L328.1,615.4 L325.2,615.9 L322.2,615.5 M334.0,615.5 L333.9,618.7 L334.9,621.8 M320.0,618.2 L322.2,615.5 M320.0,618.2 L322.1,620.0 L322.7,622.7 L324.6,624.6 L325.7,627.0 L326.2,629.7 M312.8,619.4 L316.6,619.8 L320.0,618.2 M312.8,619.4 L310.9,621.4 L309.6,623.8 M309.6,623.8 L310.6,626.3 L311.3,629.1 L311.4,631.9 L313.3,634.2 L313.9,637.0 M325.6,634.5 L322.6,634.9 L319.7,635.4 L316.9,636.7 L313.9,637.0 M274.0,646.5 L274.9,650.1 L275.3,653.9 M274.0,646.5 L271.5,644.8 L268.5,644.1 L266.2,642.2 L263.6,640.7 M275.3,653.9 L272.9,655.0 L270.5,656.0 L268.6,658.0 L266.0,658.6 M266.0,658.6 L264.3,656.4 L261.3,656.4 L259.0,655.1 L257.0,653.4 M259.3,641.7 L263.6,640.7 M259.3,641.7 L258.1,645.0 L256.0,647.7 M256.0,647.7 L257.4,650.4 L257.0,653.4 M249.6,662.5 L251.3,660.1 L253.8,658.3 L255.5,656.0 L257.0,653.4 M249.6,662.5 L246.6,661.6 L243.9,660.2 L241.6,658.0 M240.8,647.0 L241.4,649.8 L240.6,652.6 L241.4,655.3 L241.6,658.0 M240.8,647.0 L243.3,648.1 L245.9,647.6 L248.4,647.7 L250.9,648.1 L253.4,648.2 L256.0,647.7 M404.9,563.7 L402.2,563.2 L399.6,562.5 L397.2,561.3 L394.7,560.4 L391.9,560.3 L389.6,558.7 M404.9,563.7 L405.1,560.9 L405.9,558.3 L405.2,555.4 L405.6,552.7 L406.0,550.0 L406.6,547.3 L407.5,544.7 M407.5,544.7 L404.7,544.0 L402.4,546.4 L399.8,546.4 L397.2,546.8 L394.5,546.5 L392.0,547.8 L389.2,547.1 M389.2,547.1 L389.4,550.0 L390.1,552.9 L390.0,555.8 L389.6,558.7 M353.6,610.6 L354.9,608.1 L357.0,606.1 L357.5,603.2 L358.5,600.6 L359.9,598.2 L361.6,596.0 M352.2,611.9 L350.8,611.1 M361.6,596.0 L359.3,593.0 L358.8,589.2 M350.8,611.1 L349.1,608.9 L348.1,606.4 L346.8,604.0 L345.5,601.6 L345.2,598.8 L344.2,596.3 M358.8,589.2 L355.1,588.7 M344.2,596.3 L346.0,594.2 L348.9,593.7 L351.3,592.5 L352.6,589.8 L355.1,588.7 M334.0,615.5 L336.9,612.0 M336.9,612.0 L339.7,611.9 L342.4,611.6 L345.2,610.5 L347.9,610.5 L350.8,611.1 M361.6,596.0 L363.9,597.8 L366.8,597.9 L369.2,599.5 L372.4,598.9 L374.6,601.0 L377.3,601.7 M325.9,678.1 L324.7,675.7 L322.9,674.0 L319.8,673.5 L318.9,670.9 M327.5,656.4 L326.7,656.6 M326.7,656.6 L325.7,659.1 L323.6,661.1 L323.6,664.2 L321.9,666.4 L319.6,668.2 L318.9,670.9 M308.6,676.1 L310.2,672.1 M310.2,672.1 L313.0,671.3 L315.8,670.3 L318.9,670.9 M313.9,637.0 L312.1,639.6 L310.0,642.0 M326.7,656.6 L323.1,656.3 L319.8,654.6 M310.0,642.0 L312.4,643.6 L313.1,646.3 L314.1,648.9 L316.4,650.5 L317.9,652.7 L319.8,654.6 M310.2,672.1 L308.4,669.2 L307.6,666.0 L306.1,663.1 M319.8,654.6 L317.2,655.6 L315.1,657.3 L312.6,658.3 L310.6,660.2 L308.7,662.3 L306.1,663.1 M291.3,672.2 L293.2,670.4 L294.8,668.4 L296.0,666.1 L298.5,664.9 L300.5,663.3 L301.8,661.0 M301.8,661.0 L306.1,663.1 M413.8,543.7 L410.9,543.3 L408.0,544.2 M425.2,550.4 L422.4,549.9 L420.3,548.2 L418.0,547.1 L416.1,545.1 L413.8,543.7 M407.5,544.7 L408.0,544.2 M242.4,765.7 L239.6,766.1 L236.6,765.9 L233.9,767.1 L231.0,767.2 M242.4,765.7 L240.7,762.7 L240.8,759.3 L239.9,756.1 M239.9,756.1 L237.4,755.5 L234.9,754.6 L232.3,754.3 L229.5,755.8 L227.0,754.6 M231.1,664.2 L229.6,661.5 L226.9,659.7 L226.4,656.2 L223.9,654.2 M231.1,664.2 L233.3,661.9 L236.2,660.9 L239.0,659.6 L241.6,658.0 M238.6,644.6 L236.4,646.5 L233.6,647.2 L231.1,648.3 L228.1,648.5 L225.7,650.0 M238.6,644.6 L240.8,647.0 M223.9,654.2 L225.7,650.0 M281.5,638.5 L281.0,635.9 L278.5,634.5 L278.0,631.8 L275.5,630.5 L274.8,627.9 M281.5,638.5 L279.5,640.4 L277.8,642.6 L276.2,644.8 L274.0,646.5 M263.6,640.7 L265.5,638.6 L266.7,636.0 L266.8,632.9 L268.4,630.5 L270.1,628.3 M274.8,627.9 L270.1,628.3 M312.8,619.4 L312.1,616.7 L311.1,614.2 L309.1,612.3 L308.3,609.7 L307.2,607.2 L305.0,605.4 M309.6,623.8 L306.6,623.4 L303.7,623.8 L300.8,625.0 L297.8,624.8 L294.8,624.7 M294.8,624.7 L294.1,623.7 M294.1,623.7 L295.0,621.0 L296.2,618.3 L295.4,615.2 L296.2,612.5 L296.0,609.5 L297.6,606.9 M305.0,605.4 L302.4,605.5 L300.1,606.5 L297.6,606.9 M374.3,563.3 L376.9,564.3 L379.6,562.5 L382.2,564.4 L384.8,563.4 M374.3,563.3 L372.9,565.9 L372.7,568.8 L372.5,571.7 L372.3,574.7 L371.9,577.5 L370.4,580.1 M384.8,563.4 L386.3,565.8 L386.4,568.5 L386.9,571.1 L386.5,574.0 L387.9,576.4 L387.6,579.3 L389.3,581.6 M370.4,580.1 L372.7,581.9 L375.8,582.1 L377.9,584.2 L380.8,584.7 L383.0,586.7 M389.6,558.7 L387.9,561.7 L384.8,563.4 M366.1,580.8 L363.5,582.3 L362.7,585.3 L361.1,587.6 L358.8,589.2 M366.1,580.8 L370.4,580.1 M336.9,612.0 L335.5,609.8 L334.9,607.3 L334.2,604.8 L332.0,603.0 L331.2,600.6 M344.2,596.3 L340.8,595.2 M340.8,595.2 L338.8,597.1 L336.6,598.8 L334.0,599.9 L331.2,600.6 M309.9,642.0 L307.5,643.9 L306.1,646.4 L303.7,648.2 L303.5,651.8 L301.1,653.7 L299.1,655.8 M309.9,642.0 L307.5,640.3 L304.8,639.4 L301.6,639.4 L299.3,637.6 L296.9,635.9 L294.1,635.0 M290.1,638.8 L292.4,637.2 L294.1,635.0 M290.1,638.8 L290.6,641.6 L291.5,644.3 L290.1,647.3 L291.5,650.0 L291.8,652.8 M291.8,652.8 L294.1,654.2 L296.7,654.8 L299.1,655.8 M301.8,661.0 L299.6,658.8 L299.1,655.8 M294.8,624.7 L295.2,627.4 L295.4,629.9 L295.0,632.5 L294.1,635.0 M281.5,638.5 L284.4,638.0 L287.3,638.5 L290.1,638.8 M294.1,623.7 L291.5,623.5 L288.9,622.8 L286.6,621.2 L283.6,622.3 L281.2,620.6 M281.2,620.6 L279.7,623.6 L276.4,625.0 L274.8,627.9 M281.5,658.1 L279.5,656.6 L277.3,655.4 L275.3,653.9 M281.5,658.1 L283.9,656.3 L286.7,655.5 L289.0,653.6 L291.8,652.8 M285.8,672.2 L284.6,669.7 L282.1,668.3 M282.1,668.3 L282.7,665.7 L281.4,663.2 L280.6,660.7 L281.5,658.1 M312.9,563.2 L310.2,562.3 L308.4,559.9 L306.1,558.3 L303.6,557.0 L300.8,556.3 M312.9,563.2 L313.5,560.4 L313.9,557.5 L314.8,554.6 L314.9,551.6 L316.3,548.9 M316.3,548.9 L314.0,546.8 L311.3,545.1 L309.5,542.6 M309.5,542.6 L307.4,544.6 L304.7,545.6 L302.6,547.6 L299.6,548.2 M299.6,548.2 L300.1,550.9 L300.0,553.7 L300.8,556.3 M310.8,533.9 L310.0,536.7 L308.9,539.5 L309.5,542.6 M310.8,533.9 L309.4,532.1 M309.4,532.1 L306.8,531.2 L304.2,531.7 L301.6,531.1 L298.9,532.1 L296.3,531.3 L293.7,532.3 L291.1,531.8 M290.5,543.3 L292.7,544.6 L294.6,546.7 L297.2,547.2 L299.6,548.2 M290.5,543.3 L289.9,540.8 L289.8,538.2 L288.5,535.8 M291.1,531.8 L288.5,535.8 M253.9,760.1 L252.0,757.8 L251.8,754.9 L250.0,752.6 L249.8,749.7 M244.9,767.9 L242.4,765.7 M239.9,756.1 L241.6,754.0 L242.5,751.5 L244.5,749.7 M226.5,753.3 L228.3,751.5 L229.2,749.0 L231.6,747.6 L232.3,745.0 L234.7,743.7 L235.1,740.8 L236.9,739.0 M236.9,739.0 L237.5,739.0 M244.5,749.7 L244.0,747.0 L240.9,745.9 L240.8,743.0 L238.5,741.4 L237.5,739.0 M282.1,668.3 L279.4,669.3 L276.5,669.7 L274.1,671.7 L271.2,672.2 L268.3,672.4 M266.0,658.6 L266.5,661.5 L264.7,664.2 L265.5,667.2 L264.5,670.0 M268.3,672.4 L264.5,670.0 M216.0,686.8 L218.7,686.2 L221.4,685.2 L224.1,684.4 L226.9,684.4 M216.0,686.8 L215.2,684.1 L212.9,682.6 L211.6,680.3 L209.8,678.4 M209.8,678.4 L210.9,674.8 L211.1,671.0 M211.1,671.0 L213.7,672.0 L216.4,671.0 L219.1,670.8 L221.7,671.9 L224.4,672.2 M226.9,684.4 L225.6,681.5 L224.6,678.5 L225.9,675.1 L224.4,672.2 M231.1,664.2 L230.9,666.6 M211.1,671.0 L209.3,668.0 M223.9,654.2 L221.3,654.5 L218.9,655.7 L216.5,656.9 L213.8,656.8 M209.3,668.0 L211.0,665.4 L211.6,662.4 L212.0,659.3 L213.8,656.8 M230.9,666.6 L228.1,667.6 L225.9,669.6 L224.4,672.2 M190.0,633.4 L190.6,630.9 L190.7,628.4 L190.2,625.9 L189.9,623.4 M190.0,633.4 L187.3,633.5 L185.0,634.7 L182.4,634.9 L180.0,635.8 L178.2,638.4 L175.5,638.3 M169.4,624.5 L171.3,622.7 L173.7,621.6 L175.8,620.0 L178.3,619.1 M189.9,623.4 L186.7,623.0 L184.4,620.5 L180.8,621.1 L178.3,619.1 M238.6,644.6 L238.0,641.9 L239.4,639.1 L238.9,636.3 M259.3,641.7 L256.9,639.7 L255.1,637.2 L253.6,634.5 M253.6,634.5 L250.6,633.9 L247.7,634.7 L244.8,635.7 L241.9,636.8 L238.9,636.3 M310.8,533.9 L313.3,533.1 L316.0,533.6 L318.7,534.1 L321.2,532.8 M328.3,546.9 L325.2,546.6 L322.3,548.1 L319.4,548.9 L316.3,548.9 M209.3,668.0 L207.0,666.6 L204.5,666.3 L202.0,666.0 L199.4,666.2 M208.7,650.6 L210.6,652.5 L212.1,654.8 L213.8,656.8 M208.7,650.6 L206.1,651.7 L203.3,650.7 L200.5,650.7 L198.0,652.7 L195.2,652.3 M199.4,666.2 L199.1,663.3 L198.1,660.5 L195.9,658.1 L196.9,654.8 L195.2,652.3 M195.4,687.5 L197.8,686.0 L199.9,684.1 L202.0,682.1 L205.3,682.0 L207.2,679.6 L209.8,678.4 M199.4,666.2 L196.8,667.8 L194.5,670.0 L191.5,671.0 M195.7,638.1 L198.3,637.7 L200.6,636.5 L203.2,636.0 M195.7,638.1 L194.5,640.4 L194.1,643.0 L193.4,645.4 L193.8,648.1 L192.7,650.5 M208.7,650.6 L208.0,647.9 L210.1,645.5 L210.5,643.0 L209.8,640.3 M203.2,636.0 L205.2,637.7 L207.1,639.7 L209.8,640.3 M192.7,650.5 L195.2,652.3 M366.1,580.8 L363.8,579.1 L362.4,576.7 L361.0,574.3 L358.4,572.9 L357.5,570.1 L355.3,568.3 M374.3,563.3 L371.8,561.9 L370.0,559.8 M327.4,583.9 L329.9,585.0 L332.6,584.7 L335.2,585.1 L337.8,585.1 M327.4,583.9 L327.2,581.3 L327.2,578.7 L328.9,576.3 L328.9,573.7 L329.1,571.2 L329.9,568.7 L329.0,566.0 M337.8,585.1 L339.7,583.2 L340.9,580.7 L343.4,579.4 L345.0,577.3 M334.2,566.3 L336.7,567.7 L338.6,569.8 L340.8,571.4 L342.8,573.4 L345.1,575.0 M334.2,566.3 L331.7,565.2 L329.0,566.0 M345.1,575.0 L345.0,577.3 M355.1,588.7 L353.9,586.4 L351.6,585.0 L350.6,582.5 L348.9,580.6 L347.1,578.8 L345.0,577.3 M340.8,595.2 L340.2,592.6 L340.2,589.9 L338.6,587.6 L337.8,585.1 M346.2,553.5 L345.1,555.9 L343.2,557.5 L340.8,558.7 L339.6,561.0 L337.8,562.7 L336.1,564.6 L334.2,566.3 M355.3,568.3 L353.1,570.5 L350.7,572.4 L348.2,574.2 L345.1,575.0 M328.3,546.9 L328.0,549.6 L328.9,552.3 L328.7,555.1 L327.7,557.8 L328.5,560.6 L328.2,563.3 L329.0,566.0 M314.2,566.0 L312.9,563.2 M314.2,566.0 L317.1,566.6 L320.1,567.0 L323.1,565.1 L326.0,565.8 L329.0,566.0 M322.2,615.5 L323.0,612.6 L321.8,609.9 L322.7,607.0 L321.5,604.2 M305.0,605.4 L307.2,603.1 M307.2,603.1 L310.1,602.6 L313.0,602.6 L315.7,604.6 L318.6,603.8 L321.5,604.2 M331.2,600.6 L326.4,599.4 M321.5,604.2 L323.9,601.8 L326.4,599.4 M327.4,583.9 L324.3,585.1 L322.4,587.8 M326.4,599.4 L324.8,596.7 L325.3,593.3 L323.2,590.8 L322.4,587.8 M280.6,555.3 L282.1,553.2 L283.9,551.3 L285.4,549.2 L287.1,547.3 L288.7,545.2 L290.5,543.3 M280.6,555.3 L281.4,557.4 M300.8,556.3 L298.5,557.7 L297.2,560.1 L295.4,562.0 L292.9,563.2 M281.4,557.4 L283.8,558.4 L286.4,558.9 L288.4,560.7 L290.6,562.0 L292.9,563.2 M280.6,555.3 L278.2,553.7 L275.1,554.1 L272.8,552.5 L270.3,551.3 M288.5,535.8 L286.0,534.9 L283.4,535.6 L280.9,534.2 L278.3,534.2 L275.6,535.4 L273.1,534.4 L270.6,533.8 M270.3,551.3 L270.8,548.5 L270.2,545.7 L270.4,542.9 L271.0,540.1 L270.2,537.3 L269.7,534.5 M291.1,531.8 L291.2,529.2 L291.0,526.5 M237.5,739.0 L239.6,736.8 M208.8,717.1 L212.2,715.5 L215.9,715.9 M215.9,715.9 L217.7,717.7 L219.9,719.2 L221.6,721.3 L223.8,722.9 M223.8,722.9 L221.4,724.1 L219.9,726.2 L218.9,728.8 L216.7,730.2 M236.9,739.0 L234.2,737.6 L231.4,736.3 M231.4,736.3 L228.7,736.7 L226.2,738.5 L223.5,738.8 L220.6,738.5 M254.0,680.7 L254.2,677.7 L254.3,674.8 L255.4,672.0 M254.0,680.7 L252.1,682.4 L249.4,682.8 L247.4,684.3 M247.4,684.3 L245.1,682.0 L241.8,681.5 L239.0,680.0 M250.9,668.2 L252.9,670.3 L255.4,672.0 M250.9,668.2 L248.3,668.8 L246.0,670.1 L243.6,671.2 L241.9,673.6 L239.1,673.7 M239.1,673.7 L238.2,676.8 L239.0,680.0 M249.6,662.5 L250.9,665.2 L250.9,668.2 M264.5,670.0 L261.6,671.4 L258.5,671.3 L255.4,672.0 M230.9,666.6 L232.9,668.5 L234.6,670.6 L237.4,671.6 L239.1,673.7 M226.9,684.4 L230.9,686.9 M230.9,686.9 L233.6,685.9 L235.1,683.6 L237.5,682.3 L239.0,680.0 M278.2,687.2 L275.5,686.0 L272.5,685.1 L270.1,683.3 M270.1,683.3 L266.8,684.2 L264.7,687.1 L261.5,688.1 M261.5,688.1 L261.1,690.9 M282.0,686.2 L278.2,687.2 M268.3,672.4 L269.0,675.1 L268.6,678.0 L269.5,680.6 L270.1,683.3 M254.0,680.7 L256.0,682.5 L257.3,684.9 L259.1,686.8 L261.5,688.1 M261.1,690.9 L258.6,692.7 L255.5,693.6 L253.4,696.0 M266.5,705.3 L263.8,704.0 L260.8,704.7 L258.0,704.4 L255.3,703.4 M253.4,696.0 L253.7,698.6 L255.3,700.8 L255.3,703.4 M247.4,684.3 L247.3,687.5 L246.2,690.6 L246.4,693.9 M253.4,696.0 L249.6,696.0 L246.4,693.9 M233.9,631.4 L233.0,628.8 L231.5,626.5 L229.4,624.5 L227.7,622.3 L226.8,619.7 L225.3,617.4 M233.9,631.4 L231.7,632.9 L228.8,632.8 L226.6,634.3 L224.5,635.9 L221.6,635.9 L219.5,637.6 M219.5,637.6 L218.9,637.3 M218.9,637.3 L218.6,634.6 L217.0,632.1 L217.1,629.2 L216.8,626.5 L216.3,623.8 M225.3,617.4 L222.5,618.2 L221.0,620.9 L218.6,622.3 L216.3,623.8 M225.7,650.0 L225.4,647.0 L223.1,645.1 L222.6,642.2 L220.0,640.5 L219.5,637.6 M238.9,636.3 L236.5,632.4 M236.5,632.4 L233.9,631.4 M209.8,640.3 L212.7,639.1 L215.6,637.7 L218.9,637.3 M203.2,636.0 L204.5,633.4 L204.3,630.5 L204.1,627.5 L204.4,624.7 L205.8,622.0 M205.8,622.0 L208.4,622.3 L211.2,622.0 L213.7,623.3 L216.3,623.8 M190.0,633.4 L192.5,636.1 L195.7,638.1 M189.9,623.4 L192.3,621.3 L194.7,619.2 L197.7,618.1 M205.8,622.0 L203.9,619.8 M203.9,619.8 L200.7,619.2 L197.7,618.1 M197.7,618.1 L197.3,615.2 L195.1,612.9 L195.2,609.8 L193.3,607.5 L192.7,604.6 M225.8,615.4 L228.6,614.4 L231.5,614.1 L234.0,612.1 L236.7,611.0 L239.8,611.0 M225.8,615.4 L225.3,617.4 M236.5,632.4 L238.5,630.5 L240.4,628.5 L241.8,626.0 L243.0,623.5 L244.8,621.4 L246.2,619.0 M239.8,611.0 L241.0,613.3 L242.9,615.1 L244.8,616.8 L246.2,619.0 M302.8,587.1 L304.0,584.8 L305.1,582.5 L305.4,579.7 L306.3,577.3 L308.4,575.4 L309.5,573.1 M302.8,587.1 L304.6,589.0 L305.8,591.5 L308.2,592.9 M308.2,592.9 L310.7,591.2 L313.9,591.5 L316.2,589.3 L319.1,588.8 L321.8,587.7 M321.8,587.7 L320.5,585.2 L317.9,583.8 L317.7,580.6 L316.1,578.4 L314.5,576.3 L311.2,575.4 L310.4,572.6 M310.4,572.6 L309.5,573.1 M307.2,603.1 L307.7,600.6 L308.1,598.0 L308.8,595.5 L308.2,592.9 M322.4,587.8 L321.8,587.7 M314.2,566.0 L313.5,568.5 L312.4,570.8 L310.4,572.6 M292.9,563.2 L292.7,566.0 L294.3,568.5 L294.1,571.3 M294.1,571.3 L296.8,570.6 L299.4,571.0 L301.8,572.5 L304.4,572.5 L306.9,573.3 L309.5,573.1 M263.7,597.1 L261.9,595.0 L260.4,592.7 L258.3,590.9 L257.1,588.4 L255.0,586.6 M263.7,597.1 L260.8,598.2 L259.8,601.4 L257.2,602.8 M257.2,602.8 L254.6,603.0 L252.2,601.8 L249.7,601.8 L247.2,601.7 L244.7,600.9 M244.7,600.9 L245.5,597.9 L246.6,594.9 L247.8,592.0 L247.6,588.8 M247.6,588.8 L250.3,589.0 L252.7,588.0 L255.0,586.6 M230.2,594.1 L232.7,595.5 L234.4,598.1 L237.0,599.4 L240.0,600.1 L242.0,602.4 M230.2,594.1 L232.5,592.5 L232.7,589.5 L234.9,587.9 L236.4,585.8 L238.3,583.9 L239.0,581.2 M242.0,602.4 L244.7,600.9 M247.6,588.8 L245.7,586.6 L244.0,584.2 L240.5,583.8 L239.0,581.2 M294.1,571.3 L292.1,573.5 L290.4,576.0 M302.8,587.1 L300.2,588.1 L297.6,587.2 L295.1,587.1 M290.4,576.0 L292.5,578.4 L292.5,581.6 L294.8,583.9 L295.1,587.1 M223.8,722.9 L224.9,722.7 M231.4,736.3 L230.8,733.4 L229.0,730.7 L230.0,727.4 L228.5,724.6 M224.9,722.7 L228.5,724.6 M230.9,686.9 L231.8,690.8 M246.4,693.9 L243.2,695.5 L240.3,697.5 M231.8,690.8 L234.0,692.4 L236.5,693.5 L238.2,695.8 L240.3,697.5 M203.9,619.8 L206.0,618.0 L206.6,615.4 L207.6,613.1 L209.1,611.1 L210.3,608.8 L211.4,606.6 M192.7,604.6 L193.7,602.5 M193.7,602.5 L196.6,602.0 L199.1,600.3 L201.9,599.4 L204.6,598.3 L207.6,598.5 M207.6,598.5 L208.3,601.5 L211.2,603.4 L211.4,606.6 M230.2,594.1 L227.3,594.3 M225.8,615.4 L223.8,613.2 L222.7,610.4 M239.8,611.0 L240.7,608.2 L241.2,605.3 L242.0,602.4 M227.3,594.3 L225.7,596.8 L226.4,599.9 L225.8,602.6 L225.0,605.2 L223.5,607.7 L222.7,610.4 M222.7,610.4 L219.7,609.8 L217.0,608.6 L214.4,607.1 L211.4,606.6 M254.6,627.5 L253.0,625.1 L250.2,623.7 L249.2,620.6 L246.6,619.1 M254.6,627.5 L256.8,625.9 L259.3,625.1 L261.7,623.7 L264.4,623.5 M246.6,619.1 L248.7,617.3 L251.4,616.5 L253.3,614.6 L255.4,612.8 L258.2,612.3 M258.2,612.3 L260.9,614.4 L263.8,616.3 M263.8,616.3 L263.6,619.9 L264.4,623.5 M253.6,634.5 L253.3,630.9 L254.6,627.5 M270.1,628.3 L267.1,626.0 L264.4,623.5 M257.2,602.8 L258.5,605.8 L258.9,609.0 L258.2,612.3 M277.1,608.5 L278.2,610.9 L279.2,613.2 L278.8,616.0 L281.4,617.8 L281.2,620.6 M277.1,608.5 L274.7,609.5 L272.4,610.7 L270.6,612.5 L268.3,613.7 L266.3,615.4 L263.8,616.3 M255.0,586.6 L256.5,584.4 L257.4,582.1 L257.3,579.4 M239.0,581.2 L238.5,576.7 M238.5,576.7 L240.3,574.8 L242.7,573.7 L244.7,572.0 L247.1,571.0 L249.0,569.2 M257.3,579.4 L255.2,577.7 L254.6,574.8 L252.7,573.0 L250.1,571.7 L249.0,569.2 M270.3,551.3 L267.5,551.9 L265.9,554.2 L263.0,554.5 L261.4,557.1 L258.9,558.1 M258.8,558.1 L256.6,559.6 L254.3,560.9 L252.7,563.0 L250.4,564.3 M233.1,574.2 L235.4,576.3 L238.5,576.7 M250.4,564.3 L250.0,566.8 L249.0,569.2 M281.4,557.4 L280.8,560.1 L278.9,562.3 L278.1,564.9 L277.0,567.4 L276.9,570.3 M290.4,576.0 L286.7,577.0 L282.9,576.1 M276.9,570.3 L278.2,572.9 L280.2,575.0 L282.9,576.1 M258.9,558.1 L261.2,560.0 L262.3,562.7 L265.1,564.2 L266.0,567.1 L267.7,569.5 L269.9,571.4 M276.9,570.3 L273.3,570.3 L269.9,571.4 M257.3,579.4 L260.4,579.8 L263.1,578.2 L266.1,578.2 M269.9,571.4 L269.3,574.1 L266.7,575.6 L266.1,578.2 M290.0,602.0 L288.8,599.4 L289.2,596.6 L289.6,593.9 M290.0,602.0 L287.7,603.8 L284.6,603.9 L282.4,605.7 L279.5,606.1 L277.2,608.0 M289.6,593.9 L287.4,592.3 L285.1,590.7 L282.6,589.5 L280.3,588.1 L277.4,587.6 M277.2,608.0 L275.0,606.0 L273.3,603.6 L271.9,601.0 L270.0,598.8 L268.0,596.6 M268.0,596.6 L270.0,594.4 L271.6,592.0 L272.5,589.2 M272.5,589.2 L274.8,588.0 L277.4,587.6 M297.6,606.9 L294.6,606.0 L292.8,603.2 L290.0,602.0 M295.1,587.1 L292.9,589.1 L291.8,591.9 L289.6,593.9 M277.1,608.5 L277.2,608.0 M282.9,576.1 L282.7,578.8 L281.7,581.2 L280.1,583.2 L279.0,585.5 L277.4,587.6 M263.7,597.1 L268.0,596.6 M266.1,578.2 L267.9,580.1 L269.5,582.1 L270.6,584.4 L271.5,586.8 L272.5,589.2 M239.6,736.8 L240.3,733.8 L240.5,730.9 L239.6,727.9 L239.8,725.0 M225.6,697.2 L225.4,699.9 L226.5,702.4 L225.6,705.2 L226.9,707.7 M225.6,697.2 L222.4,697.8 L219.5,697.2 L216.7,695.4 L213.6,695.7 M211.9,701.2 L214.0,702.8 L216.2,704.2 L217.3,706.9 L219.6,708.2 M211.9,701.2 L212.9,696.4 M219.6,708.2 L223.2,707.4 L226.9,707.7 M212.9,696.4 L213.6,695.7 M216.0,686.8 L214.2,689.5 L214.8,692.9 L213.6,695.7 M231.8,690.8 L229.1,692.4 L227.7,695.1 L225.6,697.2 M203.8,707.6 L206.4,706.8 L207.6,704.0 L210.5,703.5 L211.9,701.2 M215.9,715.9 L216.7,713.1 L218.3,710.7 L219.6,708.2 M224.9,722.7 L226.1,720.1 L226.9,717.4 L228.1,714.8 L229.1,712.2 L229.6,709.4 M229.6,709.4 L226.9,707.7 M195.7,688.3 L198.3,689.0 L201.0,689.6 L202.8,692.2 L205.4,693.1 L207.9,694.2 L210.4,695.2 L212.9,696.4 M206.2,588.2 L206.5,591.1 L206.8,594.1 L208.5,596.6 M208.5,596.6 L210.9,595.2 L213.9,595.9 L216.3,594.1 L218.8,593.0 L221.6,593.1 L224.3,592.6 M224.3,592.6 L223.9,589.8 L222.2,587.3 L222.8,584.2 L220.0,582.1 L220.2,579.1 M187.5,589.1 L189.3,591.5 L190.4,594.2 L190.9,597.3 L192.7,599.7 L193.7,602.5 M207.6,598.5 L208.5,596.6 M227.3,594.3 L224.3,592.6 M232.5,709.2 L233.3,706.6 L236.2,705.6 L236.3,702.5 L238.6,700.9 L240.2,699.0 M232.5,709.2 L235.0,711.7 L237.7,714.0 M237.7,714.0 L240.5,714.5 L243.2,712.6 L246.1,713.8 L248.9,713.2 M240.2,699.0 L242.4,701.0 L244.8,702.7 L246.2,705.3 L247.6,708.0 L249.7,710.0 M249.7,710.0 L249.6,712.7 M249.6,712.7 L248.9,713.2 M240.3,697.5 L240.2,699.0 M229.6,709.4 L232.5,709.2 M236.9,722.8 L236.2,719.8 L238.2,717.0 L237.7,714.0 M255.3,703.4 L254.1,706.2 L250.8,707.2 L249.7,710.0" fill="none" stroke="#fbf1ea" stroke-width="1.1" stroke-linejoin="round"/>
<path d="M256.6,791.7 L254.4,789.3 L253.0,786.3 M253.9,760.1 L257.0,760.6 L260.1,761.9 L263.4,761.7 M263.4,761.7 L264.0,764.5 L262.9,767.1 L262.7,769.9 L262.7,772.6 L261.6,775.2 M261.6,775.2 L260.8,775.5 M253.0,786.3 L255.1,784.6 L255.9,781.8 L258.5,780.4 L259.4,777.7 L260.8,775.5 M317.9,687.1 L315.9,685.0 L313.7,683.1 L312.1,680.7 L309.7,678.9 L308.6,676.1 M317.9,687.1 L317.8,689.4 M317.8,689.4 L314.9,689.3 L312.8,691.7 L309.9,691.6 L307.6,693.3 L304.9,693.7 M304.9,693.7 L303.7,691.1 L301.7,689.3 L299.2,688.1 M299.2,688.1 L297.0,689.4 L294.7,690.6 L291.7,689.6 L289.5,691.1 M307.3,706.9 L306.4,709.5 L304.8,711.8 L304.2,714.4 L304.3,717.3 M307.3,706.9 L304.9,704.5 M304.9,704.5 L302.4,705.0 L299.8,705.5 L297.1,704.4 L294.6,705.5 M294.6,705.5 L293.5,708.0 L292.1,710.2 L292.2,713.2 L290.3,715.3 M304.3,717.3 L301.6,717.7 L299.7,720.0 L297.2,720.9 M297.2,720.9 L294.4,719.9 L291.6,718.9 M290.3,715.3 L291.6,718.9 M317.8,689.4 L320.0,690.9 L321.2,693.1 L322.2,695.7 L323.8,697.6 L326.0,699.1 M322.0,707.8 L319.0,707.7 L316.1,706.9 L313.2,707.4 L310.2,707.4 L307.3,706.9 M304.9,693.7 L304.8,696.4 L305.6,699.1 L305.3,701.8 L304.9,704.5 M288.9,699.9 L290.5,702.1 L292.3,704.1 L294.6,705.5 M288.9,699.9 L288.1,696.9 L289.8,694.1 L289.5,691.1 M288.9,699.9 L286.2,700.5 L284.2,702.4 L282.2,704.3 L279.5,704.7 M279.5,704.7 L279.9,708.2 L281.0,711.6 M281.0,711.6 L284.3,712.3 L287.1,714.3 L290.3,715.3 M287.1,736.4 L283.8,736.8 L281.0,739.1 L277.7,739.5 M287.1,736.4 L291.1,738.3 M291.1,738.3 L291.9,740.7 L293.4,742.8 L294.2,745.2 M294.2,745.2 L292.8,747.7 L290.5,749.6 L290.1,752.8 L287.9,754.8 M277.7,739.5 L276.9,742.3 L277.1,745.1 L277.8,747.8 L278.3,750.5 M278.3,750.5 L281.5,751.2 L283.6,753.9 L286.5,755.1 M287.9,754.8 L286.5,755.1 M285.1,725.8 L285.4,728.5 L285.5,731.2 L287.2,733.6 L287.1,736.4 M285.1,725.8 L288.0,724.1 L290.1,721.7 L291.6,718.9 M299.5,730.9 L298.0,733.4 L295.6,734.9 L293.9,737.2 L291.1,738.3 M299.5,730.9 L299.6,728.2 L299.2,725.7 L298.8,723.1 L297.2,720.9 M267.4,756.1 L270.2,755.0 L273.0,753.7 L275.8,752.3 L278.3,750.5 M267.4,756.1 L266.2,753.4 L265.6,750.4 L263.4,748.2 M263.4,748.2 L265.2,746.1 L266.3,743.5 L268.2,741.4 L268.9,738.5 L271.4,736.9 M271.4,736.9 L274.3,738.6 L277.7,739.5 M267.4,756.1 L267.0,758.3 M267.0,758.3 L269.2,760.4 L271.9,761.5 L273.8,764.0 L276.4,765.5 L279.1,766.7 M279.1,766.7 L280.3,764.2 L281.3,761.6 L282.9,759.3 L284.4,757.0 L286.5,755.1 M297.2,764.2 L295.4,766.5 L293.1,768.3 L290.3,769.5 L288.9,772.1 M297.2,764.2 L295.0,762.7 L294.1,759.8 L291.9,758.3 L290.3,756.1 L287.9,754.8 M288.9,772.1 L285.7,771.3 L282.4,771.0 L279.7,768.9 M279.1,766.7 L279.7,768.9 M291.2,779.7 L291.0,777.0 L289.1,774.8 L288.9,772.1 M297.2,764.2 L300.8,764.3 M280.4,785.1 L278.0,783.9 L277.3,781.1 L275.3,779.5 L273.2,778.0 M279.7,795.4 L277.0,795.6 L274.4,795.2 L272.0,793.4 L269.2,794.5 L266.7,793.6 M266.7,793.6 L266.2,793.0 M266.2,793.0 L267.1,790.2 L266.3,787.2 L268.2,784.5 L267.1,781.4 L268.4,778.7 M268.4,778.7 L273.2,778.0 M279.7,768.9 L278.0,771.2 L277.3,774.0 L274.8,775.6 L273.2,778.0 M256.6,791.7 L259.7,792.9 L263.1,791.7 L266.2,793.0 M261.6,775.2 L264.1,775.9 L265.9,778.0 L268.4,778.7 M267.0,758.3 L263.4,761.7 M325.9,678.1 L328.4,678.0 L331.0,677.8 M317.9,687.1 L319.8,684.8 L321.8,682.6 L324.6,681.0 L325.9,678.1 M285.1,725.8 L282.5,724.6 L279.6,724.4 L277.1,722.8 L274.3,722.3 M271.4,736.9 L268.9,734.1 L267.9,730.4 M274.3,722.3 L272.4,724.1 L271.0,726.3 L269.3,728.3 L267.9,730.4 M281.0,711.6 L279.4,713.6 L278.0,715.9 L275.4,717.1 L274.0,719.4 M274.3,722.3 L274.0,719.4 M304.3,717.3 L306.8,718.3 L307.9,721.0 L310.1,722.4 L312.7,723.4 L313.5,726.3 L315.8,727.7 M317.8,727.5 L315.8,727.7 M299.5,730.9 L302.6,731.0 L305.4,732.7 L308.5,732.7 M315.8,727.7 L313.4,729.4 L310.9,731.0 L308.5,732.7 M298.1,746.2 L300.5,745.0 L303.1,744.3 L305.8,743.8 L307.8,741.6 M298.1,746.2 L299.2,748.9 L302.2,750.4 L303.1,753.3 L305.2,755.3 L306.3,758.0 M309.4,756.4 L309.6,753.6 L310.8,751.2 L312.0,748.8 L313.5,746.5 M307.8,741.6 L309.1,744.0 L311.3,745.3 L313.5,746.5 M294.2,745.2 L298.1,746.2 M308.5,732.7 L307.5,735.6 L307.6,738.6 L307.8,741.6 M320.0,745.3 L316.9,746.3 L313.5,746.5 M263.4,748.2 L260.6,747.9 L257.8,747.6 L255.5,745.7 M267.9,730.4 L264.9,729.9 M264.9,729.9 L262.8,731.7 L261.4,734.4 L258.4,735.2 L256.9,737.8 L254.6,739.4 M255.5,745.7 L255.7,742.5 L254.6,739.4 M255.5,745.7 L252.3,747.2 L249.8,749.7 M249.8,749.7 L247.2,748.7 L244.5,749.7 M254.6,739.4 L252.2,738.4 L250.8,735.9 L248.6,734.6 M248.6,734.6 L245.9,736.3 L242.4,735.1 L239.6,736.8 M259.3,725.3 L261.5,728.2 L264.9,729.9 M259.3,725.3 L256.7,726.8 L253.5,726.3 L250.9,727.7 M248.6,734.6 L250.4,731.4 L250.9,727.7 M272.6,701.0 L269.4,701.8 M272.6,701.0 L273.7,698.2 L274.0,695.1 L275.0,692.3 L277.4,690.1 L278.2,687.2 M269.4,701.8 L267.6,699.7 L265.9,697.5 L264.1,695.5 L262.2,693.5 L261.1,690.9 M279.5,704.7 L277.7,702.5 L275.3,701.5 L272.6,701.0 M259.3,725.3 L258.2,722.6 L259.4,719.6 L258.1,716.9 M274.0,719.4 L271.3,718.2 L269.2,716.3 L267.9,713.6 L265.8,711.6 M265.8,711.6 L263.5,713.7 L260.8,715.3 L258.1,716.9 M269.4,701.8 L266.5,705.3 M265.8,711.6 L266.1,708.5 L266.5,705.3 M250.9,727.7 L248.8,725.3 L246.3,723.3 M246.3,723.3 L243.3,725.0 L239.8,725.0 M228.5,724.6 L231.1,723.1 L233.9,722.6 L236.9,722.8 M239.8,725.0 L236.9,722.8 M246.3,723.3 L246.0,720.5 L247.0,718.1 L247.9,715.6 L248.9,713.2 M258.1,716.9 L255.7,714.6 L252.8,713.3 L249.6,712.7" fill="none" stroke="#f1d5c2" stroke-width="1.1" stroke-linejoin="round"/>
</g>
<g fill="none" stroke="#777" stroke-width="1.5" stroke-linejoin="round" stroke-linecap="round">
<path d="M209.0,189.0 L211.7,188.9 L214.3,188.3 L216.8,187.5 L219.7,185.5 L222.6,183.6 L221.5,180.4 L221.0,177.0 L222.8,174.5 L224.5,172.0 L227.0,170.9 L229.6,170.3 L232.0,169.0 L234.6,168.9 L237.1,169.1 L239.7,169.3 L242.3,169.7 L244.9,169.4 L247.4,169.2 L250.0,169.5 L252.9,170.3 L255.8,170.6 L258.8,170.7 L261.7,171.4 L264.3,171.9 L266.9,171.9 L269.5,171.4 L271.9,173.0 L274.5,174.4 L277.3,175.3 L281.2,177.3 L284.0,177.7 L286.7,178.6"/>
<path d="M216.8,187.5 L217.2,190.1 L216.4,192.7 L216.8,195.3 L218.5,197.9 L220.9,200.0 L222.6,202.6 L224.5,205.0 L225.8,207.6 L227.0,210.3 L228.4,212.9 L230.9,214.5 L233.8,215.1 L236.2,216.8 L237.9,219.1 L238.4,222.1 L240.0,224.5 L242.1,227.4 L244.0,230.4 L244.7,233.4 L246.0,236.2 L249.2,237.6 L251.8,240.0 L255.1,239.9 L258.3,240.2 L261.6,240.0 L264.4,240.2 L267.0,241.0"/>
<path d="M296.8,212.3 L294.2,213.6 L292.0,215.4 L290.0,217.5 L287.0,217.8 L284.0,217.6 L281.0,217.0 L278.4,217.1 L275.9,217.7 L273.5,218.3 L271.0,219.0 L270.0,222.1 L268.6,225.0 L267.5,228.0 L266.8,230.5 L266.1,233.1 L265.6,235.7 L266.7,238.3 L267.0,241.0"/>
<path d="M264.5,241.4 L267.0,242.7 L269.2,244.5 L271.6,246.0 L270.2,248.4 L268.4,250.6 L266.9,253.0 L267.4,256.6 L268.1,260.1 L270.7,262.1 L272.7,264.7 L274.4,262.8 L277.0,262.1 L278.7,260.1 L280.9,258.9 L283.0,260.2 L284.5,262.5 L286.8,263.6 L289.5,265.1 L292.0,267.0 L294.9,268.2 L292.6,270.0 L290.3,271.8 L292.5,273.7 L294.9,275.3 L297.4,276.5 L299.5,278.5 L301.9,279.9 L304.5,281.4 L307.4,282.3 L310.1,283.4 L313.2,284.5 L316.3,285.2 L319.5,285.8 L320.8,282.6 L323.0,279.9 L324.0,282.5"/>
<path d="M175.9,248.9 L175.9,253.0 L179.6,252.7 L183.2,253.0 L186.0,252.9 L188.7,253.6 L191.5,254.1 L194.5,254.5 L197.4,255.1 L200.2,256.2 L203.0,257.0 L205.8,258.7 L209.0,259.6 L211.7,259.3 L214.3,258.6 L216.8,257.7 L219.3,256.7 L221.9,256.4 L224.5,255.7 L227.0,253.6 L229.5,251.5 L232.3,249.9 L235.1,248.5 L238.2,248.0 L239.9,245.8 L242.0,244.0 L243.8,241.6 L245.0,239.0 L246.0,236.2"/>
<path d="M191.5,254.1 L190.3,256.6 L189.4,259.3 L189.7,262.0 L190.1,264.6 L190.5,267.2 L191.5,269.7 L194.0,270.4 L196.4,271.0 L199.1,270.4 L201.5,271.3 L204.0,271.8 L206.5,272.0 L209.0,271.3 L209.5,273.9 L209.8,276.5 L210.9,279.0 L212.2,281.2 L212.8,283.7 L213.9,285.9 L214.5,288.4 L215.4,290.7 L216.4,293.0 L218.7,294.6 L220.5,296.7 L222.4,298.7 L224.2,300.8 L224.6,303.5 L225.7,306.1 L226.8,308.6 L229.2,306.6 L232.1,305.4 L234.5,303.4 L237.1,303.0 L239.8,303.5 L242.4,303.0 L245.0,303.4 L246.2,305.9 L245.9,308.7 L247.2,311.1 L247.5,313.8 L250.0,312.8 L252.9,313.0 L255.5,312.2 L258.0,311.2"/>
<path d="M267.0,241.0 L264.5,242.5 L262.1,244.2 L260.0,246.3 L257.7,248.0 L257.0,250.5 L256.3,253.1 L254.6,255.2 L253.8,257.7 L253.2,260.9 L252.2,264.1 L251.8,267.4 L252.4,270.3 L252.5,273.3 L253.5,276.1 L253.8,279.0 L253.5,281.6 L253.5,284.3 L253.8,286.9 L255.8,289.4 L257.6,292.1 L259.6,294.7 L260.1,297.3 L261.3,299.8 L261.6,302.5 L260.3,305.4 L258.9,308.2 L258.0,311.2"/>
<path d="M258.0,311.2 L258.2,313.8 L258.4,316.4 L258.0,319.0 L259.5,321.7 L261.7,323.9 L263.0,326.8 L263.0,329.4 L263.1,331.9 L263.0,334.5 L265.9,335.3 L268.3,337.0 L270.9,336.6 L273.4,335.7 L276.0,335.8 L278.7,336.7 L281.4,337.3 L284.0,338.3 L286.5,339.7 L289.1,340.5 L291.6,341.8 L294.3,342.3"/>
<path d="M276.0,335.8 L273.5,337.0 L270.7,337.2 L268.4,339.0 L265.6,339.3 L263.3,340.9 L260.7,341.6 L258.0,342.3 L255.5,343.6 L253.9,346.0 L251.4,347.4 L249.4,349.3 L247.2,351.0 L245.0,352.7 L243.8,354.9 L243.0,357.3 L241.2,359.2 L240.8,361.8 L239.2,363.8 L239.9,366.5 L240.6,369.2 L240.8,371.9 L241.0,374.7 L244.2,376.2 L247.3,377.8 L250.5,377.7 L253.5,376.6 L256.6,376.2 L257.8,379.2 L258.2,382.5 L255.7,383.8 L252.8,384.1 L250.4,385.6 L249.7,388.2 L247.9,390.2 L247.0,392.7 L245.7,395.0 L245.8,397.5 L246.5,399.9 L246.5,402.5 L247.0,404.9 L247.3,407.4 L242.6,405.8 L239.9,405.3 L237.2,404.6 L234.4,404.6 L231.7,404.3 L228.6,407.4 L227.0,409.6 L225.2,411.5 L222.6,412.7 L221.1,414.9 L219.2,416.8 L214.5,415.2 L216.7,413.3 L219.2,412.0 L220.3,409.6 L220.5,407.1 L221.3,404.6 L222.1,402.2 L222.3,399.6 L221.3,396.6 L220.8,393.4 L218.0,392.8 L215.5,391.4 L212.5,391.5 L209.9,390.3 L208.6,387.8 L206.8,385.6 L203.7,386.5 L200.5,386.4 L197.4,387.1 L196.9,389.9 L196.3,392.7 L196.1,395.5 L196.1,398.4 L195.8,401.2 L197.3,403.4 L198.5,405.7 L199.3,408.2 L200.5,410.5 L200.5,413.2 L201.0,415.9 L200.1,418.7 L200.5,421.4 L198.2,423.3 L195.7,425.1 L193.7,427.5 L191.2,429.2 L189.9,431.9 L188.5,434.7 L186.5,437.0"/>
<path d="M108.0,395.6 L110.6,395.6 L113.2,395.5 L115.8,395.2 L118.4,396.0 L121.0,395.1 L123.6,395.6 L126.2,396.0 L128.8,395.1 L131.4,395.7 L134.0,395.6 L136.6,396.4 L139.3,396.4 L141.8,397.4 L144.3,398.4 L147.0,398.8 L149.5,399.7 L152.2,399.8 L154.7,400.8 L156.7,403.4 L158.6,406.0 L160.0,409.0 L163.1,412.0 L164.4,414.2 L165.2,416.6 L166.8,418.6 L167.9,420.9 L169.4,423.0 L171.5,424.5 L173.4,426.3 L175.6,427.7 L178.4,428.9 L180.9,430.6 L183.4,432.3 L184.8,434.8 L186.5,437.0"/>
<path d="M186.5,437.0 L187.2,440.1 L188.0,443.2 L186.5,445.3 L184.9,447.3 L183.4,449.5 L180.3,451.0 L183.4,454.2 L182.1,456.7 L180.3,458.8 L180.3,463.5 L182.8,464.3 L185.4,464.8 L188.0,465.0"/>
<path d="M180.3,463.5 L178.0,465.3 L175.7,467.0 L177.3,468.9 L178.7,471.1 L180.7,472.6 L182.3,474.5 L184.0,476.4 L181.4,477.6 L179.0,479.3 L176.2,480.3 L173.6,481.6 L175.7,485.7 L174.2,488.4 L172.7,491.1 L171.6,494.0 L169.8,496.4 L167.6,498.4 L165.3,500.3 L163.5,502.2 L160.9,503.1 L158.9,504.8 L157.0,506.5 L155.1,508.4 L152.4,509.1 L150.5,511.0"/>
<path d="M188.0,465.0 L190.1,467.0 L192.1,469.2 L194.2,471.3 L196.8,473.0 L198.6,475.3 L201.2,475.5 L203.5,476.6 L205.9,477.2 L208.2,478.4 L210.6,479.0 L213.1,479.5 L216.0,480.0 L218.9,480.4 L221.8,480.9 L224.8,480.8 L227.7,481.6 L229.8,483.6 L231.8,485.7 L234.5,484.6 L237.4,484.7 L240.1,483.6 L241.3,481.2 L243.5,479.7 L244.5,477.1 L246.4,475.3 L248.9,474.7 L251.3,473.5 L253.8,472.7 L256.4,472.4 L258.8,471.2 L261.3,474.0 L263.0,477.4 L265.4,476.5 L268.1,477.0 L270.5,476.1 L272.9,475.3 L275.5,475.3 L278.0,476.0 L280.5,476.2 L283.1,475.4 L285.6,475.9 L288.1,475.8 L290.6,476.4 L293.1,475.5 L295.8,475.2 L298.3,474.1 L301.0,473.8 L303.8,474.4 L306.7,474.2 L309.5,475.1 L312.4,474.4 L315.4,474.8 L318.3,474.1 L321.3,473.8 L324.2,473.6 L327.1,475.9 L330.1,478.0 L332.3,480.2 L334.5,482.5"/>
<path d="M294.3,342.3 L297.1,344.7 L299.5,347.5 L299.3,350.0 L299.3,352.5 L299.5,355.0 L297.3,355.0 L295.6,358.1 L294.7,361.5 L293.4,364.9 L291.4,368.0 L288.7,369.6 L286.0,371.0 L283.0,371.9 L281.6,374.3 L279.7,376.4 L281.1,378.9 L283.0,381.0 L282.3,384.2 L280.0,387.1 L277.1,389.4 L277.7,392.2 L278.4,395.0 L280.1,397.1 L281.3,399.5 L283.5,400.9 L285.5,402.6 L287.3,404.5 L289.5,405.8 L291.7,407.3 L292.1,404.5 L293.2,402.0 L294.3,399.5 L292.8,397.2 L292.3,394.3 L290.8,392.0 L289.8,389.6 L288.2,387.5 L287.7,384.8 L286.8,382.2 L285.6,379.7 L288.4,378.6 L291.0,377.0 L293.9,379.4 L297.3,381.0 L299.8,382.3 L302.5,383.0 L305.7,382.4 L309.0,382.3 L312.2,383.0 L315.5,383.0 L318.0,379.7 L320.5,378.8 L323.1,378.1 L325.5,377.0 L328.0,376.0 L328.9,378.6 L329.9,381.3 L330.6,384.0 L333.9,383.9 L337.1,383.8 L340.4,384.0 L343.0,383.6 L345.6,384.4 L348.2,384.3 L350.8,384.5 L353.4,384.0 L356.0,384.8 L358.6,385.3 L361.1,386.1 L363.8,386.5 L366.6,387.4 L368.9,389.3 L371.6,390.3 L374.2,391.7 L376.7,392.4 L379.0,393.5 L381.1,394.8 L383.6,395.6 L385.8,396.9 L386.1,399.5 L386.1,402.1 L386.6,404.7 L387.1,407.3 L386.9,409.9 L387.1,412.5"/>
<path d="M387.1,412.5 L384.3,413.2 L381.4,412.8 L378.5,413.1 L375.7,413.0 L372.9,414.0 L370.0,414.0 L367.4,414.4 L364.7,414.1 L362.1,414.4 L359.5,414.7 L359.2,417.7 L358.3,420.6 L358.0,423.6 L360.4,424.7 L362.6,426.2 L365.3,426.8 L367.6,428.0 L369.8,429.5 L370.1,432.5 L371.3,435.3 L369.7,437.5 L368.0,439.6 L365.8,441.3 L364.1,443.5 L362.5,445.7 L360.0,447.2 L357.2,448.0 L354.4,449.0 L352.0,450.7 L349.2,451.5 L347.1,453.9 L345.6,456.7 L343.3,458.9 L342.5,461.4 L341.8,464.0 L340.4,466.3 L340.0,469.0 L338.4,471.3 L338.3,474.1 L337.4,476.6 L335.5,479.3 L334.5,482.5"/>
<path d="M413.1,322.9 L413.5,326.1 L415.3,328.8 L415.7,332.0 L417.1,334.2 L419.1,335.9 L420.0,338.5 L422.4,339.9 L423.5,342.3 L420.7,343.7 L418.2,345.6 L415.7,347.5 L416.0,350.2 L416.5,352.9 L417.9,355.3 L418.3,358.0 L420.5,359.4 L422.3,361.3 L424.7,362.4 L426.8,364.0 L428.7,365.7 L426.2,367.0 L423.4,367.5 L420.7,368.5 L418.2,369.6 L415.7,371.0 L413.8,372.8 L411.3,373.7 L409.5,375.6 L407.6,377.4 L405.3,378.7 L403.6,381.3 L401.9,383.9 L400.1,386.5 L401.2,389.0 L401.3,391.7 L402.2,394.3 L402.7,396.9"/>
<path d="M387.1,412.5 L389.8,413.6 L392.3,415.0 L394.9,412.5 L397.5,410.0 L398.5,407.3 L399.5,404.7 L400.5,402.1 L401.8,399.6 L402.7,396.9"/>
<path d="M402.7,396.9 L405.3,397.4 L407.8,398.3 L410.4,399.0 L413.1,398.8 L415.7,399.5 L418.2,400.3 L420.9,400.7 L423.5,401.2 L426.2,401.1 L428.7,402.0 L431.2,401.0 L433.9,400.9 L436.6,400.8 L439.0,399.7 L441.7,399.5 L444.3,398.6 L446.8,397.6 L449.6,397.3 L452.3,396.5 L454.7,395.1 L457.3,394.3 L459.8,395.4 L462.6,394.9 L465.0,396.2 L467.6,396.8 L470.3,396.9 L472.8,395.9 L475.5,395.8 L478.0,395.0 L480.6,394.3 L483.0,392.6 L484.5,390.0 L486.9,388.2 L489.2,386.4 L491.0,384.0 L493.7,383.1 L496.1,381.7 L498.6,380.4 L501.6,380.2 L504.0,378.7 L506.6,380.0 L509.2,381.3"/>
<path d="M514.4,345.3 L513.9,347.9 L512.5,350.2 L511.8,352.7 L510.5,355.7 L509.1,358.7 L507.3,361.4 L508.0,364.7 L508.6,368.0 L509.9,370.5 L511.2,373.0 L509.3,375.0 L507.3,377.0 L504.0,378.7"/>
<path d="M402.7,396.9 L402.5,399.5 L402.4,402.1 L402.7,404.8 L402.7,407.4 L402.7,410.0 L404.6,412.5 L405.8,415.4 L408.0,417.7 L410.0,420.0 L413.0,421.2 L415.7,422.9 L416.4,425.3 L416.7,427.9 L417.0,430.4 L417.1,432.9 L419.0,434.5 L420.9,436.3 L422.8,437.9 L424.3,440.0 L423.0,442.9 L421.4,445.7 L419.4,448.0 L417.1,450.0 L415.7,452.9"/>
<path d="M509.2,381.3 L508.8,383.9 L509.0,386.5 L508.9,389.1 L509.2,391.7 L507.7,394.1 L507.4,397.0 L505.9,399.4 L504.6,401.9 L504.0,404.7 L501.6,406.1 L499.6,408.1 L497.7,410.1 L495.4,411.6 L492.8,412.9 L491.0,415.0 L488.8,416.6 L486.3,417.7 L483.6,418.3 L481.4,420.0 L478.6,421.0 L475.8,422.2 L472.9,422.9 L470.1,424.0 L467.0,424.3 L464.3,425.7 L462.3,427.3 L460.0,428.6 L460.1,431.5 L460.0,434.3 L462.8,435.8 L465.7,437.1 L468.5,438.4 L471.4,439.0 L474.3,440.0 L476.1,442.1 L477.1,444.8 L478.6,447.1 L481.1,448.9 L482.9,451.4 L484.0,454.1 L484.3,457.1 L484.3,458.6"/>
<path d="M415.7,452.9 L418.6,453.0 L421.4,454.0 L424.3,454.3 L427.2,454.0 L430.0,453.3 L432.8,452.5 L435.8,452.7 L438.6,452.2 L441.4,451.4 L441.4,454.3 L441.4,457.1 L441.4,460.0 L444.4,461.2 L447.1,462.9 L449.5,462.0 L452.1,462.0 L454.6,461.9 L457.1,461.4 L461.4,462.9 L461.3,460.3 L462.5,457.9 L462.2,455.4 L462.9,452.9 L464.3,450.0 L466.4,451.7 L468.5,453.4 L470.0,455.7 L472.8,456.7 L475.7,456.9 L478.6,457.1 L481.3,458.2 L484.3,458.6 L486.4,460.8 L488.6,462.9 L491.1,464.6 L492.9,467.1 L494.6,469.2 L495.9,471.6 L497.4,473.8"/>
<path d="M415.7,452.9 L413.4,454.2 L412.0,456.6 L410.0,458.4 L407.3,459.3 L405.7,461.4 L405.3,464.0 L404.7,466.5 L403.4,468.9 L402.9,471.4 L401.6,474.3 L399.7,476.9 L398.6,480.0 L396.0,484.2 L393.5,485.8 L390.6,486.3 L388.3,488.3 L385.6,489.3 L382.9,490.3 L380.5,492.0 L380.0,494.6 L379.4,497.1 L379.3,499.7 L379.7,502.4 L378.5,504.9 L378.5,507.5 L378.5,510.1 L378.0,512.7 L380.7,515.1 L383.0,518.0 L380.5,517.1 L377.8,516.8 L375.3,515.9 L372.7,515.5 L370.0,515.3 L368.3,517.7 L367.5,520.5 L368.2,523.1 L368.8,525.8 L369.6,528.3 L370.7,530.8 L370.7,533.6 L372.2,536.0 L372.7,538.7 L371.7,541.2 L370.9,543.7 L370.5,546.4 L370.0,549.0 L367.9,551.1 L365.1,552.2 L362.9,554.1 L360.9,556.2 L358.4,557.7 L358.4,560.4 L357.4,562.9 L356.9,565.5 L355.3,570.0"/>
<path d="M334.5,482.5 L333.5,485.4 L333.0,488.3 L333.0,491.3 L332.9,494.3 L334.2,497.1 L334.0,500.2 L334.5,503.1 L333.6,506.1 L332.5,509.0 L331.5,512.0 L331.9,514.7 L331.8,517.3 L331.5,520.0 L333.2,522.1 L335.1,524.1 L336.6,526.5 L339.7,529.6 L337.7,531.2 L335.9,533.1 L333.5,534.3 L332.3,536.9 L330.2,538.8 L328.9,541.3 L327.3,543.6 L327.3,548.3"/>
<path d="M261.8,553.0 L263.6,551.1 L265.2,549.1 L266.5,546.8 L266.9,543.6 L268.0,540.5 L269.6,537.6 L269.8,534.2 L271.2,531.2 L273.9,529.8 L276.2,527.7 L279.0,526.5 L279.8,523.4 L279.6,520.2 L280.5,517.1 L282.0,520.3 L284.7,520.9 L287.5,521.3 L290.2,521.7 L293.0,521.8 L295.4,522.9 L297.5,524.5 L299.7,525.8 L302.3,526.5 L305.4,525.8 L308.6,526.0 L311.7,525.7 L314.6,528.1 L318.0,529.6 L318.2,532.8 L319.1,535.9 L319.5,539.0 L320.5,542.0 L321.0,545.2 L323.9,547.2 L327.3,548.3 L329.9,549.5 L331.8,551.6 L334.1,553.3 L336.6,554.5 L338.5,556.4 L339.9,558.6 L341.3,560.8 L343.0,562.7 L344.4,565.0 L346.0,567.0 L349.1,567.9 L352.1,569.4 L355.3,570.0"/>
<path d="M355.3,570.0 L356.2,572.4 L356.9,574.8 L354.2,576.8 L352.2,579.5 L349.0,580.2 L346.1,581.9 L342.9,582.6 L340.4,583.4 L338.1,584.8 L336.1,586.6 L333.5,587.3 L330.2,588.4 L327.3,590.4 L325.1,592.2 L322.6,593.5 L319.5,595.0 L317.3,596.8 L314.8,598.2 L311.7,599.3 L308.6,600.2 L305.5,601.3 L304.2,603.9 L302.3,606.0 L299.6,606.8 L297.0,607.7 L294.5,609.1 L291.4,610.1 L288.2,610.9 L285.2,612.2 L282.0,613.6 L279.0,615.3 L276.2,615.1 L273.5,616.1 L270.8,616.1 L268.0,616.1 L265.4,615.9 L262.8,616.0 L260.3,615.3"/>
<path d="M261.8,553.0 L261.5,556.1 L261.8,559.2 L262.9,562.3 L263.4,565.5 L263.2,568.1 L262.2,570.6 L261.8,573.2 L263.1,575.4 L263.4,578.0 L261.6,579.9 L260.0,582.0 L258.7,584.2 L258.4,587.4 L257.1,590.4 L256.9,593.1 L257.1,595.8 L257.0,598.6 L257.1,601.3 L257.1,604.0 L257.6,606.6 L258.7,609.1 L259.6,612.2 L260.3,615.3"/>
<path d="M261.8,553.0 L259.3,553.8 L256.9,554.7 L254.4,555.5 L252.2,556.9 L250.8,559.2 L249.3,561.4 L246.9,562.9 L245.7,565.3 L243.9,567.3 L241.9,569.0 L239.5,570.1 L237.9,572.2 L235.6,573.5 L232.6,574.5 L230.1,576.3 L227.3,577.7 L224.8,578.7 L222.0,578.2 L219.5,579.1 L216.9,579.7 L215.1,581.6 L212.5,582.6 L210.5,584.2 L208.6,586.0 L205.7,587.1 L203.0,588.6 L200.3,590.1 L197.5,590.6 L195.3,592.7 L192.3,592.8 L189.9,594.3 L187.7,596.3 L185.9,598.6 L183.6,600.5 L184.9,602.7 L186.5,604.6 L187.8,606.8 L187.6,609.9 L187.8,613.0 L186.1,614.9 L184.7,617.1 L183.5,619.5 L181.6,621.3 L178.8,621.4 L176.0,621.5 L173.2,621.3"/>
<path d="M181.6,621.3 L183.9,621.6 L184.3,624.2 L183.9,626.8 L184.8,629.3 L185.0,632.0 L184.3,635.1 L183.9,638.2 L180.8,641.3 L179.7,642.3"/>
<path d="M355.3,570.0 L357.7,569.1 L359.9,568.0 L362.3,567.3 L364.7,566.3 L366.5,564.5 L368.8,563.4 L370.9,562.0 L373.1,560.7 L375.3,559.5 L376.7,557.1 L376.7,554.2 L378.0,551.7 L380.6,551.6 L383.1,551.4 L385.7,551.5 L388.3,551.7 L390.6,550.0 L392.1,547.5 L394.2,545.6 L396.0,543.4 L398.2,541.6 L400.0,539.4 L403.2,538.0 L406.5,536.8 L408.4,538.5 L409.8,540.6 L411.5,542.5 L413.0,544.5 L416.2,545.5 L419.5,545.8 L421.7,544.6 L423.7,543.0 L426.0,542.0 L428.3,540.4 L430.2,538.4 L432.5,536.8 L435.0,535.0"/>
<path d="M260.3,615.3 L257.2,615.5 L254.1,616.0 L250.9,616.0 L249.6,619.6 L250.7,621.9 L250.9,624.5 L250.1,626.9 L249.6,629.4 L252.1,633.1 L249.6,636.8 L246.6,637.1 L243.5,636.8 L243.5,641.7 L244.4,645.4 L244.7,649.1 L246.6,650.9 L248.4,652.8 L247.6,655.2 L247.2,657.7 L247.1,660.6 L248.0,663.4 L248.4,666.3 L249.6,670.0 L252.2,669.9 L254.5,668.7 L257.5,669.9 L260.7,670.0 L263.0,667.9 L265.6,666.3 L268.5,664.6 L271.7,663.8 L273.8,666.0 L275.4,668.7 L275.6,671.2 L276.6,673.6 L279.0,674.9 L281.5,676.1 L281.9,678.7 L282.7,681.1 L284.0,683.4 L283.2,685.8 L282.8,688.3 L279.1,690.8"/>
<path d="M247.5,657.0 L249.5,655.3 L252.0,654.5 L254.5,654.3 L257.0,655.0 L260.5,658.0 L259.9,660.5 L259.0,663.0 L259.8,665.6 L261.0,668.0 L258.6,669.1 L256.0,669.5 L252.9,669.2 L250.0,668.0"/>
<path d="M282.8,688.3 L283.8,690.9 L284.2,693.6 L284.4,696.4 L285.9,693.7 L288.2,691.4 L289.5,688.6 L292.1,687.3 L294.7,686.0 L297.4,685.6 L299.8,684.3 L302.5,684.1 L305.1,683.4 L307.8,682.7 L310.3,681.3 L313.1,680.7 L315.7,679.6 L318.1,678.2 L320.6,676.8 L323.1,675.1 L325.9,674.3"/>
<path d="M279.1,690.8 L276.0,690.1 L272.9,689.6 L269.8,691.3 L266.8,693.3 L264.7,694.9 L263.1,697.0 L262.3,699.0 L263.2,702.2 L263.6,705.5 L262.2,708.1 L260.7,710.7 L259.8,713.6 L256.6,713.8 L253.6,714.8 L251.3,716.0 L248.7,716.3 L246.3,717.3 L243.7,718.4 L241.3,719.8 L238.2,719.8 L235.2,719.8 L234.0,721.0"/>
<path d="M199.6,692.8 L202.0,694.5 L204.5,696.1 L207.0,697.7 L208.6,699.8 L210.7,701.3 L211.9,705.0 L214.1,707.0 L216.6,708.7 L219.3,710.0 L221.8,711.1 L223.9,712.8 L226.6,713.6 L229.7,715.4 L232.8,717.3 L234.0,721.0 L231.5,724.7 L233.5,726.3 L235.2,728.3 L238.4,729.1 L241.3,730.8 L243.8,728.3"/>
<path d="M243.8,728.3 L241.3,730.0 L242.8,733.2 L244.4,736.3 L244.5,739.1 L244.9,741.9 L245.5,744.6 L245.6,747.8 L246.5,750.9 L249.6,754.0 L252.2,753.3 L254.8,753.0 L254.7,755.8 L255.5,758.5 L255.9,761.3 L254.9,763.7 L254.2,766.1 L253.8,768.6 L254.4,771.4 L255.9,773.8 L255.1,777.0 L253.8,780.0 L253.6,782.8 L252.9,785.6 L252.8,788.4 L253.2,791.6 L253.8,794.7 L251.7,798.8 L252.9,801.1 L254.6,802.9 L255.9,805.1"/>
<path d="M511.8,330.3 L515.4,329.5 L519.0,329.0 L521.6,329.5 L524.2,329.5 L526.8,329.5 L529.4,329.3 L532.0,329.0"/>
<path d="M555.3,340.6 L555.1,343.2 L555.8,345.7 L555.3,348.3 L555.1,350.9 L555.2,353.4 L555.6,356.0 L555.6,358.6 L555.5,361.2 L555.7,363.8 L555.6,366.4 L555.6,369.0 L555.9,372.1 L555.2,375.2 L555.3,378.3"/>
<path d="M607.5,335.3 L610.1,335.5 L612.7,335.2 L615.3,335.5 L617.9,334.8 L620.5,335.5 L623.1,335.2 L625.7,335.3 L628.3,334.9 L630.8,333.9 L633.5,333.6 L636.0,333.0 L638.7,332.7 L641.2,331.2 L644.0,330.3 L646.5,328.8 L649.1,327.5 L651.4,325.9 L653.1,323.7 L654.7,321.4 L656.9,319.7 L659.5,319.2 L662.1,318.4 L664.6,317.4 L667.3,317.1 L669.9,316.6 L672.4,315.5 L675.1,315.4 L677.7,315.1 L680.3,314.5 L682.9,313.8 L685.6,313.3 L688.1,312.1 L690.5,310.6 L693.2,310.2 L695.8,309.4 L698.3,308.4 L701.0,308.0 L701.4,310.7 L701.9,313.4 L703.0,316.0 L702.8,319.1 L701.4,321.9 L701.0,325.0"/>
<path d="M597.1,312.0 L598.7,314.4 L599.7,317.1 L602.4,318.7 L605.1,320.3 L607.5,322.3 L607.6,324.9 L607.4,327.5 L607.3,330.1 L607.8,332.7 L607.5,335.3"/>
<path d="M555.6,338.0 L558.2,338.0 L560.8,338.4 L563.4,337.5 L566.0,338.0 L568.6,337.8 L571.2,338.5 L573.8,338.2 L576.4,337.6 L579.0,337.8 L581.6,338.0 L584.2,338.1 L586.8,337.4 L589.3,336.7 L592.0,337.4 L594.5,336.2 L597.2,336.5 L599.7,336.2 L602.3,335.8 L605.0,336.1 L607.5,335.3"/>
<path d="M555.6,361.3 L558.2,361.2 L560.8,361.0 L563.4,360.9 L566.0,361.8 L568.6,361.4 L571.2,361.3 L573.8,362.0 L576.4,362.3 L579.0,362.5 L581.6,363.4 L584.2,363.6 L586.8,364.0 L589.4,363.8 L592.0,363.1 L594.6,362.7 L597.1,361.8 L599.7,361.3 L602.2,360.3 L604.8,359.6 L607.6,359.6 L610.1,358.7 L613.0,361.1 L615.3,364.0 L615.1,366.6 L615.2,369.1 L615.3,371.7 L618.2,373.1 L620.3,375.5 L623.1,377.0 L625.7,379.5 L624.1,382.6 L621.7,385.0"/>
<path d="M682.9,338.0 L680.3,337.8 L677.6,338.5 L675.0,338.0 L672.5,339.5 L670.0,340.8 L667.2,341.5 L664.7,343.0 L662.5,344.4 L660.3,345.9 L658.7,348.2 L656.4,349.5 L654.3,351.0 L653.0,353.9 L651.1,356.3 L649.1,358.7 L646.5,361.3 L643.9,364.0 L643.1,366.8 L641.6,369.3 L639.9,371.7 L638.7,374.3 L641.3,376.9 L643.9,379.5"/>
<path d="M643.9,379.5 L646.3,377.7 L649.2,377.1 L651.5,375.2 L654.3,374.3 L656.9,373.7 L659.5,373.4 L662.2,373.1 L664.7,372.2 L667.3,371.7 L670.0,370.0"/>
<path d="M643.9,379.5 L642.7,382.1 L641.3,384.7 L639.6,387.1 L638.7,389.9 L638.0,392.6 L636.9,395.2 L636.1,397.9 L634.9,400.5 L633.5,402.9 L633.2,405.6 L632.2,408.1 L631.0,410.6 L633.6,410.6 L636.1,411.1 L638.7,410.8 L641.3,410.6"/>
<path d="M625.7,379.5 L627.3,376.8 L629.2,374.3 L631.0,371.7 L633.7,372.1 L636.2,373.3 L638.7,374.3"/>
<path d="M612.7,389.9 L613.6,392.6 L615.3,395.0 L614.8,397.7 L613.9,400.2 L613.0,402.8 L612.7,405.5 L614.3,408.6 L615.3,412.0 L617.9,411.8 L620.5,411.6 L623.2,411.8 L625.7,410.6 L628.3,410.4 L631.0,410.6"/>
<path d="M141.2,80.8 L142.3,77.8 L142.8,74.6 L147.5,73.0 L148.7,70.4 L150.9,68.6 L152.2,66.1 L153.7,63.7 L156.8,60.6 L159.5,60.6 L162.2,60.2 L165.0,60.9 L167.7,60.6 L172.4,59.0 L170.8,56.7 L173.9,56.2 L177.1,56.5 L180.2,55.9 L183.4,55.1 L186.4,53.6 L189.4,52.0 L192.7,51.2 L195.6,52.9 L198.9,53.6 L201.9,52.1 L205.1,51.2 L208.2,51.2 L210.0,53.1 L211.3,55.4 L212.9,57.5 L214.8,59.7 L217.3,61.4 L219.2,63.7 L222.1,66.0 L225.4,67.6 L227.5,69.4 L230.2,70.0 L232.3,71.8 L234.7,73.0 L237.5,74.2 L240.2,75.7 L242.5,77.7 L243.8,80.7 L244.1,84.1 L245.6,87.0 L248.7,87.8 L252.0,88.3 L255.0,89.4 L257.5,90.9 L258.2,94.0 L259.2,96.9 L261.7,96.1 L264.4,96.5 L266.9,95.7 L269.5,95.2 L272.2,94.1 L274.3,92.1 L276.8,90.8 L279.2,89.3 L281.5,87.5 L284.3,86.5 L287.3,86.5 L290.1,85.8 L293.0,85.8 L295.8,86.1 L298.7,85.8 L302.2,83.2 L305.0,83.6 L307.8,84.1 L310.3,85.6 L313.2,85.6 L315.9,86.6 L319.3,87.5 L321.4,90.0 L324.1,91.9 L326.2,94.4 L326.0,97.0 L326.3,99.6 L325.3,102.1 L325.4,104.7 L325.2,107.3 L325.4,109.9 L324.3,112.4 L324.5,115.0 L322.3,117.1 L320.5,119.6 L318.3,121.7 L315.9,123.6 L314.7,126.0 L314.2,128.7 L311.7,129.9 L309.0,130.4 L308.1,133.8 L307.3,137.3 L304.3,138.0 L301.3,138.4 L298.3,138.5 L295.3,139.0 L293.6,142.5 L294.4,144.9 L295.5,147.2 L297.0,149.3 L295.6,152.6 L295.3,156.2 L298.4,156.9 L301.0,158.6 L303.9,159.7 L304.8,162.1 L306.1,164.3 L307.3,166.5 L307.3,169.1 L307.6,171.7 L309.1,174.1 L309.0,176.8 L309.0,180.3 L306.5,181.7 L303.9,183.0 L301.1,183.9 L298.7,185.4 L296.0,185.0 L293.6,183.7 L292.9,181.1 L291.9,178.6 L289.3,178.1 L286.7,178.6 L285.2,181.1 L283.0,183.0 L284.0,186.0 L285.0,189.0 L286.7,192.1 L289.0,194.8 L289.2,198.1 L290.2,201.3 L291.0,204.5 L291.3,207.0 L291.5,209.5 L291.0,212.0 L293.9,212.5 L296.8,212.3 L299.1,213.8 L300.7,216.0 L302.6,218.0 L304.8,219.7 L306.5,222.0 L308.9,223.6 L311.7,224.6 L314.3,226.0 L316.7,227.0 L319.3,227.5 L321.4,229.5 L324.0,230.0 L324.9,232.9 L326.0,235.7 L328.6,236.3 L330.9,237.5 L333.3,238.6 L335.7,239.6 L337.9,241.5 L340.4,242.9 L343.0,244.1 L345.5,245.5 L343.2,247.1 L341.5,249.3 L339.6,251.3 L337.9,253.4 L336.1,255.5 L333.8,257.0 L331.9,260.0 L330.0,263.0 L329.1,265.9 L329.1,268.9 L328.6,271.8 L328.0,274.7 L326.8,277.4 L325.2,279.8 L324.0,282.5 L326.7,284.3 L329.0,286.6 L331.8,288.3 L334.7,289.5 L337.6,290.6 L340.4,292.0 L342.6,293.3 L344.0,295.6 L345.7,297.4 L347.6,299.0 L349.7,300.4 L351.4,302.3 L353.4,303.8 L356.1,304.7 L358.6,305.9 L361.1,307.3 L363.9,308.0 L366.6,308.8 L369.0,310.3 L371.6,311.0 L374.2,311.8 L376.7,313.2 L379.4,313.6 L381.8,315.0 L384.5,315.5 L385.6,318.1 L387.0,320.6 L389.6,321.3 L392.3,321.1 L394.7,322.5 L397.4,322.9 L400.0,323.2 L402.6,323.1 L405.2,322.8 L407.8,322.3 L410.4,322.3 L413.0,322.0 L415.8,322.0 L418.4,321.3 L421.0,320.6 L423.7,321.6 L426.0,323.4 L428.5,325.0 L431.3,325.8 L432.3,329.2 L434.0,332.3 L436.5,333.3 L439.3,333.2 L441.8,334.1 L444.3,335.0 L447.0,335.8 L449.5,336.8 L452.1,338.0 L454.7,338.8 L457.1,340.5 L460.0,341.0 L462.2,343.1 L465.0,344.0 L467.6,344.3 L470.2,344.9 L472.9,344.6 L475.5,345.3 L478.1,345.6 L480.6,345.0 L483.2,344.9 L485.8,345.3 L488.3,346.9 L491.0,348.0 L493.6,347.9 L496.2,348.3 L498.8,347.6 L501.4,348.5 L504.0,347.9 L506.6,348.0 L509.3,347.4 L511.8,346.1 L514.4,345.3 L514.0,342.7 L512.9,340.2 L512.5,337.6 L512.4,334.9 L511.8,332.3 L512.1,329.7 L513.1,327.2 L513.2,324.6 L513.3,321.9 L513.6,319.3 L514.4,316.8 L514.6,313.9 L514.2,311.1 L513.8,308.2 L516.5,307.9 L519.0,306.9 L522.2,305.1 L525.5,303.6 L528.6,304.5 L531.3,306.2 L531.8,309.1 L532.0,312.0 L532.4,314.9 L531.6,317.9 L532.4,320.9 L532.0,323.8 L533.2,325.7 L532.0,329.0 L532.0,332.9 L534.5,335.5 L537.1,336.8 L539.7,338.0 L542.9,338.5 L546.2,338.7 L548.9,338.9 L551.4,340.0 L554.0,340.6 L557.0,339.7 L560.2,339.3 L563.1,338.0 L565.6,336.9 L568.3,336.0 L571.6,337.3 L574.8,338.7 L578.1,338.7 L581.3,338.5 L584.5,337.8 L587.3,337.2 L590.1,336.9 L592.9,336.8 L595.8,337.1 L598.6,336.5 L601.4,336.0 L603.9,335.4 L606.6,335.4 L609.1,334.4 L611.6,333.7 L610.1,331.3 L608.8,328.8 L608.2,326.0 L606.8,323.3 L606.1,320.3 L604.8,317.5 L602.2,316.3 L600.3,314.1 L598.0,312.5 L600.5,312.1 L603.1,311.4 L605.7,311.4 L608.2,310.8 L611.0,310.3 L613.5,309.2 L616.3,308.7 L619.1,308.6 L621.7,307.4 L624.3,305.9 L626.6,303.9 L629.0,302.0 L631.8,300.7 L633.3,298.0 L635.0,295.5 L637.3,293.3 L638.6,290.5 L641.3,290.3 L644.0,289.8 L646.7,289.9 L649.3,288.7 L652.0,288.8 L654.4,287.6 L656.7,286.3 L658.7,284.4 L660.9,282.9 L663.1,281.5 L665.6,280.4 L666.9,277.6 L667.6,274.7 L669.0,272.0 L671.3,273.3 L674.0,273.6 L676.6,274.0 L679.0,275.3 L681.7,274.4 L684.3,273.5 L687.1,273.0 L689.8,272.1 L692.6,272.0 L695.3,271.1 L697.8,269.8 L700.0,267.9 L702.7,266.9 L704.6,269.3 L706.2,271.9 L707.7,274.6 L709.5,277.0 L710.5,279.3 L711.8,281.5 L712.9,283.8 L712.2,286.4 L710.9,288.8 L710.3,291.4 L709.5,294.0 L712.2,294.8 L714.8,295.6 L717.7,295.7 L720.3,296.5 L723.0,297.3 L725.3,298.9 L727.9,300.0 L730.8,300.7 L733.1,302.3 L734.6,304.4 L735.0,307.0 L736.5,309.0 L734.2,310.6 L732.0,312.6 L729.7,314.2 L727.8,316.8 L724.9,318.4 L723.0,321.0 L723.9,323.5 L724.3,326.1 L725.1,328.7 L726.4,331.0 L724.3,329.6 L721.8,329.0 L719.6,327.7 L717.3,326.0 L715.1,324.3 L712.9,322.6 L710.4,323.7 L707.7,323.9 L705.2,324.9 L702.7,326.0 L700.2,327.2 L697.6,328.4 L695.3,330.1 L692.6,331.0 L690.0,332.3 L688.1,334.3 L685.8,336.0 L684.7,338.9 L684.5,342.1 L683.7,345.1 L682.5,348.0 L682.1,350.7 L681.0,353.3 L680.4,356.0 L680.0,358.8 L679.0,361.4 L678.1,363.8 L677.1,366.1 L675.9,368.3 L674.7,370.6 L673.8,372.9 L672.3,375.0 L670.6,378.3 L669.0,381.7 L668.6,384.2 L668.9,386.8 L668.9,389.3 L669.0,391.8 L667.2,394.3 L666.0,397.2 L663.9,399.4 L662.2,402.0 L661.8,404.8 L661.2,407.5 L660.5,410.2 L659.1,412.7 L658.8,415.5 L655.4,415.9 L652.0,415.5 L649.4,414.4 L646.7,413.8 L643.9,413.5 L641.2,413.0 L638.6,412.0 L638.4,414.9 L639.3,417.7 L639.2,420.5 L640.3,423.3 L640.0,426.2 L640.3,429.0 L640.0,431.5 L638.9,433.8 L638.1,436.2 L637.9,438.7 L637.0,441.1 L636.0,443.4 L635.2,445.8 L634.1,448.4 L633.7,451.2 L632.8,453.9 L632.9,456.8 L631.8,459.4 L630.1,461.9 L628.4,464.4 L625.1,463.5 L621.7,462.7 L621.2,460.2 L620.7,457.7 L620.3,455.2 L620.0,452.6 L619.6,450.0 L618.4,447.6 L618.7,444.9 L617.5,442.4 L617.1,439.9 L616.1,437.4 L615.3,434.9 L615.0,432.3 L614.4,429.7 L613.7,427.1 L612.0,424.9 L611.6,422.2 L610.3,425.0 L608.0,427.1 L606.4,429.7 L604.8,432.3 L602.9,434.9 L600.3,436.8 L598.0,439.0 L595.6,437.0 L593.6,434.5 L591.3,432.3 L591.1,429.5 L589.8,426.9 L589.5,424.2 L588.4,421.6 L588.0,418.8 L588.7,416.3 L590.4,414.4 L591.3,412.0 L593.7,410.8 L596.5,410.7 L599.0,409.8 L601.4,408.7 L603.9,407.0 L606.7,405.7 L609.1,403.8 L611.6,402.0 L611.6,398.6 L613.3,396.3 L615.0,394.1 L617.1,392.1 L618.2,389.4 L620.1,387.3 L621.7,385.0 L620.4,382.8 L619.0,380.7 L618.3,378.3 L615.8,378.8 L613.3,379.7 L610.7,379.9 L608.2,380.5 L605.5,380.0 L603.0,380.5 L600.5,381.2 L598.0,381.7 L595.4,381.5 L592.9,381.5 L590.3,381.4 L587.7,382.1 L585.1,382.0 L582.6,382.0 L580.0,381.6 L577.0,381.7 L574.0,382.3 L571.0,382.2 L568.3,382.2 L565.6,381.6 L563.0,381.0 L560.5,379.9 L557.7,379.7 L555.3,378.3 L555.5,375.7 L555.2,373.1 L555.4,370.5 L555.7,367.9 L554.8,365.3 L554.9,362.7 L555.3,360.1 L554.8,357.5 L555.0,354.9 L555.3,352.3 L552.7,353.6 L550.9,355.7 L550.5,358.6 L548.8,360.8 L545.0,360.0 L541.0,357.5 L539.2,354.9 L537.5,352.3 L535.8,349.7 L532.0,352.3 L529.8,350.6 L528.0,348.4 L525.5,347.0 L522.9,345.8 L519.0,347.0 L517.6,349.8 L515.7,352.2 L513.9,354.7 L512.5,357.5 L513.4,360.0 L513.5,362.7 L513.8,365.3 L516.3,366.6 L517.9,369.0 L520.3,370.5 L523.4,371.2 L526.5,371.7 L529.4,373.0 L531.2,375.6 L533.8,377.3 L535.8,379.6 L532.0,382.2 L528.9,382.2 L526.0,380.9 L522.9,381.0 L521.2,383.2 L519.0,384.8 L517.0,387.4 L515.0,390.0 L513.6,391.8 L514.9,393.9 L516.2,396.2 L517.2,398.5 L518.5,400.6 L519.6,402.9 L520.4,405.3 L520.8,408.0 L522.0,410.4 L523.1,412.9 L523.8,415.5 L525.5,418.8 L527.1,422.2 L527.0,424.8 L527.5,427.4 L527.5,430.0 L529.4,432.0 L532.3,432.7 L535.3,432.6 L532.7,435.2 L532.0,439.7 L534.0,443.0 L534.0,446.2 L535.3,449.5 L535.4,452.1 L536.7,454.6 L536.6,457.3 L536.7,460.2 L537.5,462.9 L537.9,465.7 L537.6,469.3 L537.9,472.9 L535.3,475.5 L532.7,474.8 L530.1,475.5 L527.5,474.8 L523.6,475.5 L520.6,475.3 L517.7,474.8 L515.8,470.3 L513.2,466.4 L510.6,469.0 L507.9,471.3 L504.7,472.9 L501.2,471.8 L497.6,471.6 L497.4,473.8 L495.4,476.0 L493.2,478.0 L491.3,480.2 L489.4,482.4 L487.0,484.2 L486.5,486.8 L485.4,489.3 L484.8,491.9 L484.4,494.5 L486.9,495.7 L489.6,496.5 L487.7,498.2 L485.2,499.0 L483.1,500.4 L482.2,502.9 L481.8,505.6 L479.3,507.7 L476.6,509.5 L475.0,512.4 L472.7,514.7 L470.2,515.8 L467.6,516.9 L464.9,517.3 L462.3,518.4 L459.7,519.3 L457.0,520.1 L454.5,521.2 L452.4,522.8 L449.9,523.6 L448.0,525.6 L445.5,526.4 L443.6,528.4 L441.2,529.9 L439.0,531.6 L437.1,534.0 L434.5,535.7 L432.5,538.0 L430.9,540.8 L428.6,543.2 L427.2,545.3 L425.4,547.1 L424.0,549.3 L422.1,551.0 L420.3,553.1 L418.4,555.1 L416.9,557.5 L414.5,559.2 L411.9,560.5 L409.1,561.4 L407.2,563.9 L404.7,565.7 L402.6,567.9 L401.2,570.4 L399.6,572.6 L398.0,575.0 L395.4,576.3 L392.6,577.4 L390.3,579.4 L387.5,580.3 L385.3,582.3 L382.8,584.0 L380.6,585.9 L378.4,588.0 L375.8,589.4 L374.7,592.5 L374.5,595.8 L377.1,599.7 L374.5,600.2 L371.9,601.0 L369.4,601.9 L367.4,603.7 L365.2,605.0 L362.9,606.2 L360.2,606.5 L357.7,607.7 L355.0,607.8 L352.5,608.8 L350.7,611.3 L347.9,612.9 L346.0,615.3 L343.8,617.7 L342.1,620.5 L338.8,620.1 L335.6,619.2 L332.9,620.3 L330.5,622.0 L327.8,623.1 L326.4,625.2 L325.2,627.4 L323.9,629.6 L324.2,632.5 L323.1,635.3 L323.4,638.2 L323.6,640.9 L324.7,643.4 L325.1,646.0 L325.5,648.6 L325.7,651.2 L325.3,653.8 L325.6,656.4 L325.5,659.0 L325.3,661.9 L326.1,664.7 L326.4,667.6 L325.9,670.5 L326.5,673.3 L327.9,676.2 L329.4,679.0 L328.3,682.1 L328.6,685.4 L327.5,688.5 L327.0,691.5 L325.8,694.3 L324.9,697.3 L323.6,700.0 L322.8,702.5 L321.5,704.6 L320.3,706.9 L319.1,709.1 L318.0,711.4 L317.0,713.8 L316.6,716.5 L316.0,719.0 L315.9,721.5 L316.1,724.1 L316.0,726.6 L315.8,729.3 L315.0,731.7 L314.0,734.2 L318.0,736.0 L317.6,738.9 L318.1,741.7 L318.3,744.6 L317.5,747.5 L318.4,750.3 L318.0,753.2 L314.0,753.2 L311.5,753.8 L309.0,754.3 L306.5,755.0 L304.5,756.8 L302.7,758.9 L300.8,760.8 L299.1,763.8 L297.0,766.5 L297.6,769.5 L299.0,772.2 L301.9,773.9 L304.6,776.0 L306.5,779.8 L302.7,777.0 L300.1,776.7 L297.5,776.6 L295.0,776.0 L292.8,777.4 L290.5,778.4 L287.8,778.4 L285.6,779.8 L282.2,780.0 L279.0,781.0 L278.0,784.6 L277.8,788.4 L277.7,791.5 L277.8,794.7 L276.6,797.0 L274.7,798.8 L272.7,800.4 L270.8,802.0 L268.4,803.0 L265.2,804.7 L262.2,806.7 L258.9,806.4 L255.9,805.1 L253.9,802.9 L251.6,801.0 L249.6,798.8 L247.2,797.0 L245.5,794.7 L243.4,792.6 L241.5,790.3 L240.0,787.7 L238.2,785.3 L237.3,782.6 L237.0,779.7 L235.6,777.2 L235.0,774.4 L234.0,771.7 L233.1,769.2 L233.2,766.5 L232.9,763.8 L231.9,761.3 L230.5,758.8 L229.8,756.1 L228.3,753.7 L227.7,750.9 L227.2,748.1 L225.6,745.7 L225.1,742.8 L223.6,740.4 L222.2,738.2 L221.1,735.8 L220.5,733.3 L219.1,731.0 L218.1,728.4 L216.8,726.0 L215.2,723.5 L213.9,720.7 L211.9,718.5 L210.1,715.8 L208.3,713.0 L207.0,710.0 L206.1,706.9 L204.1,704.4 L203.3,701.3 L201.8,699.0 L200.4,696.7 L199.6,694.0 L198.3,691.7 L198.4,688.9 L197.2,686.6 L196.4,684.2 L195.9,681.7 L194.9,679.4 L194.7,676.8 L194.4,674.3 L193.5,671.9 L193.5,669.4 L192.8,667.0 L192.3,664.5 L191.8,661.9 L190.2,659.7 L189.1,657.3 L188.6,654.7 L187.0,652.5 L185.7,650.0 L184.9,647.4 L182.0,645.2 L179.7,642.3 L178.2,639.6 L176.9,636.8 L175.6,634.0 L174.1,631.8 L173.7,629.1 L172.5,626.8 L171.9,624.2 L170.0,622.1 L169.4,619.5 L168.0,616.7 L167.0,613.8 L165.2,611.2 L164.6,608.5 L163.2,606.1 L162.7,603.4 L162.1,600.8 L161.4,598.2 L162.0,595.5 L160.7,592.9 L160.8,590.3 L160.5,587.6 L160.2,585.0 L159.3,582.4 L159.1,579.8 L159.1,577.1 L158.1,574.4 L158.0,571.5 L157.3,568.7 L156.9,565.9 L156.0,563.2 L155.0,560.5 L154.3,558.0 L154.5,555.4 L153.8,553.0 L153.4,550.5 L152.9,548.0 L152.5,545.1 L152.0,542.4 L150.5,539.8 L150.3,536.9 L149.5,534.1 L148.7,531.4 L148.6,528.6 L147.9,525.9 L147.7,523.1 L147.8,520.3 L147.4,517.5 L146.6,514.8 L147.4,512.2 L148.6,509.8 L150.3,507.6 L151.0,505.0 L149.9,501.8 L149.8,498.4 L149.6,495.1 L148.5,492.0 L146.8,488.9 L146.0,485.5 L145.2,482.3 L144.6,479.0 L144.1,475.8 L144.6,472.5 L143.7,469.5 L144.1,466.4 L143.3,463.4 L144.3,460.2 L144.6,456.9 L142.0,456.9 L139.4,455.6 L136.8,459.5 L136.4,462.7 L136.2,466.0 L136.6,469.2 L136.8,472.5 L136.3,475.8 L135.5,479.0 L134.6,481.8 L133.0,484.2 L130.1,485.0 L127.9,487.1 L125.0,488.0 L122.3,489.0 L120.0,490.9 L117.3,492.0 L114.7,492.8 L112.1,493.7 L109.5,494.5 L106.1,495.0 L103.0,496.5 L100.3,495.9 L97.9,494.5 L95.6,493.4 L93.5,492.1 L91.4,490.6 L89.0,489.2 L87.2,487.1 L84.9,485.5 L82.5,483.6 L80.3,481.5 L78.4,479.0 L76.3,476.7 L74.1,474.7 L71.9,472.5 L69.9,470.2 L67.3,468.4 L65.4,466.0 L63.5,464.0 L61.0,462.6 L58.9,460.8 L57.0,456.9 L57.6,453.0 L60.2,451.7 L62.8,454.3 L65.4,456.2 L68.5,454.4 L71.9,453.0 L74.5,451.7 L77.1,450.4 L79.7,449.4 L82.4,449.0 L84.9,447.8 L87.2,444.9 L90.0,442.6 L92.7,440.0 L94.4,435.5 L93.4,436.6 L90.6,438.5 L87.5,440.0 L84.3,441.4 L81.0,442.6 L77.5,443.5 L74.0,444.0 L71.1,444.2 L68.4,443.3 L65.8,442.9 L63.7,441.2 L61.2,440.7 L59.0,439.0 L56.5,437.6 L53.9,436.6 L51.1,434.2 L48.7,431.4 L48.1,428.6 L46.6,426.2 L45.6,422.0 L42.5,421.6 L39.4,422.0 L39.6,418.3 L40.4,414.7 L42.9,413.1 L45.6,411.6 L48.3,412.6 L50.8,414.2 L52.3,413.2 L52.3,410.3 L52.9,407.5 L55.0,404.4 L58.0,405.4 L61.6,405.1 L65.3,405.4 L68.4,405.9 L71.6,405.4 L75.7,407.5 L78.3,407.8 L80.9,408.0 L84.0,406.4 L85.9,404.6 L88.2,403.3 L90.9,402.4 L93.6,401.6 L96.5,401.2 L97.5,405.4 L100.1,405.2 L102.3,403.6 L104.8,403.3 L106.9,399.2 L109.0,395.0 L106.8,392.5 L105.6,389.9 L104.7,387.1 L104.1,384.3 L102.8,381.7 L101.1,379.2 L100.1,376.3 L98.4,374.3 L97.4,371.8 L96.0,369.6 L93.5,367.7 L90.5,367.1 L87.9,365.5 L87.0,362.0 L85.2,358.8 L85.7,355.6 L86.6,352.5 L86.6,349.3 L85.2,345.3 L81.8,345.1 L78.5,344.6 L76.3,343.3 L74.0,342.4 L71.7,341.3 L71.0,338.6 L70.4,335.9 L70.9,333.1 L71.9,330.4 L73.1,327.8 L75.3,326.0 L76.9,323.5 L79.3,321.9 L81.2,319.7 L82.4,317.3 L83.7,315.1 L85.2,312.9 L86.8,310.7 L88.5,308.7 L90.6,306.9 L93.3,306.8 L96.0,306.2 L98.7,310.2 L101.4,314.3 L104.0,313.2 L106.8,313.0 L109.5,312.3 L112.6,311.2 L115.9,311.4 L119.0,310.2 L121.7,309.3 L124.2,308.1 L127.0,307.5 L128.1,304.7 L129.7,302.1 L131.2,299.7 L133.5,297.8 L135.0,295.4 L135.6,292.4 L136.4,289.4 L137.9,287.3 L139.5,285.3 L142.7,283.7 L145.8,282.1 L149.1,280.9 L152.0,279.0 L153.3,276.0 L155.1,273.2 L157.2,270.7 L157.9,267.8 L159.5,265.2 L160.3,262.4 L160.9,259.9 L161.4,257.5 L162.4,255.1 L164.5,253.5 L166.6,252.0 L169.6,250.7 L172.8,249.9 L175.9,248.9 L175.9,245.8 L174.9,241.6 L177.2,239.2 L179.0,236.4 L181.2,234.5 L183.2,232.3 L185.0,229.6 L187.5,227.5 L189.4,225.0 L193.6,222.5 L191.9,220.6 L189.7,219.2 L189.8,215.8 L191.0,212.7 L190.4,208.8 L191.0,206.2 L191.0,203.6 L193.6,201.0 L195.8,199.3 L197.5,197.1 L200.0,196.1 L202.7,195.8 L205.3,194.5 L208.0,193.2 L210.5,189.4 L209.2,188.7 L206.2,186.7 L202.7,185.5 L200.1,185.3 L197.5,185.0 L195.0,184.2 L193.6,180.3 L193.9,177.3 L194.3,174.4 L191.0,176.4 L187.9,175.3 L184.8,174.3 L182.0,172.5 L179.0,171.2 L176.1,169.9 L172.9,169.2 L170.7,167.4 L168.3,166.0 L168.1,162.9 L167.4,159.9 L166.4,156.9 L166.6,153.9 L166.7,150.8 L167.0,147.8 L166.0,145.4 L166.5,142.7 L165.6,140.3 L164.2,137.2 L163.6,133.8 L163.5,130.5 L163.0,127.3 L164.9,124.0 L169.5,122.7 L170.8,118.2 L174.0,116.9 L177.9,114.3 L179.2,110.4 L177.3,106.5 L174.9,105.7 L172.7,104.5 L170.1,103.2 L170.1,100.0 L170.8,95.7 L168.2,94.6 L165.4,94.3 L162.5,94.4 L159.9,93.3 L156.8,90.2 L154.3,88.9 L152.1,87.1 L149.0,86.8 L145.9,86.3 L143.9,83.3 L141.2,80.8 Z"/>
</g>
<path d="M630.7,671.0 L632.5,676.0 L633.1,679.6 L631.3,688.2 L630.0,691.9 L629.4,696.8 L629.4,704.2 L627.0,706.6 L625.2,715.2 L624.5,723.8 L622.7,728.1 L620.2,727.5 L619.6,721.3 L619.0,714.0 L621.5,709.1 L623.3,704.2 L623.3,696.8 L622.7,689.4 L625.8,682.1 L627.6,674.7 Z" fill="#e6d6cc" stroke="#7a7a7a" stroke-width="1.6"/>
<path d="M617.5,738.5 L620.5,739.5 L621.5,744.0 L620.0,747.7 L615.5,747.5 L614.7,743.0 Z" fill="#e6d6cc" stroke="#7a7a7a" stroke-width="1.6"/>
<path d="M39.4,418.0 L40.5,413.0 L44.0,411.0 L46.0,410.5 L48.0,412.5 L52.5,413.0 L52.0,416.0 L48.5,417.0 L46.0,419.0 L45.5,423.0 L41.0,424.0 L39.4,422.0 Z" fill="#7d7d7d" stroke="#7d7d7d" stroke-width="0.8"/>
<path d="M532.7,446.2 L535.3,449.5 L536.6,457.3 L537.9,465.7 L537.9,472.9 L535.3,475.5 L527.5,474.8 L523.6,475.5 L517.7,474.8 L515.8,470.3 L518.4,467.0 L524.9,463.8 L527.5,458.0 L531.4,453.4 Z" fill="#7d7d7d" stroke="#7d7d7d" stroke-width="0.8"/>
<path d="M71.6,452.0 L76.8,450.5 L76.0,454.5 L72.0,455.0 Z" fill="#7d7d7d" stroke="#7d7d7d" stroke-width="0.8"/>
<path d="M632.0,704.0 L634.0,706.0 L632.5,712.0 L631.5,716.4 L629.4,713.0 L630.0,708.0 Z" fill="#7d7d7d" stroke="#7d7d7d" stroke-width="0.8"/>
<path d="M621.5,688.0 L624.0,687.5 L624.5,693.5 L622.0,694.0 Z" fill="#7d7d7d" stroke="#7d7d7d" stroke-width="0.8"/>
<path d="M619.5,720.0 L622.5,719.6 L623.0,727.5 L620.0,727.8 Z" fill="#7d7d7d" stroke="#7d7d7d" stroke-width="0.8"/>
<path d="M290.0,373.0 L294.5,372.0 L296.0,376.0 L297.5,380.0 L296.0,382.0 L292.0,380.5 L289.5,377.0 Z" fill="#7d7d7d" stroke="#7d7d7d" stroke-width="0.8"/>
<path d="M303.0,380.0 L306.5,378.5 L308.0,380.5 L307.0,383.5 L303.5,383.0 Z" fill="#7d7d7d" stroke="#7d7d7d" stroke-width="0.8"/>
<path d="M630.0,670.0 L631.5,669.5 L632.0,673.0 L630.5,674.0 Z" fill="#7d7d7d" stroke="#7d7d7d" stroke-width="0.8"/>
<circle cx="252.6" cy="290.6" r="4.8" fill="none" stroke="#777" stroke-width="1.5"/><path d="M249,288 L252,291 L256,289 M252,291 L251,295" stroke="#f7f7f7" stroke-width="0.9" fill="none"/>
<circle cx="645.3" cy="641.3" r="1.2" fill="#7a7a7a"/>
<circle cx="650.3" cy="704.8" r="1.3" fill="#7a7a7a"/>
<circle cx="612.3" cy="722.6" r="1.3" fill="#7a7a7a"/>
<circle cx="625.4" cy="779.7" r="1.4" fill="#7a7a7a"/>
<circle cx="634.4" cy="801.2" r="1.6" fill="#7a7a7a"/>
<circle cx="641.2" cy="808" r="2.2" fill="#7a7a7a"/>
<circle cx="645.8" cy="795.5" r="1.0" fill="#7a7a7a"/>
<circle cx="145.4" cy="746.3" r="0.9" fill="#7a7a7a"/>
<circle cx="169" cy="741" r="1.0" fill="#7a7a7a"/>
<circle cx="155" cy="801.2" r="0.9" fill="#7a7a7a"/>
<circle cx="638" cy="805" r="1.3" fill="#7a7a7a"/>
</svg>
</body></html>
